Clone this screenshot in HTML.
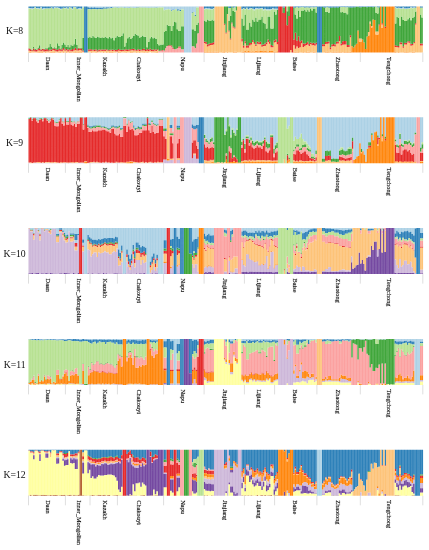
<!DOCTYPE html><html><head><meta charset="utf-8"><title>Structure K=8-12</title><style>html,body{margin:0;padding:0;background:#fff}svg{display:block}text{font-family:"Liberation Serif",serif;fill:#111}</style></head><body>
<svg width="429" height="550" viewBox="0 0 429 550">
<rect width="429" height="550" fill="#fff"/>
<defs><filter id="soft" x="-2%" y="-10%" width="104%" height="120%"><feGaussianBlur stdDeviation="0.38"/></filter></defs>
<g filter="url(#soft)"><path fill="#FF8711" d="M28.5 51.95h1.38v0.55h-1.38zM29.99 51.81h1.38v0.69h-1.38zM31.49 52.31h1.38v0.19h-1.38zM32.98 52.36h1.38v0.14h-1.38zM34.48 52.24h1.38v0.26h-1.38zM35.97 52.16h1.38v0.34h-1.38zM37.47 51.88h1.38v0.62h-1.38zM38.96 52.12h1.38v0.38h-1.38zM40.46 52.08h1.38v0.42h-1.38zM41.95 52h1.38v0.5h-1.38zM43.44 52.4h1.38v0.1h-1.38zM44.94 52h1.38v0.5h-1.38zM46.43 52.31h1.38v0.19h-1.38zM47.93 52.15h1.38v0.35h-1.38zM49.42 51.84h1.38v0.66h-1.38zM50.92 51.76h1.38v0.74h-1.38zM52.41 51.43h1.38v1.07h-1.38zM53.91 52.01h1.38v0.49h-1.38zM55.4 52.19h1.38v0.31h-1.38zM56.89 52.33h1.38v0.17h-1.38zM58.39 52.03h1.38v0.47h-1.38zM59.88 51.53h1.38v0.97h-1.38zM61.38 52.15h1.38v0.35h-1.38zM62.87 51.45h1.38v1.05h-1.38zM64.37 52.36h1.38v0.14h-1.38zM65.86 51.58h1.38v0.92h-1.38zM67.36 52.33h1.38v0.17h-1.38zM68.85 52.12h1.38v0.38h-1.38zM70.34 51.95h1.38v0.55h-1.38zM71.84 52.27h1.38v0.23h-1.38zM73.33 51.71h1.38v0.79h-1.38zM74.83 51.49h1.38v1.01h-1.38zM76.32 51.92h1.38v0.58h-1.38zM77.82 51.85h1.38v0.65h-1.38zM79.31 51.61h1.38v0.89h-1.38zM80.81 51.53h1.38v0.97h-1.38zM87.7 52.13h1.41v0.37h-1.41zM90.75 52.06h1.41v0.44h-1.41zM92.28 52.24h1.41v0.26h-1.41zM95.33 52.08h1.41v0.42h-1.41zM96.85 52.35h1.41v0.15h-1.41zM98.38 52.38h1.41v0.12h-1.41zM99.9 52.23h1.41v0.27h-1.41zM101.42 52.38h1.41v0.12h-1.41zM102.95 51.97h1.41v0.53h-1.41zM104.47 52.42h1.41v0.08h-1.41zM106 52.07h1.39v0.43h-1.39zM107.5 52.23h1.39v0.27h-1.39zM109 52.12h1.39v0.38h-1.39zM110.5 51.91h1.39v0.59h-1.39zM112 51.98h1.39v0.52h-1.39zM113.5 52.31h1.39v0.19h-1.39zM115 52.23h1.39v0.27h-1.39zM116.5 52.42h1.39v0.08h-1.39zM118 52.12h1.39v0.38h-1.39zM119.5 52.09h1.39v0.41h-1.39zM122.5 52.34h1.39v0.16h-1.39zM124 52.13h1.39v0.37h-1.39zM125.5 51.96h1.39v0.54h-1.39zM127 52.42h1.39v0.08h-1.39zM128.5 52.27h1.39v0.23h-1.39zM130 51.93h1.39v0.57h-1.39zM131.5 52.07h1.39v0.43h-1.39zM133 52.37h1.39v0.13h-1.39zM134.5 52.18h1.39v0.32h-1.39zM136 51.99h1.39v0.51h-1.39zM137.5 52.17h1.39v0.33h-1.39zM139 52.01h1.39v0.49h-1.39zM140.5 52.3h1.39v0.2h-1.39zM142 52.19h1.39v0.31h-1.39zM143.5 51.93h1.39v0.57h-1.39zM145 52.37h1.39v0.13h-1.39zM146.5 52.12h1.39v0.38h-1.39zM148 52.31h1.39v0.19h-1.39zM149.5 52.38h1.39v0.12h-1.39zM151 52.16h1.39v0.34h-1.39zM152.5 52.14h1.39v0.36h-1.39zM154 52.26h1.39v0.24h-1.39zM155.5 52.09h1.39v0.41h-1.39zM157 51.93h1.39v0.57h-1.39zM203.9 51.48h1.39v1.02h-1.39zM205.4 51.98h1.39v0.52h-1.39zM206.9 51.9h1.39v0.6h-1.39zM208.4 51.72h1.39v0.78h-1.39zM209.9 51.94h1.39v0.56h-1.39zM211.4 51.46h1.39v1.04h-1.39zM212.9 51.49h1.39v1.01h-1.39zM214.4 51.76h1.49v0.74h-1.49zM216 51.69h1.49v0.81h-1.49zM217.6 51.6h1.49v0.9h-1.49zM219.2 52.18h1.49v0.32h-1.49zM220.8 52.19h1.49v0.31h-1.49zM222.4 51.58h1.49v0.92h-1.49zM224 52h1.34v0.5h-1.34zM226.9 51.7h1.34v0.8h-1.34zM232.7 52h1.34v0.5h-1.34zM234.15 51.7h1.34v0.8h-1.34zM235.6 51.7h1.34v0.8h-1.34zM241.4 51.58h1.42v0.92h-1.42zM242.93 51.56h1.42v0.94h-1.42zM244.47 50.97h1.42v1.53h-1.42zM246 51.4h1.42v1.1h-1.42zM247.53 51.12h1.42v1.38h-1.42zM249.07 51.29h1.42v1.21h-1.42zM250.6 51.61h1.42v0.89h-1.42zM252.13 51.25h1.42v1.25h-1.42zM253.67 51.62h1.42v0.88h-1.42zM255.2 50.87h1.42v1.63h-1.42zM256.73 51.34h1.42v1.16h-1.42zM258.27 51.28h1.42v1.22h-1.42zM259.8 51.1h1.42v1.4h-1.42zM261.33 51.06h1.42v1.44h-1.42zM262.87 51.29h1.42v1.21h-1.42zM264.4 51.1h1.42v1.4h-1.42zM265.93 51.2h1.42v1.3h-1.42zM267.47 51.54h1.42v0.96h-1.42zM269 50.99h1.42v1.51h-1.42zM270.53 51.11h1.42v1.39h-1.42zM272.07 51.08h1.42v1.42h-1.42zM273.6 51.79h1.42v0.71h-1.42zM275.13 51.57h1.42v0.93h-1.42zM276.67 51.14h1.42v1.36h-1.42zM293.2 51.6h1.45v0.9h-1.45zM294.76 51.84h1.45v0.66h-1.45zM296.31 51.62h1.45v0.88h-1.45zM297.87 51.91h1.45v0.59h-1.45zM299.42 52.19h1.45v0.31h-1.45zM300.98 52.36h1.45v0.14h-1.45zM302.53 52.1h1.45v0.4h-1.45zM304.09 52.2h1.45v0.3h-1.45zM305.64 51.96h1.45v0.54h-1.45zM307.2 51.63h1.3v0.87h-1.3zM308.61 51.75h1.3v0.75h-1.3zM310.03 52.36h1.3v0.14h-1.3zM311.44 52.26h1.3v0.24h-1.3zM312.86 51.64h1.3v0.86h-1.3zM314.27 52.11h1.3v0.39h-1.3zM315.69 52.17h1.3v0.33h-1.3zM322 52.2h1.43v0.3h-1.43zM323.54 52.27h1.43v0.23h-1.43zM325.08 52.09h1.43v0.41h-1.43zM326.63 51.8h1.43v0.7h-1.43zM328.17 51.61h1.43v0.89h-1.43zM329.71 52.34h1.43v0.16h-1.43zM331.25 52.06h1.43v0.44h-1.43zM332.79 51.62h1.43v0.88h-1.43zM334.34 51.98h1.43v0.52h-1.43zM335.88 51.82h1.43v0.68h-1.43zM337.42 51.62h1.43v0.88h-1.43zM338.96 51.92h1.43v0.58h-1.43zM340.51 51.9h1.43v0.6h-1.43zM342.05 52.24h1.43v0.26h-1.43zM343.59 51.98h1.43v0.52h-1.43zM345.13 52.05h1.43v0.45h-1.43zM346.67 52.04h1.43v0.46h-1.43zM348.22 51.93h1.43v0.57h-1.43zM349.76 51.78h1.43v0.72h-1.43zM351.3 46.1h1.4v6.4h-1.4zM352.81 47.5h1.4v5h-1.4zM354.33 45.5h1.4v7h-1.4zM355.84 43.8h1.4v8.7h-1.4zM357.35 30.5h1.4v22h-1.4zM358.87 41.5h1.4v11h-1.4zM360.38 41.5h1.4v11h-1.4zM361.89 39.5h1.4v13h-1.4zM363.4 42.5h1.4v10h-1.4zM364.92 49h1.4v3.5h-1.4zM366.43 36.5h1.4v16h-1.4zM367.94 35.5h1.4v17h-1.4zM369.46 23.5h1.4v29h-1.4zM370.97 27.5h1.4v25h-1.4zM372.48 19.5h1.4v33h-1.4zM374 19.9h1.4v32.6h-1.4zM375.51 34.5h1.4v18h-1.4zM377.02 34.5h1.4v18h-1.4zM378.53 25.5h1.4v27h-1.4zM380.05 6.5h1.4v46h-1.4zM381.56 28h1.4v24.5h-1.4zM383.07 6.5h1.4v46h-1.4zM384.59 28h1.4v24.5h-1.4zM386.1 6.5h1.34v46h-1.34zM387.55 6.5h1.34v46h-1.34zM389 6.5h1.34v46h-1.34zM390.45 6.5h1.34v46h-1.34zM391.9 6.5h1.34v46h-1.34zM393.35 6.5h1.34v46h-1.34zM394.8 52.06h1.44v0.44h-1.44zM396.35 52.34h1.44v0.16h-1.44zM397.91 51.9h1.44v0.6h-1.44zM399.46 52.13h1.44v0.37h-1.44zM401.02 52.3h1.44v0.2h-1.44zM402.57 52.23h1.44v0.27h-1.44zM404.12 52.1h1.44v0.4h-1.44zM405.68 51.96h1.44v0.54h-1.44zM407.23 52.1h1.44v0.4h-1.44zM408.78 52.33h1.44v0.17h-1.44zM410.34 52.16h1.44v0.34h-1.44zM411.89 51.87h1.44v0.63h-1.44zM413.45 51.84h1.44v0.66h-1.44z"/><path fill="#FDC378" d="M28.5 50.69h1.38v1.26h-1.38zM29.99 50.93h1.38v0.88h-1.38zM31.49 51.3h1.38v1h-1.38zM32.98 50.68h1.38v1.68h-1.38zM34.48 51.53h1.38v0.72h-1.38zM35.97 51.43h1.38v0.73h-1.38zM37.47 50.54h1.38v1.34h-1.38zM38.96 50.42h1.38v1.7h-1.38zM40.46 51.16h1.38v0.93h-1.38zM41.95 50.45h1.38v1.55h-1.38zM43.44 51.49h1.38v0.91h-1.38zM44.94 51.23h1.38v0.77h-1.38zM46.43 51.28h1.38v1.03h-1.38zM47.93 51.35h1.38v0.8h-1.38zM49.42 50.69h1.38v1.15h-1.38zM50.92 50.94h1.38v0.82h-1.38zM52.41 49.93h1.38v1.5h-1.38zM53.91 50.45h1.38v1.55h-1.38zM55.4 51.23h1.38v0.96h-1.38zM56.89 51.54h1.38v0.79h-1.38zM58.39 50.88h1.38v1.15h-1.38zM59.88 50.65h1.38v0.88h-1.38zM61.38 51.26h1.38v0.89h-1.38zM62.87 49.87h1.38v1.58h-1.38zM64.37 50.7h1.38v1.66h-1.38zM65.86 50.28h1.38v1.3h-1.38zM67.36 51.4h1.38v0.93h-1.38zM68.85 50.5h1.38v1.62h-1.38zM70.34 51.19h1.38v0.76h-1.38zM71.84 51.21h1.38v1.06h-1.38zM73.33 50.42h1.38v1.28h-1.38zM74.83 50.09h1.38v1.4h-1.38zM76.32 50.49h1.38v1.43h-1.38zM77.82 50.42h1.38v1.44h-1.38zM79.31 49.99h1.38v1.62h-1.38zM80.81 50.41h1.38v1.12h-1.38zM82.3 51.5h1.69v1h-1.69zM87.7 50.84h1.41v1.28h-1.41zM89.23 50.96h1.41v1.54h-1.41zM90.75 50.77h1.41v1.29h-1.41zM92.28 50.5h1.41v1.74h-1.41zM93.8 51h1.41v1.5h-1.41zM95.33 50.68h1.41v1.4h-1.41zM96.85 51.44h1.41v0.91h-1.41zM98.38 51.31h1.41v1.07h-1.41zM99.9 50.44h1.41v1.79h-1.41zM101.42 51.05h1.41v1.33h-1.41zM102.95 50.69h1.41v1.28h-1.41zM104.47 51.02h1.41v1.4h-1.41zM106 50.22h1.39v1.85h-1.39zM107.5 51.05h1.39v1.18h-1.39zM109 50.73h1.39v1.39h-1.39zM110.5 50.56h1.39v1.35h-1.39zM112 51.03h1.39v0.94h-1.39zM113.5 50.62h1.39v1.69h-1.39zM115 51.3h1.39v0.92h-1.39zM116.5 51.47h1.39v0.95h-1.39zM118 50.57h1.39v1.56h-1.39zM119.5 50.99h1.39v1.1h-1.39zM121 51.13h1.39v1.37h-1.39zM122.5 51.09h1.39v1.25h-1.39zM124 50.48h1.39v1.66h-1.39zM125.5 50.97h1.39v0.99h-1.39zM127 51.07h1.39v1.35h-1.39zM128.5 50.81h1.39v1.47h-1.39zM130 50.57h1.39v1.36h-1.39zM131.5 50.35h1.39v1.72h-1.39zM133 50.57h1.39v1.8h-1.39zM134.5 50.49h1.39v1.69h-1.39zM136 50.74h1.39v1.25h-1.39zM137.5 50.5h1.39v1.67h-1.39zM139 51.05h1.39v0.96h-1.39zM140.5 50.61h1.39v1.69h-1.39zM142 50.57h1.39v1.62h-1.39zM143.5 50.54h1.39v1.39h-1.39zM145 50.94h1.39v1.43h-1.39zM146.5 50.69h1.39v1.42h-1.39zM148 51.03h1.39v1.28h-1.39zM149.5 50.62h1.39v1.75h-1.39zM151 51.06h1.39v1.1h-1.39zM152.5 51.21h1.39v0.93h-1.39zM154 50.56h1.39v1.7h-1.39zM155.5 51.12h1.39v0.97h-1.39zM157 50.1h1.39v1.82h-1.39zM203.9 42.98h1.39v8.5h-1.39zM205.4 43.98h1.39v8h-1.39zM206.9 46.5h1.39v5.4h-1.39zM208.4 45.72h1.39v6h-1.39zM209.9 44.94h1.39v7h-1.39zM211.4 44.96h1.39v6.5h-1.39zM212.9 44.49h1.39v7h-1.39zM214.4 6.5h1.49v45.26h-1.49zM216 6.5h1.49v45.19h-1.49zM217.6 6.5h1.49v45.1h-1.49zM219.2 6.5h1.49v45.68h-1.49zM220.8 6.5h1.49v45.69h-1.49zM222.4 6.5h1.49v45.08h-1.49zM224 24.7h1.34v27.3h-1.34zM225.45 33.5h1.34v19h-1.34zM226.9 13.9h1.34v37.8h-1.34zM228.35 31.5h1.34v21h-1.34zM229.8 39.5h1.34v13h-1.34zM231.25 23.5h1.34v29h-1.34zM232.7 27.5h1.34v24.5h-1.34zM234.15 28.5h1.34v23.2h-1.34zM235.6 10.5h1.34v41.2h-1.34zM237.05 6.5h1.34v46h-1.34zM238.5 6.5h1.34v46h-1.34zM239.95 6.5h1.34v46h-1.34zM241.4 41.5h1.42v10.08h-1.42zM242.93 47.8h1.42v3.76h-1.42zM244.47 43.2h1.42v7.77h-1.42zM246 47.8h1.42v3.6h-1.42zM247.53 47.8h1.42v3.32h-1.42zM249.07 45.5h1.42v5.79h-1.42zM250.6 44.5h1.42v7.11h-1.42zM252.13 42h1.42v9.25h-1.42zM253.67 43.8h1.42v7.82h-1.42zM255.2 46.1h1.42v4.77h-1.42zM256.73 43.8h1.42v7.54h-1.42zM258.27 44.3h1.42v6.98h-1.42zM259.8 44.3h1.42v6.8h-1.42zM261.33 46.7h1.42v4.36h-1.42zM262.87 46.1h1.42v5.19h-1.42zM264.4 46.1h1.42v5h-1.42zM265.93 44.3h1.42v6.9h-1.42zM267.47 42h1.42v9.54h-1.42zM269 43.8h1.42v7.19h-1.42zM270.53 47.3h1.42v3.81h-1.42zM272.07 47.3h1.42v3.78h-1.42zM273.6 42.5h1.42v9.29h-1.42zM275.13 42h1.42v9.57h-1.42zM276.67 44.3h1.42v6.84h-1.42zM290 50h1.49v2.5h-1.49zM293.2 45.2h1.45v6.4h-1.45zM294.76 48.84h1.45v3h-1.45zM296.31 46.62h1.45v5h-1.45zM297.87 47.91h1.45v4h-1.45zM299.42 47.19h1.45v5h-1.45zM300.98 43.36h1.45v9h-1.45zM302.53 47.1h1.45v5h-1.45zM304.09 46.2h1.45v6h-1.45zM305.64 44.96h1.45v7h-1.45zM307.2 44.42h1.3v7.2h-1.3zM308.61 46.02h1.3v5.73h-1.3zM310.03 44.07h1.3v8.29h-1.3zM311.44 45.28h1.3v6.99h-1.3zM312.86 44.88h1.3v6.76h-1.3zM314.27 45.75h1.3v6.36h-1.3zM315.69 44.52h1.3v7.65h-1.3zM322 46.2h1.43v6h-1.43zM323.54 46.27h1.43v6h-1.43zM325.08 44.09h1.43v8h-1.43zM326.63 43.8h1.43v8h-1.43zM328.17 43.61h1.43v8h-1.43zM329.71 49.34h1.43v3h-1.43zM331.25 46.56h1.43v5.5h-1.43zM332.79 46.12h1.43v5.5h-1.43zM334.34 46.48h1.43v5.5h-1.43zM335.88 43.82h1.43v8h-1.43zM337.42 43.62h1.43v8h-1.43zM338.96 40.92h1.43v11h-1.43zM340.51 45.5h1.43v6.4h-1.43zM342.05 44.74h1.43v7.5h-1.43zM343.59 44.48h1.43v7.5h-1.43zM345.13 44.55h1.43v7.5h-1.43zM346.67 47.04h1.43v5h-1.43zM348.22 46.93h1.43v5h-1.43zM349.76 37.28h1.43v14.5h-1.43zM358.87 38.5h1.4v3h-1.4zM360.38 38.5h1.4v3h-1.4zM367.94 32h1.4v3.5h-1.4zM369.46 21.5h1.4v2h-1.4zM370.97 26h1.4v1.5h-1.4zM375.51 31.5h1.4v3h-1.4zM377.02 31.5h1.4v3h-1.4zM381.56 24.5h1.4v3.5h-1.4zM394.8 47.06h1.44v5h-1.44zM396.35 47.34h1.44v5h-1.44zM397.91 47.4h1.44v4.5h-1.44zM399.46 44.13h1.44v8h-1.44zM401.02 44.3h1.44v8h-1.44zM402.57 47.73h1.44v4.5h-1.44zM404.12 44.6h1.44v7.5h-1.44zM405.68 44.46h1.44v7.5h-1.44zM407.23 42.6h1.44v9.5h-1.44zM408.78 42.83h1.44v9.5h-1.44zM410.34 45.66h1.44v6.5h-1.44zM411.89 45.37h1.44v6.5h-1.44zM413.45 43.34h1.44v8.5h-1.44zM415 24.5h1.29v28h-1.29zM416.4 6.5h1.69v46h-1.69zM418.2 6.5h1.69v46h-1.69zM420 45.5h1.34v7h-1.34zM421.45 45.5h1.34v7h-1.34z"/><path fill="#E5292B" d="M28.5 48.49h1.38v2.19h-1.38zM29.99 49.31h1.38v1.62h-1.38zM31.49 50.28h1.38v1.03h-1.38zM32.98 48.43h1.38v2.25h-1.38zM34.48 49.89h1.38v1.64h-1.38zM35.97 49.88h1.38v1.55h-1.38zM37.47 48.94h1.38v1.6h-1.38zM38.96 48.13h1.38v2.29h-1.38zM40.46 49.85h1.38v1.3h-1.38zM41.95 49.01h1.38v1.44h-1.38zM43.44 49.32h1.38v2.17h-1.38zM44.94 49.45h1.38v1.78h-1.38zM46.43 49.03h1.38v2.25h-1.38zM47.93 50.37h1.38v0.98h-1.38zM49.42 49.53h1.38v1.17h-1.38zM50.92 49.45h1.38v1.49h-1.38zM52.41 48.6h1.38v1.33h-1.38zM53.91 48.65h1.38v1.8h-1.38zM55.4 49.25h1.38v1.98h-1.38zM56.89 49.82h1.38v1.72h-1.38zM58.39 48.63h1.38v2.24h-1.38zM59.88 49.53h1.38v1.12h-1.38zM61.38 49.33h1.38v1.94h-1.38zM62.87 48.12h1.38v1.74h-1.38zM64.37 49.46h1.38v1.23h-1.38zM65.86 48.97h1.38v1.31h-1.38zM67.36 49.72h1.38v1.68h-1.38zM68.85 49.32h1.38v1.19h-1.38zM70.34 50.05h1.38v1.15h-1.38zM71.84 49.06h1.38v2.15h-1.38zM73.33 49.33h1.38v1.1h-1.38zM74.83 47.84h1.38v2.25h-1.38zM76.32 49.14h1.38v1.35h-1.38zM77.82 48.26h1.38v2.16h-1.38zM79.31 48.6h1.38v1.39h-1.38zM80.81 48.41h1.38v2.01h-1.38zM82.3 50.5h1.69v1h-1.69zM87.7 49.54h1.41v1.3h-1.41zM89.23 49.17h1.41v1.79h-1.41zM90.75 49.29h1.41v1.48h-1.41zM92.28 49.8h1.41v0.7h-1.41zM93.8 49.82h1.41v1.18h-1.41zM95.33 49.35h1.41v1.34h-1.41zM96.85 50.47h1.41v0.96h-1.41zM98.38 49.62h1.41v1.69h-1.41zM99.9 49.45h1.41v0.99h-1.41zM101.42 49.48h1.41v1.57h-1.41zM102.95 49.39h1.41v1.3h-1.41zM104.47 49.42h1.41v1.6h-1.41zM106 49.29h1.39v0.93h-1.39zM107.5 50.2h1.39v0.86h-1.39zM109 49.75h1.39v0.98h-1.39zM110.5 49.87h1.39v0.69h-1.39zM112 49.58h1.39v1.45h-1.39zM113.5 50h1.39v0.62h-1.39zM115 49.71h1.39v1.6h-1.39zM116.5 50.11h1.39v1.36h-1.39zM118 49h1.39v1.57h-1.39zM119.5 49.82h1.39v1.17h-1.39zM121 49.67h1.39v1.46h-1.39zM122.5 49.65h1.39v1.44h-1.39zM124 49.4h1.39v1.07h-1.39zM125.5 49.25h1.39v1.72h-1.39zM127 49.72h1.39v1.35h-1.39zM128.5 49.15h1.39v1.66h-1.39zM130 49.19h1.39v1.38h-1.39zM131.5 48.98h1.39v1.37h-1.39zM133 48.8h1.39v1.78h-1.39zM134.5 49.5h1.39v0.98h-1.39zM136 50.04h1.39v0.7h-1.39zM137.5 49.32h1.39v1.18h-1.39zM139 49.49h1.39v1.56h-1.39zM140.5 49.84h1.39v0.77h-1.39zM142 48.96h1.39v1.61h-1.39zM143.5 48.8h1.39v1.74h-1.39zM145 49.99h1.39v0.95h-1.39zM146.5 49.08h1.39v1.61h-1.39zM148 49.42h1.39v1.61h-1.39zM149.5 48.86h1.39v1.76h-1.39zM151 49.81h1.39v1.24h-1.39zM152.5 49.45h1.39v1.76h-1.39zM154 49.28h1.39v1.28h-1.39zM155.5 49.87h1.39v1.25h-1.39zM157 49.18h1.39v0.92h-1.39zM158.5 50.77h1.59v0.6h-1.59zM160.2 50.47h1.59v0.6h-1.59zM161.9 50.08h1.59v0.6h-1.59zM165.06 48h1.35v0.5h-1.35zM167.97 45.3h1.35v0.8h-1.35zM169.43 45.3h1.35v0.8h-1.35zM170.89 45.5h1.35v1.2h-1.35zM172.34 47.8h1.35v1.2h-1.35zM175.26 49h1.35v0.5h-1.35zM178.17 46.6h1.35v1.2h-1.35zM179.63 46.6h1.35v1.2h-1.35zM203.9 41.38h1.39v1.6h-1.39zM205.4 41.97h1.39v2.01h-1.39zM206.9 44.47h1.39v2.03h-1.39zM208.4 43.81h1.39v1.91h-1.39zM209.9 43.24h1.39v1.7h-1.39zM211.4 42.93h1.39v2.03h-1.39zM212.9 42.13h1.39v2.36h-1.39zM224 23.7h1.34v1h-1.34zM225.45 32.5h1.34v1h-1.34zM228.35 30.5h1.34v1h-1.34zM229.8 38.5h1.34v1h-1.34zM231.25 22.5h1.34v1h-1.34zM232.7 26.5h1.34v1h-1.34zM234.15 27.5h1.34v1h-1.34zM241.4 38.8h1.42v2.7h-1.42zM242.93 45.43h1.42v2.37h-1.42zM244.47 41.19h1.42v2.01h-1.42zM246 45.48h1.42v2.32h-1.42zM247.53 45.21h1.42v2.59h-1.42zM249.07 43.09h1.42v2.41h-1.42zM250.6 42.92h1.42v1.58h-1.42zM252.13 39.88h1.42v2.12h-1.42zM253.67 42.06h1.42v1.74h-1.42zM255.2 44.49h1.42v1.61h-1.42zM256.73 41.38h1.42v2.42h-1.42zM258.27 42.28h1.42v2.02h-1.42zM259.8 41.79h1.42v2.51h-1.42zM261.33 44.71h1.42v1.99h-1.42zM262.87 44.58h1.42v1.52h-1.42zM264.4 43.57h1.42v2.53h-1.42zM265.93 42.19h1.42v2.11h-1.42zM267.47 39.41h1.42v2.59h-1.42zM269 41.81h1.42v1.99h-1.42zM270.53 44.88h1.42v2.42h-1.42zM272.07 45.72h1.42v1.58h-1.42zM273.6 40.57h1.42v1.93h-1.42zM275.13 39.37h1.42v2.63h-1.42zM276.67 42.12h1.42v2.18h-1.42zM278.2 6.5h1.39v46h-1.39zM279.7 6.5h1.39v46h-1.39zM281.2 6.5h1.39v46h-1.39zM282.7 13h1.04v39.5h-1.04zM283.85 13h1.04v39.5h-1.04zM285 6.5h1.49v46h-1.49zM286.6 25.2h1.49v27.3h-1.49zM288.2 16h1.69v36.5h-1.69zM290 6.5h1.49v43.5h-1.49zM291.6 6.5h1.49v46h-1.49zM293.2 39.4h1.45v5.8h-1.45zM294.76 32.84h1.45v16h-1.45zM296.31 40.62h1.45v6h-1.45zM297.87 36.31h1.45v11.6h-1.45zM299.42 41.19h1.45v6h-1.45zM300.98 40.36h1.45v3h-1.45zM302.53 43.6h1.45v3.5h-1.45zM304.09 43.7h1.45v2.5h-1.45zM305.64 42.96h1.45v2h-1.45zM307.2 41.83h1.3v2.59h-1.3zM308.61 43.91h1.3v2.12h-1.3zM310.03 42.48h1.3v1.59h-1.3zM311.44 43.14h1.3v2.13h-1.3zM312.86 42.85h1.3v2.03h-1.3zM314.27 43.56h1.3v2.19h-1.3zM315.69 42.77h1.3v1.76h-1.3zM322 44.2h1.43v2h-1.43zM323.54 44.27h1.43v2h-1.43zM325.08 42.09h1.43v2h-1.43zM326.63 41.8h1.43v2h-1.43zM328.17 41.61h1.43v2h-1.43zM329.71 47.34h1.43v2h-1.43zM331.25 44.56h1.43v2h-1.43zM332.79 44.12h1.43v2h-1.43zM334.34 44.48h1.43v2h-1.43zM335.88 41.82h1.43v2h-1.43zM337.42 41.62h1.43v2h-1.43zM338.96 35.92h1.43v5h-1.43zM340.51 43.5h1.43v2h-1.43zM342.05 41.24h1.43v3.5h-1.43zM343.59 40.98h1.43v3.5h-1.43zM345.13 41.05h1.43v3.5h-1.43zM346.67 45.04h1.43v2h-1.43zM348.22 44.93h1.43v2h-1.43zM349.76 35.28h1.43v2h-1.43zM378.53 24.3h1.4v1.2h-1.4zM381.56 23.3h1.4v1.2h-1.4zM384.59 26.6h1.4v1.4h-1.4zM394.8 45.36h1.44v1.7h-1.44zM396.35 46.07h1.44v1.27h-1.44zM397.91 45.9h1.44v1.5h-1.44zM399.46 42.33h1.44v1.8h-1.44zM401.02 42.46h1.44v1.85h-1.44zM402.57 46.19h1.44v1.54h-1.44zM404.12 42.88h1.44v1.72h-1.44zM405.68 42.66h1.44v1.8h-1.44zM407.23 41.33h1.44v1.28h-1.44zM408.78 41.18h1.44v1.65h-1.44zM410.34 43.84h1.44v1.82h-1.44zM411.89 44.1h1.44v1.27h-1.44zM413.45 41.92h1.44v1.43h-1.44zM415 23.3h1.29v1.2h-1.29zM420 43.5h1.34v2h-1.34zM421.45 43.5h1.34v2h-1.34z"/><path fill="#40A63A" d="M28.5 48.19h1.38v0.3h-1.38zM29.99 49.01h1.38v0.3h-1.38zM31.49 49.78h1.38v0.5h-1.38zM32.98 46.93h1.38v1.5h-1.38zM34.48 48.69h1.38v1.2h-1.38zM35.97 49.58h1.38v0.3h-1.38zM37.47 47.44h1.38v1.5h-1.38zM38.96 45.13h1.38v3h-1.38zM40.46 49.35h1.38v0.5h-1.38zM41.95 48.71h1.38v0.3h-1.38zM43.44 48.82h1.38v0.5h-1.38zM44.94 48.25h1.38v1.2h-1.38zM46.43 48.23h1.38v0.8h-1.38zM47.93 47.37h1.38v3h-1.38zM49.42 44.03h1.38v5.5h-1.38zM50.92 46.45h1.38v3h-1.38zM52.41 48.1h1.38v0.5h-1.38zM53.91 47.15h1.38v1.5h-1.38zM55.4 48.25h1.38v1h-1.38zM56.89 43.32h1.38v6.5h-1.38zM58.39 45.63h1.38v3h-1.38zM59.88 48.53h1.38v1h-1.38zM61.38 44.83h1.38v4.5h-1.38zM62.87 42.62h1.38v5.5h-1.38zM64.37 44.46h1.38v5h-1.38zM65.86 46.97h1.38v2h-1.38zM67.36 44.72h1.38v5h-1.38zM68.85 47.32h1.38v2h-1.38zM70.34 44.55h1.38v5.5h-1.38zM71.84 46.06h1.38v3h-1.38zM73.33 44.33h1.38v5h-1.38zM74.83 38.84h1.38v9h-1.38zM76.32 44.64h1.38v4.5h-1.38zM77.82 47.76h1.38v0.5h-1.38zM79.31 48.1h1.38v0.5h-1.38zM80.81 47.91h1.38v0.5h-1.38zM82.3 38h1.69v12.5h-1.69zM87.7 37.5h1.41v12.04h-1.41zM89.23 36.55h1.41v12.62h-1.41zM90.75 38.1h1.41v11.19h-1.41zM92.28 35.7h1.41v14.1h-1.41zM93.8 37.32h1.41v12.5h-1.41zM95.33 38.1h1.41v11.25h-1.41zM96.85 36.5h1.41v13.97h-1.41zM98.38 37.3h1.41v12.32h-1.41zM99.9 38.1h1.41v11.35h-1.41zM101.42 37.3h1.41v12.18h-1.41zM102.95 38.1h1.41v11.29h-1.41zM104.47 37h1.41v12.42h-1.41zM106 37.5h1.39v11.79h-1.39zM107.5 38.2h1.39v12h-1.39zM109 36.8h1.39v12.95h-1.39zM110.5 38.2h1.39v11.67h-1.39zM112 37.5h1.39v12.08h-1.39zM113.5 40.3h1.39v9.7h-1.39zM115 37.5h1.39v12.21h-1.39zM116.5 36.1h1.39v14.01h-1.39zM118 36.8h1.39v12.2h-1.39zM119.5 36.8h1.39v13.02h-1.39zM121 36.11h1.39v13.56h-1.39zM122.5 33.3h1.39v16.35h-1.39zM124 46.6h1.39v2.8h-1.39zM125.5 42.5h1.39v6.75h-1.39zM127 38.2h1.39v11.52h-1.39zM128.5 36.8h1.39v12.35h-1.39zM130 38.9h1.39v10.29h-1.39zM131.5 37.5h1.39v11.48h-1.39zM133 36.1h1.39v12.7h-1.39zM134.5 34h1.39v15.5h-1.39zM136 34.7h1.39v15.34h-1.39zM137.5 35.5h1.39v13.82h-1.39zM139 37.5h1.39v11.99h-1.39zM140.5 36.8h1.39v13.04h-1.39zM142 35.5h1.39v13.46h-1.39zM143.5 36.8h1.39v12h-1.39zM145 36.8h1.39v13.19h-1.39zM146.5 47.3h1.39v1.78h-1.39zM148 41.7h1.39v7.72h-1.39zM149.5 38.2h1.39v10.66h-1.39zM151 36.8h1.39v13.01h-1.39zM152.5 38.2h1.39v11.25h-1.39zM154 37.5h1.39v11.78h-1.39zM155.5 38.9h1.39v10.97h-1.39zM157 43.8h1.39v5.38h-1.39zM158.5 45.2h1.59v5.57h-1.59zM160.2 44.5h1.59v5.97h-1.59zM161.9 44.5h1.59v5.58h-1.59zM163.6 32.1h1.35v18.7h-1.35zM165.06 30.9h1.35v17.1h-1.35zM166.51 25.1h1.35v21h-1.35zM167.97 25.7h1.35v19.6h-1.35zM169.43 25.7h1.35v19.6h-1.35zM170.89 30.9h1.35v14.6h-1.35zM172.34 25.7h1.35v22.1h-1.35zM173.8 21.6h1.35v27.9h-1.35zM175.26 22.2h1.35v26.8h-1.35zM176.71 29.2h1.35v19.3h-1.35zM178.17 30.9h1.35v15.7h-1.35zM179.63 30.9h1.35v15.7h-1.35zM181.09 26.3h1.35v23.2h-1.35zM182.54 26.3h1.35v23.2h-1.35zM191.6 29.2h1.37v17.3h-1.37zM193.08 29.2h1.37v17.3h-1.37zM194.56 31h1.37v17h-1.37zM196.04 25.1h1.37v18.7h-1.37zM197.52 22.5h1.37v11h-1.37zM203.9 20.5h1.39v20.88h-1.39zM205.4 21.5h1.39v20.47h-1.39zM206.9 19.5h1.39v24.97h-1.39zM208.4 20.5h1.39v23.31h-1.39zM209.9 21h1.39v22.24h-1.39zM211.4 19.5h1.39v23.43h-1.39zM212.9 20.5h1.39v21.63h-1.39zM224 6.5h1.34v17.2h-1.34zM225.45 6.5h1.34v26h-1.34zM226.9 6.5h1.34v7.4h-1.34zM228.35 20.8h1.34v9.7h-1.34zM229.8 15.9h1.34v22.6h-1.34zM231.25 6.5h1.34v16h-1.34zM232.7 11h1.34v15.5h-1.34zM234.15 12h1.34v15.5h-1.34zM235.6 6.5h1.34v4h-1.34zM241.4 18.5h1.42v20.3h-1.42zM242.93 25.5h1.42v19.93h-1.42zM244.47 14.5h1.42v26.69h-1.42zM246 29.5h1.42v15.98h-1.42zM247.53 29.5h1.42v15.71h-1.42zM249.07 22.5h1.42v20.59h-1.42zM250.6 26.5h1.42v16.42h-1.42zM252.13 19.5h1.42v20.38h-1.42zM253.67 21.5h1.42v20.56h-1.42zM255.2 17.5h1.42v26.99h-1.42zM256.73 21.5h1.42v19.88h-1.42zM258.27 19.5h1.42v22.78h-1.42zM259.8 19.5h1.42v22.29h-1.42zM261.33 16.5h1.42v28.21h-1.42zM262.87 22.5h1.42v22.08h-1.42zM264.4 23.5h1.42v20.07h-1.42zM265.93 28.5h1.42v13.69h-1.42zM267.47 16.5h1.42v22.91h-1.42zM269 16.5h1.42v25.31h-1.42zM270.53 28.5h1.42v16.38h-1.42zM272.07 28.5h1.42v17.22h-1.42zM273.6 11.5h1.42v29.07h-1.42zM275.13 14.5h1.42v24.87h-1.42zM276.67 9.5h1.42v32.62h-1.42zM282.7 7.5h1.04v5.5h-1.04zM283.85 7.5h1.04v5.5h-1.04zM286.6 11.2h1.49v14h-1.49zM288.2 6.5h1.69v9.5h-1.69zM293.2 7.5h1.45v31.9h-1.45zM294.76 14.5h1.45v18.34h-1.45zM296.31 18.5h1.45v22.12h-1.45zM297.87 10.5h1.45v25.81h-1.45zM299.42 17h1.45v24.19h-1.45zM300.98 10.5h1.45v29.86h-1.45zM302.53 10.5h1.45v33.1h-1.45zM304.09 9.5h1.45v34.2h-1.45zM305.64 11.5h1.45v31.46h-1.45zM307.2 9.5h1.3v32.33h-1.3zM308.61 11.5h1.3v32.41h-1.3zM310.03 8.5h1.3v33.98h-1.3zM311.44 10.5h1.3v32.64h-1.3zM312.86 8.5h1.3v34.35h-1.3zM314.27 8.5h1.3v35.06h-1.3zM315.69 12.5h1.3v30.27h-1.3zM322 7.03h1.43v37.17h-1.43zM323.54 7.6h1.43v36.67h-1.43zM325.08 11.72h1.43v30.37h-1.43zM326.63 12.04h1.43v29.76h-1.43zM328.17 12.76h1.43v28.85h-1.43zM329.71 7.72h1.43v39.62h-1.43zM331.25 7.38h1.43v37.17h-1.43zM332.79 7.19h1.43v36.93h-1.43zM334.34 7.75h1.43v36.73h-1.43zM335.88 7.37h1.43v34.45h-1.43zM337.42 7.65h1.43v33.96h-1.43zM338.96 7.09h1.43v28.83h-1.43zM340.51 12.36h1.43v31.14h-1.43zM342.05 12.04h1.43v29.2h-1.43zM343.59 13.1h1.43v27.88h-1.43zM345.13 12.53h1.43v28.51h-1.43zM346.67 14.21h1.43v30.83h-1.43zM348.22 7.34h1.43v37.6h-1.43zM349.76 7.42h1.43v27.85h-1.43zM351.3 7.4h1.4v38.7h-1.4zM352.81 7.36h1.4v40.14h-1.4zM354.33 7.19h1.4v38.31h-1.4zM355.84 6.79h1.4v37.01h-1.4zM357.35 6.69h1.4v23.81h-1.4zM358.87 7.31h1.4v31.19h-1.4zM360.38 7.23h1.4v31.27h-1.4zM361.89 7.1h1.4v32.4h-1.4zM363.4 6.89h1.4v35.61h-1.4zM364.92 6.82h1.4v42.18h-1.4zM366.43 7.15h1.4v29.35h-1.4zM367.94 7.05h1.4v24.95h-1.4zM369.46 7.07h1.4v14.43h-1.4zM370.97 7.11h1.4v18.89h-1.4zM372.48 7.2h1.4v12.3h-1.4zM374 6.75h1.4v13.15h-1.4zM375.51 12.8h1.4v18.7h-1.4zM377.02 13.38h1.4v18.12h-1.4zM378.53 7.33h1.4v16.97h-1.4zM381.56 6.63h1.4v16.67h-1.4zM384.59 6.82h1.4v19.78h-1.4zM394.8 23.5h1.44v21.86h-1.44zM396.35 17.1h1.44v28.97h-1.44zM397.91 18.1h1.44v27.8h-1.44zM399.46 25.8h1.44v16.53h-1.44zM401.02 16.5h1.44v25.96h-1.44zM402.57 19.8h1.44v26.39h-1.44zM404.12 20.9h1.44v21.98h-1.44zM405.68 20.9h1.44v21.76h-1.44zM407.23 19.2h1.44v22.13h-1.44zM408.78 17.6h1.44v23.58h-1.44zM410.34 20.3h1.44v23.54h-1.44zM411.89 18.1h1.44v26h-1.44zM413.45 16.5h1.44v25.42h-1.44zM415 11.5h1.29v11.8h-1.29zM420 14.5h1.34v29h-1.34zM421.45 17.5h1.34v26h-1.34z"/><path fill="#2E81B9" d="M28.5 6.5h1.38v1.44h-1.38zM29.99 6.5h1.38v1.73h-1.38zM31.49 6.5h1.38v2.06h-1.38zM32.98 6.5h1.38v1.78h-1.38zM34.48 6.5h1.38v0.71h-1.38zM35.97 6.5h1.38v1.39h-1.38zM37.47 6.5h1.38v1.79h-1.38zM38.96 6.5h1.38v2.11h-1.38zM40.46 6.5h1.38v0.73h-1.38zM41.95 6.5h1.38v2.32h-1.38zM43.44 6.5h1.38v1.45h-1.38zM44.94 6.5h1.38v2h-1.38zM46.43 6.5h1.38v1.96h-1.38zM47.93 6.5h1.38v2.03h-1.38zM49.42 6.5h1.38v1.92h-1.38zM50.92 6.5h1.38v0.98h-1.38zM52.41 6.5h1.38v2.19h-1.38zM53.91 6.5h1.38v0.78h-1.38zM55.4 6.5h1.38v1.19h-1.38zM56.89 6.5h1.38v1.04h-1.38zM58.39 6.5h1.38v1.47h-1.38zM59.88 6.5h1.38v2.24h-1.38zM61.38 6.5h1.38v2.29h-1.38zM62.87 6.5h1.38v1.36h-1.38zM64.37 6.5h1.38v1.87h-1.38zM65.86 6.5h1.38v0.92h-1.38zM67.36 6.5h1.38v2.13h-1.38zM68.85 6.5h1.38v0.63h-1.38zM70.34 6.5h1.38v1.26h-1.38zM71.84 6.5h1.38v2.36h-1.38zM73.33 6.5h1.38v0.66h-1.38zM74.83 6.5h1.38v0.64h-1.38zM76.32 6.5h1.38v2.4h-1.38zM77.82 6.5h1.38v1.93h-1.38zM79.31 6.5h1.38v1.83h-1.38zM80.81 6.5h1.38v2.15h-1.38zM84.1 6.5h1.69v46h-1.69zM85.9 6.5h1.69v46h-1.69zM87.7 7.37h1.41v2h-1.41zM89.23 7.53h1.41v1.6h-1.41zM90.75 7.35h1.41v2.2h-1.41zM92.28 7.45h1.41v1.5h-1.41zM93.8 7.14h1.41v2h-1.41zM95.33 7.55h1.41v1.8h-1.41zM96.85 7.41h1.41v2.2h-1.41zM98.38 7.4h1.41v1.6h-1.41zM99.9 7.4h1.41v1.8h-1.41zM101.42 7.55h1.41v2h-1.41zM102.95 7.19h1.41v1.5h-1.41zM104.47 7.51h1.41v1.2h-1.41zM106 7.2h1.39v1.5h-1.39zM107.5 7.35h1.39v1.2h-1.39zM109 7.6h1.39v1h-1.39zM110.5 7.12h1.39v0.8h-1.39zM112 7.44h1.39v0.5h-1.39zM113.5 7.18h1.39v0.3h-1.39zM115 7.24h1.39v0.3h-1.39zM116.5 7.37h1.39v0.3h-1.39zM118 7.68h1.39v0.3h-1.39zM119.5 7.21h1.39v0.3h-1.39zM121 7.21h1.39v0.3h-1.39zM122.5 7.41h1.39v0.3h-1.39zM124 7.58h1.39v0.3h-1.39zM125.5 7.53h1.39v0.3h-1.39zM127 7.65h1.39v0.3h-1.39zM128.5 7.58h1.39v0.3h-1.39zM130 7.22h1.39v0.3h-1.39zM131.5 7.53h1.39v0.3h-1.39zM133 7.69h1.39v0.3h-1.39zM134.5 7.65h1.39v0.3h-1.39zM136 7.36h1.39v0.3h-1.39zM137.5 7.12h1.39v0.3h-1.39zM139 7.2h1.39v0.3h-1.39zM140.5 7.19h1.39v0.3h-1.39zM142 7.51h1.39v0.3h-1.39zM143.5 7.15h1.39v0.3h-1.39zM145 7.54h1.39v0.3h-1.39zM146.5 7.44h1.39v0.3h-1.39zM148 7.64h1.39v0.3h-1.39zM149.5 7.41h1.39v0.3h-1.39zM151 7.4h1.39v0.3h-1.39zM152.5 7.41h1.39v0.3h-1.39zM154 7.39h1.39v0.3h-1.39zM155.5 7.35h1.39v0.3h-1.39zM157 7.38h1.39v0.3h-1.39zM170.89 10.3h1.35v1h-1.35zM172.34 9.18h1.35v0.8h-1.35zM176.71 9.27h1.35v1.5h-1.35zM178.17 9.32h1.35v1.2h-1.35zM179.63 9.96h1.35v1.2h-1.35zM191.6 12h1.37v0.8h-1.37zM194.56 14.7h1.37v1.2h-1.37zM203.9 6.5h1.39v2.32h-1.39zM205.4 6.5h1.39v1.65h-1.39zM206.9 6.5h1.39v1.91h-1.39zM208.4 6.5h1.39v2.04h-1.39zM209.9 6.5h1.39v2.18h-1.39zM211.4 6.5h1.39v2.49h-1.39zM212.9 6.5h1.39v1.63h-1.39zM228.35 6.5h1.34v1.5h-1.34zM229.8 6.5h1.34v1.5h-1.34zM232.7 6.5h1.34v1.2h-1.34zM234.15 6.5h1.34v1h-1.34zM241.4 6.5h1.42v2.72h-1.42zM242.93 6.5h1.42v1.72h-1.42zM244.47 6.5h1.42v2.56h-1.42zM246 6.5h1.42v1.33h-1.42zM247.53 6.5h1.42v2.85h-1.42zM249.07 6.5h1.42v2.1h-1.42zM250.6 6.5h1.42v1.47h-1.42zM252.13 6.5h1.42v2.21h-1.42zM253.67 6.5h1.42v2.64h-1.42zM255.2 6.5h1.42v1.4h-1.42zM256.73 6.5h1.42v1.82h-1.42zM258.27 6.5h1.42v2.26h-1.42zM259.8 6.5h1.42v1.59h-1.42zM261.33 6.5h1.42v1.61h-1.42zM262.87 6.5h1.42v2.73h-1.42zM264.4 6.5h1.42v2.31h-1.42zM265.93 6.5h1.42v2.87h-1.42zM267.47 6.5h1.42v2.49h-1.42zM269 6.5h1.42v2.73h-1.42zM270.53 6.5h1.42v2.52h-1.42zM272.07 6.5h1.42v1.85h-1.42zM273.6 6.5h1.42v2.32h-1.42zM275.13 6.5h1.42v2.37h-1.42zM276.67 6.5h1.42v2.15h-1.42zM282.7 6.5h1.04v1h-1.04zM283.85 6.5h1.04v1h-1.04zM293.2 6.5h1.45v1h-1.45zM294.76 6.5h1.45v1.21h-1.45zM296.31 6.5h1.45v0.62h-1.45zM297.87 6.5h1.45v1.19h-1.45zM299.42 6.5h1.45v0.92h-1.45zM300.98 6.5h1.45v0.76h-1.45zM302.53 6.5h1.45v0.68h-1.45zM304.09 6.5h1.45v1.32h-1.45zM305.64 6.5h1.45v1.01h-1.45zM307.2 6.5h1.3v1.11h-1.3zM308.61 6.5h1.3v1.21h-1.3zM310.03 6.5h1.3v0.98h-1.3zM311.44 6.5h1.3v0.65h-1.3zM312.86 6.5h1.3v1.08h-1.3zM314.27 6.5h1.3v1.05h-1.3zM315.69 6.5h1.3v0.61h-1.3zM317.1 6.5h1.52v46h-1.52zM318.73 6.5h1.52v46h-1.52zM320.37 6.5h1.52v46h-1.52zM322 6.5h1.43v0.53h-1.43zM323.54 6.5h1.43v1.1h-1.43zM325.08 6.5h1.43v1.22h-1.43zM326.63 6.5h1.43v0.54h-1.43zM328.17 6.5h1.43v1.26h-1.43zM329.71 6.5h1.43v1.22h-1.43zM331.25 6.5h1.43v0.88h-1.43zM332.79 6.5h1.43v0.69h-1.43zM334.34 6.5h1.43v1.25h-1.43zM335.88 6.5h1.43v0.87h-1.43zM337.42 6.5h1.43v1.15h-1.43zM338.96 6.5h1.43v0.59h-1.43zM340.51 6.5h1.43v0.86h-1.43zM342.05 6.5h1.43v0.54h-1.43zM343.59 6.5h1.43v0.6h-1.43zM345.13 6.5h1.43v1.03h-1.43zM346.67 6.5h1.43v0.71h-1.43zM348.22 6.5h1.43v0.84h-1.43zM349.76 6.5h1.43v0.92h-1.43zM351.3 6.5h1.4v0.9h-1.4zM352.81 6.5h1.4v0.86h-1.4zM354.33 6.5h1.4v0.69h-1.4zM355.84 6.5h1.4v0.29h-1.4zM357.35 6.5h1.4v0.19h-1.4zM358.87 6.5h1.4v0.81h-1.4zM360.38 6.5h1.4v0.73h-1.4zM361.89 6.5h1.4v0.6h-1.4zM363.4 6.5h1.4v0.39h-1.4zM364.92 6.5h1.4v0.32h-1.4zM366.43 6.5h1.4v0.65h-1.4zM367.94 6.5h1.4v0.55h-1.4zM369.46 6.5h1.4v0.57h-1.4zM370.97 6.5h1.4v0.61h-1.4zM372.48 6.5h1.4v0.7h-1.4zM374 6.5h1.4v0.25h-1.4zM375.51 6.5h1.4v0.3h-1.4zM377.02 6.5h1.4v0.88h-1.4zM378.53 6.5h1.4v0.83h-1.4zM381.56 6.5h1.4v0.13h-1.4zM384.59 6.5h1.4v0.32h-1.4zM394.8 6.5h1.44v0.84h-1.44zM396.35 6.5h1.44v1.65h-1.44zM397.91 6.5h1.44v1.37h-1.44zM399.46 6.5h1.44v1.87h-1.44zM401.02 6.5h1.44v1.57h-1.44zM402.57 6.5h1.44v1.06h-1.44zM404.12 6.5h1.44v2.08h-1.44zM405.68 6.5h1.44v1.99h-1.44zM407.23 6.5h1.44v1.93h-1.44zM408.78 6.5h1.44v1.38h-1.44zM410.34 6.5h1.44v0.81h-1.44zM411.89 6.5h1.44v1.13h-1.44zM413.45 6.5h1.44v0.9h-1.44zM415 6.5h1.29v1.2h-1.29zM420 6.5h1.34v1.2h-1.34zM421.45 6.5h1.34v1.2h-1.34z"/><path fill="#ACD1E5" d="M28.5 7.94h1.38v0.51h-1.38zM29.99 8.23h1.38v0.79h-1.38zM31.49 8.56h1.38v0.69h-1.38zM32.98 8.28h1.38v0.62h-1.38zM34.48 7.21h1.38v0.19h-1.38zM35.97 7.89h1.38v0.84h-1.38zM37.47 8.29h1.38v0.46h-1.38zM38.96 8.61h1.38v0.71h-1.38zM40.46 7.23h1.38v0.77h-1.38zM41.95 8.82h1.38v0.85h-1.38zM43.44 7.95h1.38v0.98h-1.38zM44.94 8.5h1.38v0.27h-1.38zM46.43 8.46h1.38v0.12h-1.38zM47.93 8.53h1.38v0.18h-1.38zM49.42 8.42h1.38v0.13h-1.38zM50.92 7.48h1.38v0.27h-1.38zM52.41 8.69h1.38v0.21h-1.38zM53.91 7.28h1.38v0.99h-1.38zM55.4 7.69h1.38v0.3h-1.38zM56.89 7.54h1.38v0.6h-1.38zM58.39 7.97h1.38v0.57h-1.38zM59.88 8.74h1.38v0.82h-1.38zM61.38 8.79h1.38v0.2h-1.38zM62.87 7.86h1.38v0.1h-1.38zM64.37 8.37h1.38v0.26h-1.38zM65.86 7.42h1.38v0.72h-1.38zM67.36 8.63h1.38v0.61h-1.38zM68.85 7.13h1.38v0.27h-1.38zM70.34 7.76h1.38v0.57h-1.38zM71.84 8.86h1.38v0.66h-1.38zM74.83 7.14h1.38v0.64h-1.38zM76.32 8.9h1.38v0.08h-1.38zM77.82 8.43h1.38v0.7h-1.38zM79.31 8.33h1.38v0.9h-1.38zM80.81 8.65h1.38v0.57h-1.38zM82.3 6.5h1.69v1h-1.69zM87.7 6.5h1.41v0.87h-1.41zM89.23 6.5h1.41v1.03h-1.41zM90.75 6.5h1.41v0.85h-1.41zM92.28 6.5h1.41v0.95h-1.41zM93.8 6.5h1.41v0.64h-1.41zM95.33 6.5h1.41v1.05h-1.41zM96.85 6.5h1.41v0.91h-1.41zM98.38 6.5h1.41v0.9h-1.41zM99.9 6.5h1.41v0.9h-1.41zM101.42 6.5h1.41v1.05h-1.41zM102.95 6.5h1.41v0.69h-1.41zM104.47 6.5h1.41v1.01h-1.41zM106 6.5h1.39v0.7h-1.39zM107.5 6.5h1.39v0.85h-1.39zM109 6.5h1.39v1.1h-1.39zM110.5 6.5h1.39v0.62h-1.39zM112 6.5h1.39v0.94h-1.39zM113.5 6.5h1.39v0.68h-1.39zM115 6.5h1.39v0.74h-1.39zM116.5 6.5h1.39v0.87h-1.39zM118 6.5h1.39v1.18h-1.39zM119.5 6.5h1.39v0.71h-1.39zM121 6.5h1.39v0.71h-1.39zM122.5 6.5h1.39v0.91h-1.39zM124 6.5h1.39v1.08h-1.39zM125.5 6.5h1.39v1.03h-1.39zM127 6.5h1.39v1.15h-1.39zM128.5 6.5h1.39v1.08h-1.39zM130 6.5h1.39v0.72h-1.39zM131.5 6.5h1.39v1.03h-1.39zM133 6.5h1.39v1.19h-1.39zM134.5 6.5h1.39v1.15h-1.39zM136 6.5h1.39v0.86h-1.39zM137.5 6.5h1.39v0.62h-1.39zM139 6.5h1.39v0.7h-1.39zM140.5 6.5h1.39v0.69h-1.39zM142 6.5h1.39v1.01h-1.39zM143.5 6.5h1.39v0.65h-1.39zM145 6.5h1.39v1.04h-1.39zM146.5 6.5h1.39v0.94h-1.39zM148 6.5h1.39v1.14h-1.39zM149.5 6.5h1.39v0.91h-1.39zM151 6.5h1.39v0.9h-1.39zM152.5 6.5h1.39v0.91h-1.39zM154 6.5h1.39v0.89h-1.39zM155.5 6.5h1.39v0.85h-1.39zM157 6.5h1.39v0.88h-1.39zM158.5 6.5h1.59v0.9h-1.59zM160.2 6.5h1.59v0.9h-1.59zM161.9 6.5h1.59v0.9h-1.59zM163.6 6.5h1.35v3.76h-1.35zM165.06 6.5h1.35v3.17h-1.35zM166.51 6.5h1.35v2.94h-1.35zM167.97 6.5h1.35v2.77h-1.35zM169.43 6.5h1.35v3.37h-1.35zM170.89 6.5h1.35v3.8h-1.35zM172.34 6.5h1.35v2.68h-1.35zM173.8 6.5h1.35v3.59h-1.35zM175.26 6.5h1.35v2.53h-1.35zM176.71 6.5h1.35v2.77h-1.35zM178.17 6.5h1.35v2.82h-1.35zM179.63 6.5h1.35v3.46h-1.35zM181.09 6.5h1.35v2.95h-1.35zM182.54 6.5h1.35v3h-1.35zM184 6.5h1.41v46h-1.41zM185.52 6.5h1.41v46h-1.41zM187.04 6.5h1.41v46h-1.41zM188.56 6.5h1.41v46h-1.41zM190.08 6.5h1.41v46h-1.41zM191.6 6.5h1.37v5.5h-1.37zM193.08 6.5h1.37v5.5h-1.37zM194.56 6.5h1.37v8.2h-1.37zM196.04 6.5h1.37v1h-1.37zM197.52 6.5h1.37v1h-1.37zM203.9 8.82h1.39v0.8h-1.39zM205.4 8.15h1.39v0.8h-1.39zM206.9 8.41h1.39v0.8h-1.39zM208.4 8.54h1.39v0.8h-1.39zM209.9 8.68h1.39v0.8h-1.39zM211.4 8.99h1.39v0.8h-1.39zM212.9 8.13h1.39v0.8h-1.39zM241.4 9.22h1.42v0.53h-1.42zM242.93 8.22h1.42v0.5h-1.42zM244.47 9.06h1.42v0.53h-1.42zM246 7.83h1.42v0.6h-1.42zM247.53 9.35h1.42v0.52h-1.42zM249.07 8.6h1.42v1.09h-1.42zM250.6 7.97h1.42v0.44h-1.42zM252.13 8.71h1.42v0.55h-1.42zM253.67 9.14h1.42v1.39h-1.42zM255.2 7.9h1.42v1.35h-1.42zM256.73 8.32h1.42v0.87h-1.42zM258.27 8.76h1.42v0.41h-1.42zM259.8 8.09h1.42v0.85h-1.42zM261.33 8.11h1.42v0.57h-1.42zM262.87 9.23h1.42v1.2h-1.42zM264.4 8.81h1.42v0.8h-1.42zM265.93 9.37h1.42v1.2h-1.42zM267.47 8.99h1.42v1.18h-1.42zM269 9.23h1.42v1.28h-1.42zM270.53 9.02h1.42v0.81h-1.42zM272.07 8.35h1.42v0.87h-1.42zM273.6 8.82h1.42v1.02h-1.42zM275.13 8.87h1.42v0.74h-1.42zM276.67 8.65h1.42v0.79h-1.42zM394.8 7.34h1.44v0.63h-1.44zM396.35 8.15h1.44v0.64h-1.44zM397.91 7.87h1.44v0.37h-1.44zM399.46 8.37h1.44v0.26h-1.44zM401.02 8.07h1.44v0.82h-1.44zM402.57 7.56h1.44v0.85h-1.44zM404.12 8.58h1.44v0.46h-1.44zM405.68 8.49h1.44v0.54h-1.44zM407.23 8.43h1.44v0.26h-1.44zM408.78 7.88h1.44v0.75h-1.44zM410.34 7.31h1.44v0.37h-1.44zM411.89 7.63h1.44v0.78h-1.44zM413.45 7.4h1.44v0.49h-1.44z"/><path fill="#B7E192" d="M28.5 8.45h1.38v39.75h-1.38zM29.99 9.03h1.38v39.98h-1.38zM31.49 9.25h1.38v40.52h-1.38zM32.98 8.89h1.38v38.03h-1.38zM34.48 7.4h1.38v41.29h-1.38zM35.97 8.74h1.38v40.84h-1.38zM37.47 8.75h1.38v38.69h-1.38zM38.96 9.32h1.38v35.81h-1.38zM40.46 7.99h1.38v41.36h-1.38zM41.95 9.67h1.38v39.04h-1.38zM43.44 8.93h1.38v39.89h-1.38zM44.94 8.77h1.38v39.48h-1.38zM46.43 8.58h1.38v39.65h-1.38zM47.93 8.71h1.38v38.66h-1.38zM49.42 8.55h1.38v35.48h-1.38zM50.92 7.75h1.38v38.7h-1.38zM52.41 8.9h1.38v39.2h-1.38zM53.91 8.27h1.38v38.88h-1.38zM55.4 7.99h1.38v40.26h-1.38zM56.89 8.14h1.38v35.18h-1.38zM58.39 8.55h1.38v37.09h-1.38zM59.88 9.55h1.38v38.98h-1.38zM61.38 8.99h1.38v35.84h-1.38zM62.87 7.96h1.38v34.66h-1.38zM64.37 8.63h1.38v35.84h-1.38zM65.86 8.14h1.38v38.83h-1.38zM67.36 9.25h1.38v35.47h-1.38zM68.85 7.4h1.38v39.92h-1.38zM70.34 8.34h1.38v36.21h-1.38zM71.84 9.52h1.38v36.54h-1.38zM73.33 7.16h1.38v37.16h-1.38zM74.83 7.77h1.38v31.07h-1.38zM76.32 8.97h1.38v35.67h-1.38zM77.82 9.13h1.38v38.63h-1.38zM79.31 9.23h1.38v38.87h-1.38zM80.81 9.23h1.38v38.68h-1.38zM82.3 7.5h1.69v30.5h-1.69zM87.7 9.37h1.41v28.13h-1.41zM89.23 9.13h1.41v27.42h-1.41zM90.75 9.55h1.41v28.55h-1.41zM92.28 8.95h1.41v26.75h-1.41zM93.8 9.14h1.41v28.18h-1.41zM95.33 9.35h1.41v28.75h-1.41zM96.85 9.61h1.41v26.89h-1.41zM98.38 9h1.41v28.3h-1.41zM99.9 9.2h1.41v28.9h-1.41zM101.42 9.55h1.41v27.75h-1.41zM102.95 8.69h1.41v29.41h-1.41zM104.47 8.71h1.41v28.29h-1.41zM106 8.7h1.39v28.8h-1.39zM107.5 8.55h1.39v29.65h-1.39zM109 8.6h1.39v28.2h-1.39zM110.5 7.92h1.39v30.28h-1.39zM112 7.94h1.39v29.56h-1.39zM113.5 7.48h1.39v32.82h-1.39zM115 7.54h1.39v29.96h-1.39zM116.5 7.67h1.39v28.43h-1.39zM118 7.98h1.39v28.82h-1.39zM119.5 7.51h1.39v29.29h-1.39zM121 7.51h1.39v28.6h-1.39zM122.5 7.71h1.39v25.59h-1.39zM124 7.88h1.39v38.72h-1.39zM125.5 7.83h1.39v34.67h-1.39zM127 7.95h1.39v30.25h-1.39zM128.5 7.88h1.39v28.92h-1.39zM130 7.52h1.39v31.38h-1.39zM131.5 7.83h1.39v29.67h-1.39zM133 7.99h1.39v28.11h-1.39zM134.5 7.95h1.39v26.05h-1.39zM136 7.66h1.39v27.04h-1.39zM137.5 7.42h1.39v28.08h-1.39zM139 7.5h1.39v30h-1.39zM140.5 7.49h1.39v29.31h-1.39zM142 7.81h1.39v27.69h-1.39zM143.5 7.45h1.39v29.35h-1.39zM145 7.84h1.39v28.96h-1.39zM146.5 7.74h1.39v39.56h-1.39zM148 7.94h1.39v33.76h-1.39zM149.5 7.71h1.39v30.49h-1.39zM151 7.7h1.39v29.1h-1.39zM152.5 7.71h1.39v30.49h-1.39zM154 7.69h1.39v29.81h-1.39zM155.5 7.65h1.39v31.25h-1.39zM157 7.68h1.39v36.12h-1.39zM158.5 7.4h1.59v37.8h-1.59zM160.2 7.4h1.59v37.1h-1.59zM161.9 7.4h1.59v37.1h-1.59zM163.6 10.26h1.35v21.84h-1.35zM165.06 9.67h1.35v21.23h-1.35zM166.51 9.44h1.35v15.66h-1.35zM167.97 9.27h1.35v16.43h-1.35zM169.43 9.87h1.35v15.83h-1.35zM170.89 11.3h1.35v19.6h-1.35zM172.34 9.98h1.35v15.72h-1.35zM173.8 10.09h1.35v11.51h-1.35zM175.26 9.03h1.35v13.17h-1.35zM176.71 10.77h1.35v18.43h-1.35zM178.17 10.52h1.35v20.38h-1.35zM179.63 11.16h1.35v19.74h-1.35zM181.09 9.45h1.35v16.85h-1.35zM182.54 9.5h1.35v16.8h-1.35zM191.6 12.8h1.37v16.4h-1.37zM193.08 12h1.37v17.2h-1.37zM194.56 15.9h1.37v15.1h-1.37zM196.04 7.5h1.37v17.6h-1.37zM197.52 7.5h1.37v15h-1.37zM203.9 9.62h1.39v10.88h-1.39zM205.4 8.95h1.39v12.55h-1.39zM206.9 9.21h1.39v10.29h-1.39zM208.4 9.34h1.39v11.16h-1.39zM209.9 9.48h1.39v11.52h-1.39zM211.4 9.79h1.39v9.71h-1.39zM212.9 8.93h1.39v11.57h-1.39zM228.35 8h1.34v12.8h-1.34zM229.8 8h1.34v7.9h-1.34zM232.7 7.7h1.34v3.3h-1.34zM234.15 7.5h1.34v4.5h-1.34zM241.4 9.75h1.42v8.75h-1.42zM242.93 8.71h1.42v16.79h-1.42zM244.47 9.59h1.42v4.91h-1.42zM246 8.43h1.42v21.07h-1.42zM247.53 9.86h1.42v19.64h-1.42zM249.07 9.69h1.42v12.81h-1.42zM250.6 8.41h1.42v18.09h-1.42zM252.13 9.26h1.42v10.24h-1.42zM253.67 10.53h1.42v10.97h-1.42zM255.2 9.25h1.42v8.25h-1.42zM256.73 9.19h1.42v12.31h-1.42zM258.27 9.17h1.42v10.33h-1.42zM259.8 8.94h1.42v10.56h-1.42zM261.33 8.68h1.42v7.82h-1.42zM262.87 10.43h1.42v12.07h-1.42zM264.4 9.61h1.42v13.89h-1.42zM265.93 10.58h1.42v17.92h-1.42zM267.47 10.17h1.42v6.33h-1.42zM269 10.51h1.42v5.99h-1.42zM270.53 9.83h1.42v18.67h-1.42zM272.07 9.22h1.42v19.28h-1.42zM273.6 9.85h1.42v1.65h-1.42zM275.13 9.6h1.42v4.9h-1.42zM276.67 9.44h1.42v0.06h-1.42zM286.6 6.5h1.49v4.7h-1.49zM294.76 7.71h1.45v6.79h-1.45zM296.31 7.12h1.45v11.38h-1.45zM297.87 7.69h1.45v2.81h-1.45zM299.42 7.42h1.45v9.58h-1.45zM300.98 7.26h1.45v3.24h-1.45zM302.53 7.18h1.45v3.32h-1.45zM304.09 7.82h1.45v1.68h-1.45zM305.64 7.51h1.45v3.99h-1.45zM307.2 7.61h1.3v1.89h-1.3zM308.61 7.71h1.3v3.79h-1.3zM310.03 7.48h1.3v1.02h-1.3zM311.44 7.15h1.3v3.35h-1.3zM312.86 7.58h1.3v0.92h-1.3zM314.27 7.55h1.3v0.95h-1.3zM315.69 7.11h1.3v5.39h-1.3zM325.08 7.72h1.43v4h-1.43zM326.63 7.04h1.43v5h-1.43zM328.17 7.76h1.43v5h-1.43zM340.51 7.36h1.43v5h-1.43zM342.05 7.04h1.43v5h-1.43zM343.59 7.1h1.43v6h-1.43zM345.13 7.53h1.43v5h-1.43zM346.67 7.21h1.43v7h-1.43zM375.51 6.8h1.4v6h-1.4zM377.02 7.38h1.4v6h-1.4zM394.8 7.98h1.44v15.52h-1.44zM396.35 8.79h1.44v8.31h-1.44zM397.91 8.24h1.44v9.86h-1.44zM399.46 8.63h1.44v17.17h-1.44zM401.02 8.89h1.44v7.61h-1.44zM402.57 8.41h1.44v11.39h-1.44zM404.12 9.05h1.44v11.85h-1.44zM405.68 9.03h1.44v11.87h-1.44zM407.23 8.69h1.44v10.51h-1.44zM408.78 8.63h1.44v8.97h-1.44zM410.34 7.68h1.44v12.62h-1.44zM411.89 8.41h1.44v9.69h-1.44zM413.45 7.89h1.44v8.61h-1.44zM415 7.7h1.29v3.8h-1.29zM420 7.7h1.34v6.8h-1.34zM421.45 7.7h1.34v9.8h-1.34z"/><path fill="#FBA1A0" d="M158.5 51.37h1.59v1.13h-1.59zM160.2 51.07h1.59v1.43h-1.59zM161.9 50.68h1.59v1.82h-1.59zM163.6 50.8h1.35v1.7h-1.35zM165.06 48.5h1.35v4h-1.35zM166.51 46.1h1.35v6.4h-1.35zM167.97 46.1h1.35v6.4h-1.35zM169.43 46.1h1.35v6.4h-1.35zM170.89 46.7h1.35v5.8h-1.35zM172.34 49h1.35v3.5h-1.35zM173.8 49.5h1.35v3h-1.35zM175.26 49.5h1.35v3h-1.35zM176.71 48.5h1.35v4h-1.35zM178.17 47.8h1.35v4.7h-1.35zM179.63 47.8h1.35v4.7h-1.35zM181.09 49.5h1.35v3h-1.35zM182.54 49.5h1.35v3h-1.35zM191.6 46.5h1.37v6h-1.37zM193.08 46.5h1.37v6h-1.37zM194.56 48h1.37v4.5h-1.37zM196.04 43.8h1.37v8.7h-1.37zM197.52 33.5h1.37v19h-1.37zM199 6.5h1.52v46h-1.52zM200.63 6.5h1.52v46h-1.52zM202.27 6.5h1.52v46h-1.52z"/></g>
<path d="M28.5 52.5v9.5M65.4 52.5v9.5M90 52.5v9.5M117.4 52.5v9.5M163.6 52.5v9.5M204.1 52.5v9.5M244.4 52.5v9.5M274.6 52.5v9.5M316.9 52.5v9.5M360.3 52.5v9.5M422.8 52.5v9.5" stroke="#bdbdbd" stroke-width="0.5" fill="none"/>
<text font-size="6.3" stroke="#111" stroke-width="0.15" transform="translate(46.1 57) rotate(90)">Daan</text>
<text font-size="6.3" stroke="#111" stroke-width="0.15" textLength="44.6" lengthAdjust="spacingAndGlyphs" transform="translate(76.9 57) rotate(90)">Inner_Mongolian</text>
<text font-size="6.3" stroke="#111" stroke-width="0.15" transform="translate(103 57) rotate(90)">Kazakh</text>
<text font-size="6.3" stroke="#111" stroke-width="0.15" transform="translate(136.9 57) rotate(90)">Chakouyi</text>
<text font-size="6.3" stroke="#111" stroke-width="0.15" transform="translate(180.7 57) rotate(90)">Napu</text>
<text font-size="6.3" stroke="#111" stroke-width="0.15" transform="translate(222.6 57) rotate(90)">Jinjiang</text>
<text font-size="6.3" stroke="#111" stroke-width="0.15" transform="translate(256.9 57) rotate(90)">Lijiang</text>
<text font-size="6.3" stroke="#111" stroke-width="0.15" transform="translate(292.8 57) rotate(90)">Baise</text>
<text font-size="6.3" stroke="#111" stroke-width="0.15" transform="translate(335.9 57) rotate(90)">Zhaotong</text>
<text font-size="6.3" stroke="#111" stroke-width="0.15" transform="translate(386.6 57) rotate(90)">Tengchong</text>
<text font-size="10.5" x="5.9" y="33.8" textLength="17.3" lengthAdjust="spacingAndGlyphs">K=8</text>
<g filter="url(#soft)"><path fill="#CDB7D9" d="M28.5 162.73h1.4v0.57h-1.4zM31.52 163.19h1.4v0.11h-1.4zM33.02 162.91h1.4v0.39h-1.4zM34.53 162.77h1.4v0.53h-1.4zM36.04 162.72h1.4v0.58h-1.4zM37.55 162.94h1.4v0.36h-1.4zM39.06 162.89h1.4v0.41h-1.4zM40.56 162.88h1.4v0.42h-1.4zM42.07 162.77h1.4v0.53h-1.4zM43.58 163.11h1.4v0.19h-1.4zM45.09 162.79h1.4v0.51h-1.4zM46.6 162.74h1.4v0.56h-1.4zM48.11 162.72h1.4v0.58h-1.4zM49.61 162.88h1.4v0.42h-1.4zM51.12 163.14h1.4v0.16h-1.4zM52.63 163.11h1.4v0.19h-1.4zM54.14 162.73h1.4v0.57h-1.4zM55.65 163.21h1.4v0.09h-1.4zM57.15 162.9h1.4v0.4h-1.4zM61.68 163h1.4v0.3h-1.4zM63.19 163.05h1.4v0.25h-1.4zM64.69 162.75h1.4v0.55h-1.4zM66.2 163.08h1.4v0.22h-1.4zM67.71 163.12h1.4v0.18h-1.4zM69.22 162.97h1.4v0.33h-1.4zM70.73 162.9h1.4v0.4h-1.4zM72.24 163.25h1.4v0.05h-1.4zM73.74 163.09h1.4v0.21h-1.4zM75.25 163.06h1.4v0.24h-1.4zM76.76 162.73h1.4v0.57h-1.4zM78.27 163.06h1.4v0.24h-1.4zM79.78 162.76h1.4v0.54h-1.4zM81.28 162.97h1.4v0.33h-1.4zM82.79 163.1h1.4v0.2h-1.4zM87.2 163.15h1.39v0.15h-1.39zM88.7 162.78h1.39v0.52h-1.39zM90.2 162.97h1.39v0.33h-1.39zM91.7 162.62h1.39v0.68h-1.39zM93.2 162.51h1.39v0.79h-1.39zM94.7 162.79h1.39v0.51h-1.39zM96.2 162.81h1.39v0.49h-1.39zM97.7 162.79h1.39v0.51h-1.39zM99.2 162.95h1.39v0.35h-1.39zM100.7 163.02h1.39v0.28h-1.39zM102.2 162.61h1.39v0.69h-1.39zM103.7 162.92h1.39v0.38h-1.39zM105.2 162.56h1.39v0.74h-1.39zM106.7 162.62h1.39v0.68h-1.39zM108.2 162.99h1.39v0.31h-1.39zM109.7 163.1h1.39v0.2h-1.39zM111.2 162.77h1.39v0.53h-1.39zM114.2 162.91h1.39v0.39h-1.39zM115.7 162.79h1.39v0.51h-1.39zM117.2 162.87h1.39v0.43h-1.39zM118.7 162.65h1.39v0.65h-1.39zM120.2 163.16h1.39v0.14h-1.39zM121.7 163.01h1.39v0.29h-1.39zM133 162.74h1.42v0.56h-1.42zM134.53 162.98h1.42v0.32h-1.42zM136.07 162.78h1.42v0.52h-1.42zM137.6 163h1.42v0.3h-1.42zM139.13 163.18h1.42v0.12h-1.42zM140.67 162.88h1.42v0.42h-1.42zM142.2 162.75h1.42v0.55h-1.42zM143.73 163.25h1.42v0.05h-1.42zM145.27 162.57h1.42v0.73h-1.42zM148.4 163.03h1.36v0.27h-1.36zM149.87 162.58h1.36v0.72h-1.36zM151.34 163.07h1.36v0.23h-1.36zM152.81 163.06h1.36v0.24h-1.36zM154.29 162.94h1.36v0.36h-1.36zM155.76 162.97h1.36v0.33h-1.36zM157.23 162.87h1.36v0.43h-1.36zM158.7 162.8h1.39v0.5h-1.39zM160.2 162.8h1.39v0.5h-1.39zM161.7 162.8h1.39v0.5h-1.39zM163.2 159.5h1.64v3.8h-1.64zM164.95 159.5h1.64v3.8h-1.64zM166.7 160.6h1.39v2.7h-1.39zM168.2 160.6h1.39v2.7h-1.39zM169.7 160h1.22v3.3h-1.22zM171.03 160h1.22v3.3h-1.22zM172.37 160h1.22v3.3h-1.22zM176.6 160h1.64v3.3h-1.64zM178.35 160h1.64v3.3h-1.64zM183.9 117.3h1.47v46h-1.47zM185.48 117.3h1.47v46h-1.47zM187.06 117.3h1.47v46h-1.47zM188.64 117.3h1.47v46h-1.47zM190.22 117.3h1.47v46h-1.47zM191.8 158.3h1.29v5h-1.29zM193.2 154.8h1.29v8.5h-1.29zM194.6 154.8h1.29v8.5h-1.29zM196 158.8h1.29v4.5h-1.29zM197.4 158.8h1.29v4.5h-1.29z"/><path fill="#FDC378" d="M28.5 162.41h1.4v0.31h-1.4zM30.01 162.3h1.4v1h-1.4zM31.52 162.89h1.4v0.3h-1.4zM33.02 162.43h1.4v0.48h-1.4zM34.53 162.38h1.4v0.39h-1.4zM36.04 162.27h1.4v0.46h-1.4zM37.55 161.99h1.4v0.95h-1.4zM39.06 161.95h1.4v0.94h-1.4zM40.56 162.64h1.4v0.24h-1.4zM42.07 162.1h1.4v0.67h-1.4zM43.58 162.76h1.4v0.35h-1.4zM45.09 162.12h1.4v0.67h-1.4zM46.6 161.92h1.4v0.82h-1.4zM48.11 162.07h1.4v0.65h-1.4zM49.61 162.19h1.4v0.69h-1.4zM51.12 162.18h1.4v0.97h-1.4zM52.63 162.29h1.4v0.82h-1.4zM54.14 162.01h1.4v0.72h-1.4zM55.65 162.35h1.4v0.86h-1.4zM57.15 162.55h1.4v0.35h-1.4zM58.66 162.67h1.4v0.63h-1.4zM60.17 162.36h1.4v0.94h-1.4zM61.68 162.38h1.4v0.61h-1.4zM63.19 162.33h1.4v0.73h-1.4zM64.69 162.3h1.4v0.45h-1.4zM66.2 162.41h1.4v0.67h-1.4zM67.71 162.45h1.4v0.68h-1.4zM69.22 162.43h1.4v0.55h-1.4zM70.73 162.27h1.4v0.62h-1.4zM72.24 162.25h1.4v1h-1.4zM73.74 162.54h1.4v0.55h-1.4zM75.25 162.11h1.4v0.94h-1.4zM76.76 162.12h1.4v0.61h-1.4zM78.27 162.78h1.4v0.28h-1.4zM79.78 162.43h1.4v0.34h-1.4zM81.28 162.49h1.4v0.48h-1.4zM82.79 162.62h1.4v0.49h-1.4zM84.3 161.3h1.34v0.8h-1.34zM85.75 161.3h1.34v0.8h-1.34zM87.2 162.92h1.39v0.23h-1.39zM88.7 162.42h1.39v0.36h-1.39zM90.2 162.11h1.39v0.86h-1.39zM91.7 162.02h1.39v0.6h-1.39zM93.2 161.71h1.39v0.79h-1.39zM94.7 162.3h1.39v0.48h-1.39zM96.2 161.86h1.39v0.95h-1.39zM97.7 162.32h1.39v0.47h-1.39zM99.2 162.54h1.39v0.42h-1.39zM100.7 162.72h1.39v0.29h-1.39zM102.2 162.26h1.39v0.34h-1.39zM103.7 162.56h1.39v0.37h-1.39zM105.2 161.69h1.39v0.87h-1.39zM106.7 162.39h1.39v0.23h-1.39zM108.2 162.19h1.39v0.8h-1.39zM109.7 162.72h1.39v0.38h-1.39zM111.2 162.44h1.39v0.33h-1.39zM112.7 162.7h1.39v0.6h-1.39zM114.2 162.69h1.39v0.22h-1.39zM115.7 161.81h1.39v0.99h-1.39zM117.2 162.56h1.39v0.31h-1.39zM118.7 162.44h1.39v0.21h-1.39zM120.2 162.32h1.39v0.84h-1.39zM121.7 162.13h1.39v0.88h-1.39zM123.2 162.5h1.49v0.8h-1.49zM124.8 162.5h1.49v0.8h-1.49zM126.4 161.78h1.54v0.5h-1.54zM128.05 161.87h1.54v0.5h-1.54zM129.7 161.33h1.54v0.5h-1.54zM131.35 161.59h1.54v0.5h-1.54zM133 161.79h1.42v0.95h-1.42zM134.53 161.98h1.42v1h-1.42zM136.07 162.32h1.42v0.46h-1.42zM137.6 162.51h1.42v0.49h-1.42zM139.13 162.43h1.42v0.75h-1.42zM140.67 161.96h1.42v0.91h-1.42zM142.2 161.81h1.42v0.95h-1.42zM143.73 162.8h1.42v0.44h-1.42zM145.27 161.94h1.42v0.63h-1.42zM146.8 162.7h1.49v0.6h-1.49zM148.4 161.96h1.36v1.08h-1.36zM149.87 161.64h1.36v0.94h-1.36zM151.34 162.58h1.36v0.49h-1.36zM152.81 162.74h1.36v0.32h-1.36zM154.29 162.38h1.36v0.57h-1.36zM155.76 162.38h1.36v0.58h-1.36zM157.23 161.86h1.36v1h-1.36zM158.7 162.2h1.39v0.6h-1.39zM160.2 162.2h1.39v0.6h-1.39zM161.7 162.2h1.39v0.6h-1.39zM166.7 117.3h1.39v41.8h-1.39zM168.2 117.3h1.39v41.8h-1.39zM169.7 158.8h1.22v1.2h-1.22zM171.03 158.8h1.22v1.2h-1.22zM172.37 158.4h1.22v1.6h-1.22zM176.6 158.3h1.64v1.7h-1.64zM178.35 158.3h1.64v1.7h-1.64zM193.2 153.6h1.29v1.2h-1.29zM194.6 153.6h1.29v1.2h-1.29zM203.9 159.93h1.38v2.74h-1.38zM205.39 160.43h1.38v1.86h-1.38zM206.87 160.71h1.38v1.89h-1.38zM208.36 160.69h1.38v1.77h-1.38zM209.84 159.87h1.38v2.79h-1.38zM211.33 160.31h1.38v1.74h-1.38zM212.81 159.75h1.38v2.56h-1.38zM214.3 162.74h1.3v0.16h-1.3zM215.71 162.62h1.3v0.4h-1.3zM217.13 162h1.3v0.57h-1.3zM218.54 162.33h1.3v0.6h-1.3zM219.96 162.65h1.3v0.65h-1.3zM221.37 162.02h1.3v0.64h-1.3zM222.79 162.68h1.3v0.33h-1.3zM224.2 162.1h1.4v1.2h-1.4zM233.27 161h1.4v0.3h-1.4zM241.1 161.21h1.42v0.98h-1.42zM242.63 160.69h1.42v1.35h-1.42zM244.17 160.3h1.42v1.12h-1.42zM245.7 160.19h1.42v1.54h-1.42zM247.23 160.65h1.42v0.92h-1.42zM248.77 159.79h1.42v1.49h-1.42zM250.3 160.76h1.42v1.14h-1.42zM251.83 159.68h1.42v1.83h-1.42zM253.37 160.56h1.42v1.3h-1.42zM254.9 160.57h1.42v1.07h-1.42zM256.43 159.98h1.42v1.82h-1.42zM257.97 159.92h1.42v1.72h-1.42zM259.5 160.17h1.42v1.77h-1.42zM261.03 160.29h1.42v1.13h-1.42zM262.57 160.09h1.42v1.58h-1.42zM264.1 160.13h1.42v1.5h-1.42zM265.63 160.51h1.42v1.45h-1.42zM267.17 160.15h1.42v1.7h-1.42zM268.7 159.95h1.42v1.88h-1.42zM270.23 160.49h1.42v1.13h-1.42zM271.77 160.76h1.42v1.03h-1.42zM273.3 160.52h1.42v0.95h-1.42zM274.83 160.39h1.42v1.21h-1.42zM276.37 160.4h1.42v1.03h-1.42zM283.77 158.9h1.36v4.4h-1.36zM288.5 161.8h1.39v1.5h-1.39zM293.2 160.31h1.37v1.41h-1.37zM294.68 161.34h1.37v0.83h-1.37zM296.16 160.68h1.37v1.35h-1.37zM297.64 161.43h1.37v0.71h-1.37zM299.12 160.45h1.37v1.51h-1.37zM300.61 160.6h1.37v1.64h-1.37zM302.09 161.03h1.37v0.86h-1.37zM303.57 161.23h1.37v1.07h-1.37zM305.05 161.05h1.37v0.88h-1.37zM306.53 161.11h1.37v1.2h-1.37zM308.01 161h1.37v1.14h-1.37zM309.49 160.55h1.37v1.4h-1.37zM310.97 160.89h1.37v0.93h-1.37zM312.46 160.66h1.37v1.56h-1.37zM313.94 161.53h1.37v0.82h-1.37zM315.42 160.8h1.37v1.53h-1.37zM316.9 117.3h1.56v46h-1.56zM318.57 117.3h1.56v46h-1.56zM320.23 117.3h1.56v46h-1.56zM321.9 161.8h1.44v1.5h-1.44zM323.45 161.8h1.44v1.5h-1.44zM325 160.7h1.39v2.6h-1.39zM326.5 160.7h1.39v2.6h-1.39zM328 160.1h1.39v3.2h-1.39zM329.5 160.5h1.39v2.8h-1.39zM331 161.77h1.49v1.53h-1.49zM332.6 161.46h1.49v1.84h-1.49zM334.2 161.7h1.49v1.6h-1.49zM335.8 161.93h1.49v1.37h-1.49zM337.4 161.86h1.49v1.44h-1.49zM339 160.27h1.32v3.03h-1.32zM340.43 160.77h1.32v2.53h-1.32zM341.87 160.2h1.32v3.1h-1.32zM343.3 160.59h1.32v2.71h-1.32zM344.73 160.96h1.32v2.34h-1.32zM346.17 160.66h1.32v2.64h-1.32zM347.6 160.44h1.32v2.86h-1.32zM349.03 160.85h1.32v2.45h-1.32zM350.47 160.09h1.32v3.21h-1.32zM351.9 148.8h1.29v2.5h-1.29zM360.75 152.1h1.38v1.2h-1.38zM377.15 144.3h1.38v1.5h-1.38zM381.63 138.3h1.38v3h-1.38zM394.7 162.24h1.42v1.06h-1.42zM396.23 162.26h1.42v1.04h-1.42zM397.76 162.48h1.42v0.82h-1.42zM399.29 162.23h1.42v1.07h-1.42zM400.82 162.53h1.42v0.77h-1.42zM402.35 162.76h1.42v0.54h-1.42zM403.88 162.29h1.42v1.01h-1.42zM405.42 162.63h1.42v0.67h-1.42zM406.95 162.32h1.42v0.98h-1.42zM408.48 162.63h1.42v0.67h-1.42zM410.01 162.78h1.42v0.52h-1.42zM411.54 162.61h1.42v0.69h-1.42zM413.07 162.53h1.42v0.77h-1.42zM414.6 162.5h1.79v0.8h-1.79zM420 160.9h1.54v1.2h-1.54zM421.65 160.9h1.54v1.2h-1.54z"/><path fill="#ACD1E5" d="M28.5 117.3h1.4v0.88h-1.4zM31.52 117.3h1.4v1.81h-1.4zM33.02 117.3h1.4v0.44h-1.4zM34.53 117.3h1.4v0.44h-1.4zM36.04 117.3h1.4v2.2h-1.4zM37.55 117.3h1.4v3.14h-1.4zM39.06 117.3h1.4v1.32h-1.4zM40.56 117.3h1.4v0.88h-1.4zM42.07 117.3h1.4v2.2h-1.4zM43.58 117.3h1.4v0.44h-1.4zM45.09 117.3h1.4v0.44h-1.4zM46.6 117.3h1.4v1.81h-1.4zM48.11 117.3h1.4v3.14h-1.4zM49.61 117.3h1.4v2.2h-1.4zM51.12 117.3h1.4v0.44h-1.4zM52.63 117.3h1.4v1.32h-1.4zM54.14 117.3h1.4v4.51h-1.4zM55.65 117.3h1.4v4.95h-1.4zM57.15 117.3h1.4v4.95h-1.4zM58.66 117.3h1.4v2.2h-1.4zM60.17 117.3h1.4v0.44h-1.4zM61.68 117.3h1.4v3.58h-1.4zM63.19 117.3h1.4v4.51h-1.4zM64.69 117.3h1.4v0.44h-1.4zM66.2 117.3h1.4v4.02h-1.4zM67.71 117.3h1.4v4.02h-1.4zM70.73 117.3h1.4v4.02h-1.4zM72.24 117.3h1.4v4.51h-1.4zM73.74 117.3h1.4v3.58h-1.4zM75.25 117.3h1.4v5.39h-1.4zM76.76 117.3h1.4v3.58h-1.4zM78.27 117.3h1.4v3.58h-1.4zM82.79 117.3h1.4v6.71h-1.4zM84.3 117.3h1.34v0.3h-1.34zM87.2 117.3h1.39v7.34h-1.39zM88.7 117.3h1.39v8.97h-1.39zM90.2 117.3h1.39v8.97h-1.39zM91.7 117.3h1.39v8.97h-1.39zM93.2 117.3h1.39v8.16h-1.39zM94.7 117.3h1.39v8.16h-1.39zM96.2 117.3h1.39v8.16h-1.39zM97.7 117.3h1.39v8.16h-1.39zM99.2 117.3h1.39v8.16h-1.39zM100.7 117.3h1.39v8.97h-1.39zM102.2 117.3h1.39v8.97h-1.39zM103.7 117.3h1.39v8.97h-1.39zM105.2 117.3h1.39v9.79h-1.39zM106.7 117.3h1.39v10.6h-1.39zM108.2 117.3h1.39v10.6h-1.39zM109.7 117.3h1.39v10.6h-1.39zM111.2 117.3h1.39v8.16h-1.39zM112.7 117.3h1.39v8.16h-1.39zM114.2 117.3h1.39v8.97h-1.39zM115.7 117.3h1.39v8.97h-1.39zM117.2 117.3h1.39v8.97h-1.39zM118.7 117.3h1.39v8.16h-1.39zM120.2 117.3h1.39v10.6h-1.39zM121.7 117.3h1.39v10.6h-1.39zM123.2 118.1h1.49v0.5h-1.49zM124.8 118.1h1.49v0.5h-1.49zM126.4 117.3h1.54v6.53h-1.54zM128.05 117.3h1.54v2.45h-1.54zM129.7 117.3h1.54v4.89h-1.54zM131.35 117.3h1.54v4.08h-1.54zM133 117.3h1.42v8.16h-1.42zM134.53 117.3h1.42v10.6h-1.42zM136.07 117.3h1.42v10.6h-1.42zM137.6 117.3h1.42v8.97h-1.42zM139.13 117.3h1.42v9.79h-1.42zM140.67 117.3h1.42v9.79h-1.42zM142.2 117.3h1.42v6.53h-1.42zM143.73 117.3h1.42v6.53h-1.42zM145.27 117.3h1.42v6.53h-1.42zM148.4 117.3h1.36v5.71h-1.36zM149.87 117.3h1.36v6.53h-1.36zM151.34 117.3h1.36v3.26h-1.36zM152.81 117.3h1.36v5.71h-1.36zM154.29 117.3h1.36v6.53h-1.36zM155.76 117.3h1.36v7.34h-1.36zM157.23 117.3h1.36v6.53h-1.36zM158.7 117.3h1.39v1.6h-1.39zM160.2 117.3h1.39v1.6h-1.39zM161.7 117.3h1.39v1.6h-1.39zM163.2 117.3h1.64v11.3h-1.64zM164.95 117.3h1.64v11.3h-1.64zM169.7 117.3h1.22v7.8h-1.22zM171.03 117.3h1.22v7.8h-1.22zM172.37 117.3h1.22v14.2h-1.22zM176.6 117.3h1.64v8.4h-1.64zM178.35 117.3h1.64v8.4h-1.64zM191.8 117.3h1.29v7.2h-1.29zM193.2 117.3h1.29v8.4h-1.29zM194.6 117.3h1.29v8.4h-1.29zM196 117.3h1.29v7.8h-1.29zM197.4 117.3h1.29v7.8h-1.29zM203.9 117.3h1.38v17.13h-1.38zM205.39 117.3h1.38v21.21h-1.38zM206.87 117.3h1.38v22.84h-1.38zM208.36 117.3h1.38v24.47h-1.38zM209.84 117.3h1.38v21.21h-1.38zM211.33 117.3h1.38v19.58h-1.38zM212.81 117.3h1.38v24.47h-1.38zM224.2 117.3h1.4v16.8h-1.4zM225.71 117.3h1.4v11.89h-1.4zM228.73 117.3h1.4v7.47h-1.4zM230.24 117.3h1.4v17.78h-1.4zM231.76 117.3h1.4v10.9h-1.4zM233.27 117.3h1.4v13.85h-1.4zM234.78 117.3h1.4v16.8h-1.4zM236.29 117.3h1.4v11.39h-1.4zM241.1 117.3h1.42v23.54h-1.42zM242.63 117.3h1.42v20.63h-1.42zM244.17 117.3h1.42v25.87h-1.42zM245.7 117.3h1.42v18.3h-1.42zM247.23 117.3h1.42v18.3h-1.42zM248.77 117.3h1.42v21.79h-1.42zM250.3 117.3h1.42v19.46h-1.42zM251.83 117.3h1.42v22.96h-1.42zM253.37 117.3h1.42v24.71h-1.42zM254.9 117.3h1.42v23.54h-1.42zM256.43 117.3h1.42v22.96h-1.42zM257.97 117.3h1.42v24.13h-1.42zM259.5 117.3h1.42v24.13h-1.42zM261.03 117.3h1.42v24.13h-1.42zM262.57 117.3h1.42v22.96h-1.42zM264.1 117.3h1.42v19.46h-1.42zM265.63 117.3h1.42v23.54h-1.42zM267.17 117.3h1.42v25.29h-1.42zM268.7 117.3h1.42v25.87h-1.42zM270.23 117.3h1.42v17.13h-1.42zM271.77 117.3h1.42v17.13h-1.42zM273.3 117.3h1.42v30.54h-1.42zM274.83 117.3h1.42v27.04h-1.42zM276.37 117.3h1.42v24.71h-1.42zM286.7 117.3h1.69v11.5h-1.69zM288.5 117.3h1.39v8.4h-1.39zM293.2 117.3h1.37v23.54h-1.37zM294.68 117.3h1.37v19.46h-1.37zM296.16 117.3h1.37v21.79h-1.37zM297.64 117.3h1.37v21.79h-1.37zM299.12 117.3h1.37v20.05h-1.37zM300.61 117.3h1.37v16.55h-1.37zM302.09 117.3h1.37v21.79h-1.37zM303.57 117.3h1.37v24.13h-1.37zM305.05 117.3h1.37v24.13h-1.37zM306.53 117.3h1.37v26.46h-1.37zM308.01 117.3h1.37v28.21h-1.37zM309.49 117.3h1.37v30.54h-1.37zM310.97 117.3h1.37v36.36h-1.37zM312.46 117.3h1.37v36.36h-1.37zM313.94 117.3h1.37v38.69h-1.37zM315.42 117.3h1.37v32.87h-1.37zM321.9 117.3h1.44v41.5h-1.44zM323.45 117.3h1.44v41.5h-1.44zM325 117.3h1.39v20h-1.39zM325 137.3h1.39v13.8h-1.39zM326.5 117.3h1.39v20h-1.39zM326.5 137.3h1.39v13.3h-1.39zM328 117.3h1.39v20h-1.39zM328 137.3h1.39v14h-1.39zM329.5 117.3h1.39v20h-1.39zM329.5 137.3h1.39v13.3h-1.39zM331 117.3h1.49v41.67h-1.49zM332.6 117.3h1.49v41.16h-1.49zM334.2 117.3h1.49v41.4h-1.49zM335.8 117.3h1.49v41.43h-1.49zM337.4 117.3h1.49v41.56h-1.49zM339 117.3h1.32v31.97h-1.32zM340.43 117.3h1.32v30.17h-1.32zM341.87 117.3h1.32v30.1h-1.32zM343.3 117.3h1.32v33.09h-1.32zM344.73 117.3h1.32v33.86h-1.32zM346.17 117.3h1.32v33.56h-1.32zM347.6 117.3h1.32v30.34h-1.32zM349.03 117.3h1.32v29.75h-1.32zM350.47 117.3h1.32v29.59h-1.32zM351.9 117.3h1.29v20.5h-1.29zM353.3 117.3h1.38v42.7h-1.38zM354.79 117.3h1.38v41.6h-1.38zM356.28 117.3h1.38v39.2h-1.38zM357.77 117.3h1.38v38.6h-1.38zM359.26 117.3h1.38v26h-1.38zM360.75 117.3h1.38v31.8h-1.38zM362.25 117.3h1.38v34h-1.38zM363.74 117.3h1.38v37.5h-1.38zM365.23 117.3h1.38v44.5h-1.38zM366.72 117.3h1.38v31.7h-1.38zM368.21 117.3h1.38v25h-1.38zM369.7 117.3h1.38v25h-1.38zM371.19 117.3h1.38v16h-1.38zM372.68 117.3h1.38v23h-1.38zM374.17 117.3h1.38v15h-1.38zM375.66 117.3h1.38v14.2h-1.38zM377.15 117.3h1.38v18.3h-1.38zM378.65 117.3h1.38v20.8h-1.38zM381.63 117.3h1.38v17h-1.38zM384.61 117.3h1.38v19.5h-1.38zM394.7 117.3h1.42v21.48h-1.42zM396.23 117.3h1.42v26.39h-1.42zM397.76 117.3h1.42v27.48h-1.42zM399.29 117.3h1.42v16.03h-1.42zM400.82 117.3h1.42v25.85h-1.42zM402.35 117.3h1.42v26.94h-1.42zM403.88 117.3h1.42v23.12h-1.42zM405.42 117.3h1.42v23.12h-1.42zM406.95 117.3h1.42v23.66h-1.42zM408.48 117.3h1.42v22.57h-1.42zM410.01 117.3h1.42v24.75h-1.42zM411.54 117.3h1.42v26.39h-1.42zM413.07 117.3h1.42v25.3h-1.42zM414.6 117.3h1.79v15.5h-1.79zM420 117.3h1.54v30.5h-1.54zM421.65 117.3h1.54v25h-1.54z"/><path fill="#40A63A" d="M28.5 118.18h1.4v0.7h-1.4zM30.01 117.3h1.4v0.4h-1.4zM31.52 119.11h1.4v0.7h-1.4zM33.02 117.74h1.4v0.4h-1.4zM34.53 117.74h1.4v0.4h-1.4zM36.04 119.5h1.4v0.7h-1.4zM37.55 120.44h1.4v0.7h-1.4zM39.06 118.62h1.4v0.7h-1.4zM40.56 118.18h1.4v0.7h-1.4zM42.07 119.5h1.4v0.7h-1.4zM43.58 117.74h1.4v0.4h-1.4zM45.09 117.74h1.4v0.4h-1.4zM46.6 119.11h1.4v0.7h-1.4zM48.11 120.44h1.4v0.7h-1.4zM49.61 119.5h1.4v0.7h-1.4zM51.12 117.74h1.4v0.4h-1.4zM52.63 118.62h1.4v0.7h-1.4zM54.14 121.81h1.4v0.7h-1.4zM55.65 122.25h1.4v0.7h-1.4zM57.15 122.25h1.4v0.7h-1.4zM58.66 119.5h1.4v0.7h-1.4zM60.17 117.74h1.4v0.4h-1.4zM61.68 120.88h1.4v0.7h-1.4zM63.19 121.81h1.4v0.7h-1.4zM64.69 117.74h1.4v0.4h-1.4zM66.2 121.31h1.4v0.7h-1.4zM67.71 121.31h1.4v0.7h-1.4zM69.22 117.3h1.4v0.4h-1.4zM70.73 121.31h1.4v0.7h-1.4zM72.24 121.81h1.4v0.7h-1.4zM73.74 120.88h1.4v0.7h-1.4zM75.25 122.69h1.4v0.7h-1.4zM76.76 120.88h1.4v0.7h-1.4zM78.27 120.88h1.4v0.7h-1.4zM79.78 117.3h1.4v0.4h-1.4zM81.28 117.3h1.4v0.4h-1.4zM82.79 124.01h1.4v0.7h-1.4zM87.2 125.38h1.39v1.6h-1.39zM88.7 127.2h1.39v0.85h-1.39zM90.2 127.48h1.39v1.26h-1.39zM91.7 127h1.39v1.38h-1.39zM93.2 126.12h1.39v1.53h-1.39zM94.7 126.5h1.39v1.62h-1.39zM96.2 125.58h1.39v1.3h-1.39zM97.7 125.76h1.39v1.49h-1.39zM99.2 125.61h1.39v1.77h-1.39zM100.7 126.63h1.39v1.05h-1.39zM102.2 126.7h1.39v0.9h-1.39zM103.7 126.79h1.39v1.53h-1.39zM105.2 127.23h1.39v1.18h-1.39zM106.7 128.25h1.39v1.29h-1.39zM108.2 128.87h1.39v1.26h-1.39zM109.7 128.32h1.39v0.87h-1.39zM111.2 126.62h1.39v1.45h-1.39zM112.7 126.28h1.39v0.84h-1.39zM114.2 127.29h1.39v0.8h-1.39zM115.7 127.39h1.39v1.03h-1.39zM117.2 126.78h1.39v1.66h-1.39zM118.7 126.01h1.39v1.44h-1.39zM120.2 129.08h1.39v1.35h-1.39zM121.7 128.62h1.39v0.99h-1.39zM123.2 117.3h1.49v0.8h-1.49zM124.8 117.3h1.49v0.8h-1.49zM126.4 123.83h1.54v0.8h-1.54zM128.05 119.75h1.54v0.8h-1.54zM129.7 122.19h1.54v0.8h-1.54zM131.35 121.38h1.54v0.8h-1.54zM133 126.73h1.42v0.99h-1.42zM134.53 128.92h1.42v1.19h-1.42zM136.07 128.2h1.42v0.85h-1.42zM137.6 126.99h1.42v1.77h-1.42zM139.13 128.23h1.42v1.4h-1.42zM140.67 127.21h1.42v1.75h-1.42zM142.2 124.92h1.42v0.9h-1.42zM143.73 124.53h1.42v1.74h-1.42zM145.27 124.67h1.42v1.54h-1.42zM146.8 117.3h1.49v0.9h-1.49zM148.4 123.76h1.36v1.18h-1.36zM149.87 124.35h1.36v0.86h-1.36zM151.34 120.56h1.36v1.34h-1.36zM152.81 123.26h1.36v0.68h-1.36zM154.29 123.97h1.36v0.98h-1.36zM155.76 125.29h1.36v0.85h-1.36zM157.23 124.59h1.36v0.9h-1.36zM158.7 118.9h1.39v0.9h-1.39zM160.2 118.9h1.39v0.9h-1.39zM161.7 118.9h1.39v0.9h-1.39zM163.2 128.6h1.64v2.3h-1.64zM164.95 128.6h1.64v1.5h-1.64zM169.7 133.2h1.22v1.7h-1.22zM171.03 133.2h1.22v1.7h-1.22zM172.37 133.3h1.22v2.2h-1.22zM176.6 127.7h1.64v2h-1.64zM178.35 127.7h1.64v2h-1.64zM203.9 135.03h1.38v3.2h-1.38zM205.39 139.11h1.38v3h-1.38zM206.87 140.74h1.38v1.8h-1.38zM208.36 142.37h1.38v1.8h-1.38zM209.84 139.11h1.38v3h-1.38zM211.33 137.48h1.38v4h-1.38zM212.81 142.37h1.38v1.8h-1.38zM214.3 117.3h1.3v45.44h-1.3zM215.71 117.3h1.3v45.32h-1.3zM217.13 117.3h1.3v44.7h-1.3zM218.54 117.3h1.3v45.03h-1.3zM219.96 117.3h1.3v45.35h-1.3zM221.37 117.3h1.3v44.72h-1.3zM222.79 117.3h1.3v45.38h-1.3zM224.2 135.1h1.4v27h-1.4zM225.71 131.19h1.4v22.21h-1.4zM227.22 117.3h1.4v45.3h-1.4zM228.73 126.27h1.4v20.13h-1.4zM230.24 137.48h1.4v10.92h-1.4zM231.76 129.7h1.4v28.5h-1.4zM233.27 132.65h1.4v22.95h-1.4zM234.78 135.6h1.4v21.6h-1.4zM236.29 129.89h1.4v29.41h-1.4zM237.8 117.3h1.54v45.5h-1.54zM239.45 117.3h1.54v45.5h-1.54zM241.1 141.64h1.42v3.72h-1.42zM242.63 138.73h1.42v1.53h-1.42zM244.17 143.97h1.42v5.11h-1.42zM245.7 136.4h1.42v2h-1.42zM247.23 136.4h1.42v2h-1.42zM248.77 139.89h1.42v3.37h-1.42zM250.3 137.56h1.42v3.02h-1.42zM251.83 141.06h1.42v3.72h-1.42zM253.37 142.81h1.42v3.37h-1.42zM254.9 141.64h1.42v3.72h-1.42zM256.43 141.06h1.42v2.67h-1.42zM257.97 142.23h1.42v3.02h-1.42zM259.5 142.23h1.42v3.02h-1.42zM261.03 142.23h1.42v4.07h-1.42zM262.57 141.06h1.42v2.67h-1.42zM264.1 137.56h1.42v2h-1.42zM265.63 141.64h1.42v5.81h-1.42zM267.17 143.39h1.42v5.46h-1.42zM268.7 143.97h1.42v3.72h-1.42zM270.23 135.23h1.42v2h-1.42zM271.77 135.23h1.42v2h-1.42zM273.3 148.64h1.42v5.11h-1.42zM274.83 145.14h1.42v4.42h-1.42zM276.37 142.81h1.42v5.11h-1.42zM286.7 153.7h1.69v1.6h-1.69zM288.5 157.5h1.39v1.8h-1.39zM293.2 149.58h1.37v1.8h-1.37zM294.68 146.67h1.37v2.2h-1.37zM296.16 144.34h1.37v2.5h-1.37zM297.64 144.34h1.37v2.5h-1.37zM299.12 148.42h1.37v2.2h-1.37zM300.61 147.84h1.37v2.2h-1.37zM302.09 144.92h1.37v2.8h-1.37zM303.57 144.34h1.37v2.6h-1.37zM305.05 144.34h1.37v2.6h-1.37zM306.53 147.84h1.37v2.4h-1.37zM308.01 149h1.37v2.4h-1.37zM309.49 149.58h1.37v2.2h-1.37zM310.97 156.58h1.37v1.8h-1.37zM312.46 156.58h1.37v1.8h-1.37zM313.94 157.74h1.37v1.5h-1.37zM315.42 150.4h1.37v3.5h-1.37zM321.9 158.8h1.44v3h-1.44zM323.45 158.8h1.44v3h-1.44zM325 151.1h1.39v5h-1.39zM326.5 150.6h1.39v5.5h-1.39zM328 151.3h1.39v4.2h-1.39zM329.5 150.6h1.39v5.3h-1.39zM331 158.97h1.49v2.8h-1.49zM332.6 158.46h1.49v3h-1.49zM334.2 158.7h1.49v3h-1.49zM335.8 158.73h1.49v3.2h-1.49zM337.4 158.86h1.49v3h-1.49zM339 150.47h1.32v4.6h-1.32zM340.43 149.77h1.32v5.2h-1.32zM341.87 149.2h1.32v5.2h-1.32zM343.3 150.39h1.32v4.6h-1.32zM344.73 151.16h1.32v4.6h-1.32zM346.17 150.86h1.32v4.6h-1.32zM347.6 148.84h1.32v5.8h-1.32zM349.03 148.85h1.32v5.8h-1.32zM350.47 148.39h1.32v5.5h-1.32zM351.9 137.8h1.29v3.5h-1.29zM360.75 149.1h1.38v3h-1.38zM368.21 142.3h1.38v3.5h-1.38zM369.7 142.3h1.38v3.5h-1.38zM371.19 133.3h1.38v1.7h-1.38zM377.15 135.6h1.38v1.7h-1.38zM381.63 134.3h1.38v2.3h-1.38zM384.61 136.8h1.38v2h-1.38zM394.7 139.48h1.42v2h-1.42zM396.23 144.39h1.42v2.5h-1.42zM397.76 145.48h1.42v2.2h-1.42zM399.29 134.03h1.42v5h-1.42zM400.82 143.85h1.42v2.5h-1.42zM402.35 144.94h1.42v2.2h-1.42zM403.88 141.12h1.42v3h-1.42zM405.42 141.12h1.42v3h-1.42zM406.95 141.66h1.42v3h-1.42zM408.48 140.57h1.42v3h-1.42zM410.01 142.75h1.42v2.5h-1.42zM411.54 144.39h1.42v2.5h-1.42zM413.07 143.3h1.42v3h-1.42zM414.6 132.8h1.79v1.7h-1.79zM420 147.8h1.54v4h-1.54zM421.65 144.3h1.54v4.4h-1.54z"/><path fill="#E5292B" d="M28.5 118.88h1.4v43.53h-1.4zM30.01 117.7h1.4v44.6h-1.4zM31.52 120.6h1.4v42.29h-1.4zM33.02 118.14h1.4v44.29h-1.4zM34.53 118.14h1.4v44.24h-1.4zM36.04 121.3h1.4v40.97h-1.4zM37.55 123h1.4v38.99h-1.4zM39.06 119.7h1.4v42.25h-1.4zM40.56 118.88h1.4v43.76h-1.4zM42.07 121.3h1.4v40.8h-1.4zM43.58 118.14h1.4v44.62h-1.4zM45.09 118.14h1.4v43.98h-1.4zM46.6 120.6h1.4v41.32h-1.4zM48.11 123h1.4v39.07h-1.4zM49.61 121.3h1.4v40.89h-1.4zM51.12 118.14h1.4v44.04h-1.4zM52.63 119.7h1.4v42.59h-1.4zM54.14 125.5h1.4v36.51h-1.4zM55.65 126.3h1.4v36.05h-1.4zM57.15 126.3h1.4v36.25h-1.4zM58.66 121.3h1.4v41.37h-1.4zM60.17 118.14h1.4v44.22h-1.4zM61.68 123.8h1.4v38.58h-1.4zM63.19 125.5h1.4v36.83h-1.4zM64.69 118.14h1.4v44.16h-1.4zM66.2 124.6h1.4v37.81h-1.4zM67.71 124.6h1.4v37.85h-1.4zM69.22 117.7h1.4v44.73h-1.4zM70.73 124.6h1.4v37.67h-1.4zM72.24 125.5h1.4v36.75h-1.4zM73.74 123.8h1.4v38.74h-1.4zM75.25 127.1h1.4v35.01h-1.4zM76.76 123.8h1.4v38.32h-1.4zM78.27 123.8h1.4v38.98h-1.4zM79.78 117.7h1.4v44.73h-1.4zM81.28 117.7h1.4v44.79h-1.4zM82.79 129.5h1.4v33.12h-1.4zM84.3 117.6h1.34v43.7h-1.34zM85.75 117.3h1.34v44h-1.34zM87.2 127.9h1.39v35.01h-1.39zM88.7 131.98h1.39v30.44h-1.39zM90.2 131.98h1.39v30.13h-1.39zM91.7 130.35h1.39v31.67h-1.39zM93.2 131.17h1.39v30.55h-1.39zM94.7 131.17h1.39v31.14h-1.39zM96.2 131.17h1.39v30.69h-1.39zM97.7 130.35h1.39v31.97h-1.39zM99.2 130.35h1.39v32.19h-1.39zM100.7 130.35h1.39v32.37h-1.39zM102.2 129.53h1.39v32.73h-1.39zM103.7 129.53h1.39v33.02h-1.39zM105.2 130.35h1.39v31.34h-1.39zM106.7 131.17h1.39v31.23h-1.39zM108.2 131.17h1.39v31.03h-1.39zM109.7 132.8h1.39v29.92h-1.39zM111.2 128.72h1.39v33.72h-1.39zM112.7 128.72h1.39v33.98h-1.39zM114.2 133.61h1.39v29.07h-1.39zM115.7 135.24h1.39v26.56h-1.39zM117.2 135.24h1.39v27.32h-1.39zM118.7 133.61h1.39v28.83h-1.39zM120.2 136.88h1.39v25.44h-1.39zM121.7 136.88h1.39v25.26h-1.39zM123.2 125.8h1.49v36.7h-1.49zM124.8 125.8h1.49v36.7h-1.49zM126.4 131.98h1.54v29.8h-1.54zM128.05 126.27h1.54v35.6h-1.54zM129.7 129.53h1.54v31.79h-1.54zM131.35 128.72h1.54v32.87h-1.54zM133 130.35h1.42v31.44h-1.42zM134.53 135.24h1.42v26.73h-1.42zM136.07 135.24h1.42v27.07h-1.42zM137.6 134.43h1.42v28.08h-1.42zM139.13 132.8h1.42v29.63h-1.42zM140.67 132.8h1.42v29.17h-1.42zM142.2 130.35h1.42v31.45h-1.42zM143.73 130.35h1.42v32.45h-1.42zM145.27 130.35h1.42v31.59h-1.42zM146.8 118.2h1.49v44.5h-1.49zM148.4 130.35h1.36v31.61h-1.36zM149.87 132.8h1.36v28.84h-1.36zM151.34 125.41h1.36v37.17h-1.36zM152.81 131.98h1.36v30.76h-1.36zM154.29 133.61h1.36v28.76h-1.36zM155.76 132.8h1.36v29.59h-1.36zM157.23 132.8h1.36v29.07h-1.36zM158.7 125.9h1.39v36.3h-1.39zM160.2 125.9h1.39v36.3h-1.39zM161.7 125.9h1.39v36.3h-1.39zM163.2 136.18h1.64v23.32h-1.64zM164.95 139.09h1.64v20.41h-1.64zM169.7 136.18h1.22v22.62h-1.22zM171.03 136.18h1.22v22.62h-1.22zM172.37 143.17h1.22v15.23h-1.22zM176.6 143.17h1.64v15.13h-1.64zM178.35 139.09h1.64v19.21h-1.64zM191.8 142.59h1.29v15.71h-1.29zM193.2 140.26h1.29v13.34h-1.29zM194.6 140.26h1.29v13.34h-1.29zM196 145.51h1.29v13.29h-1.29zM197.4 149h1.29v9.8h-1.29zM203.9 144.23h1.38v15.7h-1.38zM205.39 147.61h1.38v12.82h-1.38zM206.87 147.04h1.38v13.67h-1.38zM208.36 148.17h1.38v12.52h-1.38zM209.84 148.11h1.38v11.76h-1.38zM211.33 146.48h1.38v13.83h-1.38zM212.81 147.67h1.38v12.08h-1.38zM225.71 155.4h1.4v4.4h-1.4zM228.73 151.3h1.4v10.8h-1.4zM230.24 152.8h1.4v9.3h-1.4zM231.76 158.2h1.4v3.9h-1.4zM233.27 157.1h1.4v3.9h-1.4zM234.78 157.2h1.4v4.9h-1.4zM236.29 159.3h1.4v3h-1.4zM241.1 147.84h1.42v13.37h-1.42zM242.63 140.26h1.42v20.43h-1.42zM244.17 152.5h1.42v7.81h-1.42zM245.7 139.09h1.42v21.1h-1.42zM247.23 139.09h1.42v21.56h-1.42zM248.77 145.51h1.42v14.29h-1.42zM250.3 142.59h1.42v18.17h-1.42zM251.83 147.25h1.42v12.42h-1.42zM253.37 148.42h1.42v12.15h-1.42zM254.9 147.84h1.42v12.73h-1.42zM256.43 145.51h1.42v14.47h-1.42zM257.97 147.25h1.42v12.67h-1.42zM259.5 147.25h1.42v12.92h-1.42zM261.03 149h1.42v11.29h-1.42zM262.57 145.51h1.42v14.58h-1.42zM264.1 139.68h1.42v20.45h-1.42zM265.63 151.33h1.42v9.17h-1.42zM267.17 152.5h1.42v7.65h-1.42zM268.7 150.17h1.42v9.78h-1.42zM270.23 137.35h1.42v23.15h-1.42zM271.77 137.35h1.42v23.41h-1.42zM273.3 157.16h1.42v3.36h-1.42zM274.83 152.5h1.42v7.89h-1.42zM276.37 151.33h1.42v9.06h-1.42zM286.7 155.3h1.69v5.5h-1.69zM293.2 153.66h1.37v6.64h-1.37zM294.68 154.25h1.37v7.09h-1.37zM296.16 150.17h1.37v10.51h-1.37zM297.64 150.17h1.37v11.26h-1.37zM299.12 151.92h1.37v8.53h-1.37zM300.61 153.66h1.37v6.94h-1.37zM302.09 152.5h1.37v8.53h-1.37zM303.57 151.33h1.37v9.9h-1.37zM305.05 151.33h1.37v9.72h-1.37zM306.53 154.25h1.37v6.87h-1.37zM308.01 155.99h1.37v5.01h-1.37zM309.49 157.74h1.37v2.81h-1.37zM310.97 158.38h1.37v2.52h-1.37zM312.46 158.38h1.37v2.28h-1.37zM313.94 160.07h1.37v1.45h-1.37zM315.42 157.16h1.37v3.64h-1.37zM325 156.1h1.39v4.6h-1.39zM326.5 156.1h1.39v4.6h-1.39zM328 155.5h1.39v4.6h-1.39zM329.5 155.9h1.39v4.6h-1.39zM339 156.27h1.32v4h-1.32zM340.43 156.77h1.32v4h-1.32zM341.87 157.2h1.32v3h-1.32zM343.3 157.79h1.32v2.8h-1.32zM344.73 158.56h1.32v2.4h-1.32zM346.17 158.26h1.32v2.4h-1.32zM347.6 158.04h1.32v2.4h-1.32zM349.03 157.45h1.32v3.4h-1.32zM350.47 156.69h1.32v3.4h-1.32zM351.9 141.3h1.29v7.5h-1.29zM368.21 145.8h1.38v2h-1.38zM369.7 145.8h1.38v2h-1.38zM377.15 137.3h1.38v7h-1.38zM378.65 138.1h1.38v1.2h-1.38zM384.61 138.8h1.38v2h-1.38zM394.7 144.78h1.42v16.66h-1.42zM396.23 152.41h1.42v8.93h-1.42zM397.76 152.96h1.42v8.92h-1.42zM399.29 144.78h1.42v16.4h-1.42zM400.82 154.6h1.42v7.2h-1.42zM402.35 150.23h1.42v11.65h-1.42zM403.88 149.14h1.42v12.41h-1.42zM405.42 149.14h1.42v12.62h-1.42zM406.95 151.32h1.42v10.4h-1.42zM408.48 149.69h1.42v12.06h-1.42zM410.01 152.41h1.42v9.37h-1.42zM411.54 154.6h1.42v7.02h-1.42zM413.07 153.51h1.42v8.42h-1.42zM420 152.6h1.54v8.3h-1.54zM421.65 153.1h1.54v7.8h-1.54z"/><path fill="#FBA1A0" d="M31.52 119.81h1.4v0.79h-1.4zM36.04 120.2h1.4v1.1h-1.4zM37.55 121.13h1.4v1.87h-1.4zM39.06 119.32h1.4v0.38h-1.4zM42.07 120.2h1.4v1.1h-1.4zM46.6 119.81h1.4v0.79h-1.4zM48.11 121.13h1.4v1.87h-1.4zM49.61 120.2h1.4v1.1h-1.4zM52.63 119.32h1.4v0.38h-1.4zM54.14 122.51h1.4v2.99h-1.4zM55.65 122.95h1.4v3.35h-1.4zM57.15 122.95h1.4v3.35h-1.4zM58.66 120.2h1.4v1.1h-1.4zM61.68 121.58h1.4v2.22h-1.4zM63.19 122.51h1.4v2.99h-1.4zM66.2 122.02h1.4v2.58h-1.4zM67.71 122.02h1.4v2.58h-1.4zM70.73 122.02h1.4v2.58h-1.4zM72.24 122.51h1.4v2.99h-1.4zM73.74 121.58h1.4v2.22h-1.4zM75.25 123.39h1.4v3.71h-1.4zM76.76 121.58h1.4v2.22h-1.4zM78.27 121.58h1.4v2.22h-1.4zM82.79 124.71h1.4v4.79h-1.4zM87.2 126.98h1.39v0.92h-1.39zM88.7 128.06h1.39v3.93h-1.39zM90.2 128.74h1.39v3.24h-1.39zM91.7 128.39h1.39v1.97h-1.39zM93.2 127.65h1.39v3.51h-1.39zM94.7 128.12h1.39v3.05h-1.39zM96.2 126.88h1.39v4.29h-1.39zM97.7 127.25h1.39v3.1h-1.39zM99.2 127.37h1.39v2.98h-1.39zM100.7 127.69h1.39v2.66h-1.39zM102.2 127.6h1.39v1.93h-1.39zM103.7 128.32h1.39v1.21h-1.39zM105.2 128.41h1.39v1.94h-1.39zM106.7 129.54h1.39v1.63h-1.39zM108.2 130.13h1.39v1.04h-1.39zM109.7 129.19h1.39v3.61h-1.39zM111.2 128.07h1.39v0.65h-1.39zM112.7 127.12h1.39v1.6h-1.39zM114.2 128.1h1.39v5.52h-1.39zM115.7 128.42h1.39v6.82h-1.39zM117.2 128.45h1.39v6.8h-1.39zM118.7 127.45h1.39v6.16h-1.39zM120.2 130.43h1.39v6.45h-1.39zM121.7 129.61h1.39v7.27h-1.39zM123.2 118.6h1.49v7.2h-1.49zM124.8 118.6h1.49v7.2h-1.49zM126.4 124.63h1.54v7.36h-1.54zM128.05 120.55h1.54v5.73h-1.54zM129.7 122.99h1.54v6.54h-1.54zM131.35 122.18h1.54v6.54h-1.54zM133 127.72h1.42v2.63h-1.42zM134.53 130.1h1.42v5.14h-1.42zM136.07 129.05h1.42v6.2h-1.42zM137.6 128.76h1.42v5.67h-1.42zM139.13 129.62h1.42v3.17h-1.42zM140.67 128.96h1.42v3.83h-1.42zM142.2 125.81h1.42v4.54h-1.42zM143.73 126.27h1.42v4.08h-1.42zM145.27 126.21h1.42v4.14h-1.42zM148.4 124.94h1.36v5.41h-1.36zM149.87 125.2h1.36v7.59h-1.36zM151.34 121.9h1.36v3.51h-1.36zM152.81 123.95h1.36v8.04h-1.36zM154.29 124.95h1.36v8.67h-1.36zM155.76 126.14h1.36v6.66h-1.36zM157.23 125.49h1.36v7.31h-1.36zM158.7 119.8h1.39v6.1h-1.39zM160.2 119.8h1.39v6.1h-1.39zM161.7 119.8h1.39v6.1h-1.39zM163.2 130.9h1.64v5.28h-1.64zM164.95 131.1h1.64v7.99h-1.64zM169.7 128h1.22v5.2h-1.22zM169.7 134.9h1.22v1.28h-1.22zM171.03 128h1.22v5.2h-1.22zM171.03 134.9h1.22v1.28h-1.22zM172.37 131.5h1.22v1.8h-1.22zM172.37 135.5h1.22v7.67h-1.22zM173.7 117.3h1.34v46h-1.34zM175.15 117.3h1.34v46h-1.34zM176.6 129.7h1.64v13.47h-1.64zM178.35 129.7h1.64v9.39h-1.64zM180.1 117.3h1.16v46h-1.16zM181.37 117.3h1.16v46h-1.16zM182.63 117.3h1.16v46h-1.16zM191.8 128h1.29v14.59h-1.29zM193.2 129.2h1.29v11.06h-1.29zM194.6 129.2h1.29v11.06h-1.29zM196 128.6h1.29v16.91h-1.29zM197.4 142.1h1.29v6.9h-1.29zM203.9 138.23h1.38v6h-1.38zM205.39 142.11h1.38v5.5h-1.38zM206.87 142.54h1.38v4.5h-1.38zM208.36 144.17h1.38v4h-1.38zM209.84 142.11h1.38v6h-1.38zM211.33 141.48h1.38v5h-1.38zM212.81 144.17h1.38v3.5h-1.38zM225.71 153.4h1.4v2h-1.4zM228.73 146.4h1.4v4.9h-1.4zM230.24 148.4h1.4v4.4h-1.4zM233.27 155.6h1.4v1.5h-1.4zM241.1 145.36h1.42v2.48h-1.42zM244.17 149.09h1.42v3.41h-1.42zM245.7 138.4h1.42v0.7h-1.42zM247.23 138.4h1.42v0.7h-1.42zM248.77 143.26h1.42v2.24h-1.42zM250.3 140.58h1.42v2.01h-1.42zM251.83 144.78h1.42v2.48h-1.42zM253.37 146.17h1.42v2.24h-1.42zM254.9 145.36h1.42v2.48h-1.42zM256.43 143.73h1.42v1.78h-1.42zM257.97 145.24h1.42v2.01h-1.42zM259.5 145.24h1.42v2.01h-1.42zM261.03 146.29h1.42v2.71h-1.42zM262.57 143.73h1.42v1.78h-1.42zM264.1 139.56h1.42v0.11h-1.42zM265.63 147.46h1.42v3.88h-1.42zM267.17 148.86h1.42v3.64h-1.42zM268.7 147.69h1.42v2.48h-1.42zM270.23 137.23h1.42v0.11h-1.42zM271.77 137.23h1.42v0.11h-1.42zM273.3 153.75h1.42v3.41h-1.42zM274.83 149.55h1.42v2.94h-1.42zM276.37 147.92h1.42v3.41h-1.42zM293.2 151.38h1.37v2.28h-1.37zM294.68 148.87h1.37v5.38h-1.37zM296.16 146.84h1.37v3.33h-1.37zM297.64 146.84h1.37v3.33h-1.37zM299.12 150.62h1.37v1.3h-1.37zM300.61 150.04h1.37v3.63h-1.37zM302.09 147.72h1.37v4.78h-1.37zM303.57 146.94h1.37v4.39h-1.37zM305.05 146.94h1.37v4.39h-1.37zM306.53 150.24h1.37v4.01h-1.37zM308.01 151.4h1.37v4.59h-1.37zM309.49 151.78h1.37v5.96h-1.37zM313.94 159.24h1.37v0.83h-1.37zM315.42 153.9h1.37v3.26h-1.37zM339 155.07h1.32v1.2h-1.32zM340.43 154.97h1.32v1.8h-1.32zM341.87 154.4h1.32v2.8h-1.32zM343.3 154.99h1.32v2.8h-1.32zM344.73 155.76h1.32v2.8h-1.32zM346.17 155.46h1.32v2.8h-1.32zM347.6 154.64h1.32v3.4h-1.32zM349.03 154.65h1.32v2.8h-1.32zM350.47 153.89h1.32v2.8h-1.32zM351.9 151.3h1.29v12h-1.29zM381.63 136.6h1.38v1.7h-1.38zM394.7 141.48h1.42v3.3h-1.42zM396.23 146.89h1.42v5.52h-1.42zM397.76 147.68h1.42v5.28h-1.42zM399.29 139.03h1.42v5.75h-1.42zM400.82 146.35h1.42v8.25h-1.42zM402.35 147.14h1.42v3.1h-1.42zM403.88 144.12h1.42v5.02h-1.42zM405.42 144.12h1.42v5.02h-1.42zM406.95 144.66h1.42v6.66h-1.42zM408.48 143.57h1.42v6.11h-1.42zM410.01 145.25h1.42v7.16h-1.42zM411.54 146.89h1.42v7.71h-1.42zM413.07 146.3h1.42v7.21h-1.42zM414.6 134.5h1.79v27.2h-1.79zM416.5 117.3h1.64v46h-1.64zM418.25 117.3h1.64v46h-1.64zM420 151.8h1.54v0.8h-1.54zM421.65 148.7h1.54v4.4h-1.54z"/><path fill="#FF8711" d="M84.3 162.1h1.34v1.2h-1.34zM85.75 162.1h1.34v1.2h-1.34zM126.4 162.28h1.54v1.02h-1.54zM128.05 162.37h1.54v0.93h-1.54zM129.7 161.83h1.54v1.47h-1.54zM131.35 162.09h1.54v1.21h-1.54zM166.7 159.1h1.39v1.5h-1.39zM168.2 159.1h1.39v1.5h-1.39zM203.9 162.67h1.38v0.63h-1.38zM205.39 162.29h1.38v1.01h-1.38zM206.87 162.6h1.38v0.7h-1.38zM208.36 162.45h1.38v0.85h-1.38zM209.84 162.66h1.38v0.64h-1.38zM211.33 162.04h1.38v1.26h-1.38zM212.81 162.32h1.38v0.98h-1.38zM214.3 162.9h1.3v0.4h-1.3zM215.71 163.03h1.3v0.27h-1.3zM217.13 162.57h1.3v0.73h-1.3zM218.54 162.93h1.3v0.37h-1.3zM221.37 162.65h1.3v0.65h-1.3zM222.79 163.01h1.3v0.29h-1.3zM225.71 159.8h1.4v3.5h-1.4zM227.22 162.6h1.4v0.7h-1.4zM228.73 162.1h1.4v1.2h-1.4zM230.24 162.1h1.4v1.2h-1.4zM231.76 162.1h1.4v1.2h-1.4zM233.27 161.3h1.4v2h-1.4zM234.78 162.1h1.4v1.2h-1.4zM236.29 162.3h1.4v1h-1.4zM237.8 162.8h1.54v0.5h-1.54zM239.45 162.8h1.54v0.5h-1.54zM241.1 162.19h1.42v1.11h-1.42zM242.63 162.05h1.42v1.25h-1.42zM244.17 161.42h1.42v1.88h-1.42zM245.7 161.73h1.42v1.57h-1.42zM247.23 161.57h1.42v1.73h-1.42zM248.77 161.28h1.42v2.02h-1.42zM250.3 161.9h1.42v1.4h-1.42zM251.83 161.51h1.42v1.79h-1.42zM253.37 161.86h1.42v1.44h-1.42zM254.9 161.64h1.42v1.66h-1.42zM256.43 161.79h1.42v1.51h-1.42zM257.97 161.64h1.42v1.66h-1.42zM259.5 161.94h1.42v1.36h-1.42zM261.03 161.42h1.42v1.88h-1.42zM262.57 161.67h1.42v1.63h-1.42zM264.1 161.63h1.42v1.67h-1.42zM265.63 161.96h1.42v1.34h-1.42zM267.17 161.85h1.42v1.45h-1.42zM268.7 161.83h1.42v1.47h-1.42zM270.23 161.62h1.42v1.68h-1.42zM271.77 161.78h1.42v1.52h-1.42zM273.3 161.46h1.42v1.84h-1.42zM274.83 161.6h1.42v1.7h-1.42zM276.37 161.42h1.42v1.88h-1.42zM286.7 160.8h1.69v2.5h-1.69zM288.5 159.3h1.39v2.5h-1.39zM293.2 161.72h1.37v1.58h-1.37zM294.68 162.17h1.37v1.13h-1.37zM296.16 162.03h1.37v1.27h-1.37zM297.64 162.14h1.37v1.16h-1.37zM299.12 161.96h1.37v1.34h-1.37zM300.61 162.24h1.37v1.06h-1.37zM302.09 161.89h1.37v1.41h-1.37zM303.57 162.3h1.37v1h-1.37zM305.05 161.92h1.37v1.38h-1.37zM306.53 162.32h1.37v0.98h-1.37zM308.01 162.15h1.37v1.15h-1.37zM309.49 161.95h1.37v1.35h-1.37zM310.97 161.82h1.37v1.48h-1.37zM312.46 162.22h1.37v1.08h-1.37zM313.94 162.35h1.37v0.95h-1.37zM315.42 162.33h1.37v0.97h-1.37zM353.3 160h1.38v3.3h-1.38zM354.79 158.9h1.38v4.4h-1.38zM356.28 156.5h1.38v6.8h-1.38zM357.77 155.9h1.38v7.4h-1.38zM359.26 143.3h1.38v20h-1.38zM360.75 153.3h1.38v10h-1.38zM362.25 151.3h1.38v12h-1.38zM363.74 154.8h1.38v8.5h-1.38zM365.23 161.8h1.38v1.5h-1.38zM366.72 149h1.38v14.3h-1.38zM368.21 147.8h1.38v15.5h-1.38zM369.7 147.8h1.38v15.5h-1.38zM371.19 135h1.38v28.3h-1.38zM372.68 140.3h1.38v23h-1.38zM374.17 132.3h1.38v31h-1.38zM375.66 131.5h1.38v31.8h-1.38zM377.15 145.8h1.38v17.5h-1.38zM378.65 139.3h1.38v24h-1.38zM380.14 117.3h1.38v46h-1.38zM381.63 141.3h1.38v22h-1.38zM383.12 117.3h1.38v46h-1.38zM384.61 140.8h1.38v22.5h-1.38zM386.1 117.3h1.32v46h-1.32zM387.53 117.3h1.32v46h-1.32zM388.97 117.3h1.32v46h-1.32zM390.4 117.3h1.32v46h-1.32zM391.83 117.3h1.32v46h-1.32zM393.27 117.3h1.32v46h-1.32zM394.7 161.44h1.42v0.81h-1.42zM396.23 161.34h1.42v0.91h-1.42zM397.76 161.88h1.42v0.59h-1.42zM399.29 161.18h1.42v1.05h-1.42zM400.82 161.8h1.42v0.73h-1.42zM402.35 161.88h1.42v0.87h-1.42zM403.88 161.55h1.42v0.73h-1.42zM405.42 161.76h1.42v0.87h-1.42zM406.95 161.72h1.42v0.6h-1.42zM408.48 161.75h1.42v0.89h-1.42zM410.01 161.79h1.42v0.99h-1.42zM411.54 161.61h1.42v1h-1.42zM413.07 161.93h1.42v0.6h-1.42zM414.6 161.7h1.79v0.8h-1.79zM420 162.1h1.54v1.2h-1.54zM421.65 162.1h1.54v1.2h-1.54z"/><path fill="#2E81B9" d="M87.2 124.64h1.39v0.74h-1.39zM88.7 126.27h1.39v0.93h-1.39zM90.2 126.27h1.39v1.21h-1.39zM91.7 126.27h1.39v0.73h-1.39zM93.2 125.46h1.39v0.67h-1.39zM94.7 125.46h1.39v1.04h-1.39zM96.2 125.46h1.39v0.12h-1.39zM97.7 125.46h1.39v0.31h-1.39zM99.2 125.46h1.39v0.15h-1.39zM100.7 126.27h1.39v0.36h-1.39zM102.2 126.27h1.39v0.43h-1.39zM103.7 126.27h1.39v0.51h-1.39zM105.2 127.09h1.39v0.15h-1.39zM106.7 127.9h1.39v0.34h-1.39zM108.2 127.9h1.39v0.96h-1.39zM109.7 127.9h1.39v0.42h-1.39zM111.2 125.46h1.39v1.17h-1.39zM112.7 125.46h1.39v0.82h-1.39zM114.2 126.27h1.39v1.02h-1.39zM115.7 126.27h1.39v1.12h-1.39zM117.2 126.27h1.39v0.51h-1.39zM118.7 125.46h1.39v0.56h-1.39zM120.2 127.9h1.39v1.17h-1.39zM121.7 127.9h1.39v0.72h-1.39zM133 125.46h1.42v1.27h-1.42zM134.53 127.9h1.42v1.01h-1.42zM136.07 127.9h1.42v0.29h-1.42zM137.6 126.27h1.42v0.72h-1.42zM139.13 127.09h1.42v1.14h-1.42zM140.67 127.09h1.42v0.13h-1.42zM142.2 123.83h1.42v1.09h-1.42zM143.73 123.83h1.42v0.71h-1.42zM145.27 123.83h1.42v0.85h-1.42zM148.4 123.01h1.36v0.75h-1.36zM149.87 123.83h1.36v0.52h-1.36zM152.81 123.01h1.36v0.25h-1.36zM154.29 123.83h1.36v0.14h-1.36zM155.76 124.64h1.36v0.65h-1.36zM157.23 123.83h1.36v0.77h-1.36zM164.95 130.1h1.64v1h-1.64zM169.7 125.1h1.22v2.9h-1.22zM171.03 125.1h1.22v2.9h-1.22zM176.6 125.7h1.64v2h-1.64zM178.35 125.7h1.64v2h-1.64zM191.8 124.5h1.29v3.5h-1.29zM193.2 125.7h1.29v3.5h-1.29zM194.6 125.7h1.29v3.5h-1.29zM196 125.1h1.29v3.5h-1.29zM197.4 125.1h1.29v17h-1.29zM198.8 117.3h1.59v46h-1.59zM200.5 117.3h1.59v46h-1.59zM202.2 117.3h1.59v46h-1.59z"/><path fill="#B7E192" d="M203.9 134.43h1.38v0.6h-1.38zM205.39 138.51h1.38v0.6h-1.38zM206.87 140.14h1.38v0.6h-1.38zM208.36 141.77h1.38v0.6h-1.38zM209.84 138.51h1.38v0.6h-1.38zM211.33 136.88h1.38v0.6h-1.38zM212.81 141.77h1.38v0.6h-1.38zM224.2 134.1h1.4v1h-1.4zM225.71 129.19h1.4v2h-1.4zM228.73 124.77h1.4v1.5h-1.4zM230.24 135.08h1.4v2.4h-1.4zM231.76 128.2h1.4v1.5h-1.4zM233.27 131.15h1.4v1.5h-1.4zM234.78 134.1h1.4v1.5h-1.4zM236.29 128.69h1.4v1.2h-1.4zM241.1 140.84h1.42v0.8h-1.42zM242.63 137.93h1.42v0.8h-1.42zM244.17 143.17h1.42v0.8h-1.42zM245.7 135.6h1.42v0.8h-1.42zM247.23 135.6h1.42v0.8h-1.42zM248.77 139.09h1.42v0.8h-1.42zM250.3 136.76h1.42v0.8h-1.42zM251.83 140.26h1.42v0.8h-1.42zM253.37 142.01h1.42v0.8h-1.42zM254.9 140.84h1.42v0.8h-1.42zM256.43 140.26h1.42v0.8h-1.42zM257.97 141.43h1.42v0.8h-1.42zM259.5 141.43h1.42v0.8h-1.42zM261.03 141.43h1.42v0.8h-1.42zM262.57 140.26h1.42v0.8h-1.42zM264.1 136.76h1.42v0.8h-1.42zM265.63 140.84h1.42v0.8h-1.42zM267.17 142.59h1.42v0.8h-1.42zM268.7 143.17h1.42v0.8h-1.42zM270.23 134.43h1.42v0.8h-1.42zM271.77 134.43h1.42v0.8h-1.42zM273.3 147.84h1.42v0.8h-1.42zM274.83 144.34h1.42v0.8h-1.42zM276.37 142.01h1.42v0.8h-1.42zM277.9 117.3h1.36v46h-1.36zM279.37 117.3h1.36v46h-1.36zM280.83 117.3h1.36v46h-1.36zM282.3 117.3h1.36v46h-1.36zM283.77 117.3h1.36v41.6h-1.36zM285.23 117.3h1.36v46h-1.36zM286.7 128.8h1.69v24.9h-1.69zM288.5 125.7h1.39v31.8h-1.39zM290 117.3h1.49v46h-1.49zM291.6 117.3h1.49v46h-1.49zM293.2 140.84h1.37v8.74h-1.37zM294.68 136.76h1.37v9.91h-1.37zM296.16 139.09h1.37v5.24h-1.37zM297.64 139.09h1.37v5.24h-1.37zM299.12 137.35h1.37v11.07h-1.37zM300.61 133.85h1.37v13.99h-1.37zM302.09 139.09h1.37v5.83h-1.37zM303.57 141.43h1.37v2.91h-1.37zM305.05 141.43h1.37v2.91h-1.37zM306.53 143.76h1.37v4.08h-1.37zM308.01 145.51h1.37v3.5h-1.37zM309.49 147.84h1.37v1.75h-1.37zM310.97 153.66h1.37v2.91h-1.37zM312.46 153.66h1.37v2.91h-1.37zM313.94 155.99h1.37v1.75h-1.37zM315.42 150.17h1.37v0.23h-1.37zM339 149.27h1.32v1.2h-1.32zM340.43 147.47h1.32v2.3h-1.32zM341.87 147.4h1.32v1.8h-1.32zM347.6 147.64h1.32v1.2h-1.32zM349.03 147.05h1.32v1.8h-1.32zM350.47 146.89h1.32v1.5h-1.32zM394.7 138.78h1.42v0.7h-1.42zM396.23 143.69h1.42v0.7h-1.42zM397.76 144.78h1.42v0.7h-1.42zM399.29 133.33h1.42v0.7h-1.42zM400.82 143.15h1.42v0.7h-1.42zM402.35 144.24h1.42v0.7h-1.42zM403.88 140.42h1.42v0.7h-1.42zM405.42 140.42h1.42v0.7h-1.42zM406.95 140.96h1.42v0.7h-1.42zM408.48 139.87h1.42v0.7h-1.42zM410.01 142.05h1.42v0.7h-1.42zM411.54 143.69h1.42v0.7h-1.42zM413.07 142.6h1.42v0.7h-1.42zM421.65 142.3h1.54v2h-1.54z"/></g>
<path d="M28.5 163.3v9.5M65.4 163.3v9.5M90 163.3v9.5M117.4 163.3v9.5M163.6 163.3v9.5M204.1 163.3v9.5M244.4 163.3v9.5M274.6 163.3v9.5M316.9 163.3v9.5M360.3 163.3v9.5M422.8 163.3v9.5" stroke="#bdbdbd" stroke-width="0.5" fill="none"/>
<text font-size="6.3" stroke="#111" stroke-width="0.15" transform="translate(46.1 167.8) rotate(90)">Daan</text>
<text font-size="6.3" stroke="#111" stroke-width="0.15" textLength="44.6" lengthAdjust="spacingAndGlyphs" transform="translate(76.9 167.8) rotate(90)">Inner_Mongolian</text>
<text font-size="6.3" stroke="#111" stroke-width="0.15" transform="translate(103 167.8) rotate(90)">Kazakh</text>
<text font-size="6.3" stroke="#111" stroke-width="0.15" transform="translate(136.9 167.8) rotate(90)">Chakouyi</text>
<text font-size="6.3" stroke="#111" stroke-width="0.15" transform="translate(180.7 167.8) rotate(90)">Napu</text>
<text font-size="6.3" stroke="#111" stroke-width="0.15" transform="translate(222.6 167.8) rotate(90)">Jinjiang</text>
<text font-size="6.3" stroke="#111" stroke-width="0.15" transform="translate(256.9 167.8) rotate(90)">Lijiang</text>
<text font-size="6.3" stroke="#111" stroke-width="0.15" transform="translate(292.8 167.8) rotate(90)">Baise</text>
<text font-size="6.3" stroke="#111" stroke-width="0.15" transform="translate(335.9 167.8) rotate(90)">Zhaotong</text>
<text font-size="6.3" stroke="#111" stroke-width="0.15" transform="translate(386.6 167.8) rotate(90)">Tengchong</text>
<text font-size="10.5" x="5.9" y="145.7" textLength="17.3" lengthAdjust="spacingAndGlyphs">K=9</text>
<g filter="url(#soft)"><path fill="#744AA1" d="M28.5 273.33h1.43v0.77h-1.43zM30.04 273.27h1.43v0.83h-1.43zM31.57 273.08h1.43v1.02h-1.43zM33.11 273.62h1.43v0.48h-1.43zM34.64 273.25h1.43v0.85h-1.43zM36.18 273.01h1.43v1.09h-1.43zM37.71 272.99h1.43v1.11h-1.43zM39.25 273.71h1.43v0.39h-1.43zM40.79 273.25h1.43v0.85h-1.43zM42.32 273.28h1.43v0.82h-1.43zM43.86 273.4h1.43v0.7h-1.43zM45.39 272.93h1.43v1.17h-1.43zM46.93 273.37h1.43v0.73h-1.43zM48.46 273.45h1.43v0.65h-1.43zM50 272.96h1.42v1.14h-1.42zM51.53 273.26h1.42v0.84h-1.42zM53.06 273.6h1.42v0.5h-1.42zM54.59 273.59h1.42v0.51h-1.42zM56.13 273.4h1.42v0.7h-1.42zM57.66 273.85h1.42v0.25h-1.42zM59.19 273.29h1.42v0.81h-1.42zM60.72 273.16h1.42v0.94h-1.42zM62.25 273.47h1.42v0.63h-1.42zM63.78 273.05h1.42v1.05h-1.42zM65.32 272.97h1.42v1.13h-1.42zM66.85 273.34h1.42v0.76h-1.42zM68.38 273.22h1.42v0.88h-1.42zM69.91 273.78h1.42v0.32h-1.42zM71.44 273.84h1.42v0.26h-1.42zM72.97 272.92h1.42v1.18h-1.42zM74.51 273.62h1.42v0.48h-1.42zM76.04 273.69h1.42v0.41h-1.42zM77.57 273h1.42v1.1h-1.42zM82.2 273.5h1.89v0.6h-1.89zM87.4 273.25h1.42v0.85h-1.42zM88.93 273.73h1.42v0.37h-1.42zM90.46 273.61h1.42v0.49h-1.42zM91.99 273.13h1.42v0.97h-1.42zM93.52 273.85h1.42v0.25h-1.42zM95.05 273.72h1.42v0.38h-1.42zM96.58 273.54h1.42v0.56h-1.42zM98.11 273.21h1.42v0.89h-1.42zM99.64 273.62h1.42v0.48h-1.42zM101.17 273.99h1.42v0.11h-1.42zM102.7 273.11h1.42v0.99h-1.42zM104.23 273.39h1.42v0.71h-1.42zM105.76 273.27h1.42v0.83h-1.42zM107.29 273.74h1.42v0.36h-1.42zM108.82 273.98h1.42v0.12h-1.42zM110.35 273.89h1.42v0.21h-1.42zM111.88 273.71h1.42v0.39h-1.42zM113.41 273.17h1.42v0.93h-1.42zM114.94 273.13h1.42v0.97h-1.42zM116.47 273.15h1.42v0.95h-1.42zM118 273.6h1.42v0.5h-1.42zM119.53 273.6h1.42v0.5h-1.42zM121.07 273.6h1.42v0.5h-1.42zM124.45 273.6h1.74v0.5h-1.74zM126.3 274.01h1.44v0.09h-1.44zM127.85 273.83h1.44v0.27h-1.44zM129.41 273.52h1.44v0.58h-1.44zM130.96 273.53h1.44v0.57h-1.44zM132.52 273.9h1.44v0.2h-1.44zM134.07 273.91h1.44v0.19h-1.44zM135.62 273.15h1.44v0.95h-1.44zM137.18 274.03h1.44v0.07h-1.44zM138.73 273.17h1.44v0.93h-1.44zM140.28 273.33h1.44v0.77h-1.44zM141.84 273.53h1.44v0.57h-1.44zM143.39 273.1h1.44v1h-1.44zM144.95 273.42h1.44v0.68h-1.44zM149.8 273.99h1.53v0.11h-1.53zM151.44 273.25h1.53v0.85h-1.53zM153.08 273.67h1.53v0.43h-1.53zM154.72 273.27h1.53v0.83h-1.53zM156.36 273.35h1.53v0.75h-1.53zM163.6 273.5h1.44v0.6h-1.44zM165.15 273.5h1.44v0.6h-1.44zM170 273.6h1.74v0.5h-1.74zM171.85 273.6h1.74v0.5h-1.74zM176.6 273.6h1.64v0.5h-1.64zM178.35 273.6h1.64v0.5h-1.64zM192 273.7h1.25v0.4h-1.25zM193.36 273.7h1.25v0.4h-1.25zM194.72 273.7h1.25v0.4h-1.25zM196.08 273.7h1.25v0.4h-1.25zM197.44 273.7h1.25v0.4h-1.25zM203.8 272.42h1.35v1.68h-1.35zM205.26 272.03h1.35v2.07h-1.35zM206.71 272.43h1.35v1.67h-1.35zM208.17 272.06h1.35v2.04h-1.35zM209.63 272.05h1.35v2.05h-1.35zM211.09 272.5h1.35v1.6h-1.35zM212.54 272.3h1.35v1.8h-1.35zM223.9 273.4h1.45v0.7h-1.45zM225.46 273.4h1.45v0.7h-1.45zM228.57 272.9h1.45v1.2h-1.45zM231.68 273.4h1.45v0.7h-1.45zM233.23 273.4h1.45v0.7h-1.45zM234.79 273.3h1.45v0.8h-1.45zM236.34 273.3h1.45v0.8h-1.45zM241.4 271.93h1.42v2.17h-1.42zM242.93 272.12h1.42v1.98h-1.42zM244.47 272.01h1.42v2.09h-1.42zM246 271.53h1.42v2.57h-1.42zM247.53 272.17h1.42v1.93h-1.42zM249.07 271.43h1.42v2.67h-1.42zM250.6 271.57h1.42v2.53h-1.42zM252.13 271.49h1.42v2.61h-1.42zM253.67 272.01h1.42v2.09h-1.42zM255.2 271.59h1.42v2.51h-1.42zM256.73 272.06h1.42v2.04h-1.42zM258.27 271.47h1.42v2.63h-1.42zM259.8 271.89h1.42v2.21h-1.42zM261.33 271.77h1.42v2.33h-1.42zM262.87 271.96h1.42v2.14h-1.42zM264.4 272.04h1.42v2.06h-1.42zM265.93 271.92h1.42v2.18h-1.42zM267.47 271.68h1.42v2.42h-1.42zM269 272.11h1.42v1.99h-1.42zM270.53 271.95h1.42v2.15h-1.42zM272.07 272.15h1.42v1.95h-1.42zM273.6 272.14h1.42v1.96h-1.42zM275.13 272.06h1.42v2.04h-1.42zM276.67 271.95h1.42v2.15h-1.42zM286.6 271.7h1.49v2.4h-1.49zM288.2 272.6h1.69v1.5h-1.69zM293.2 271.46h1.37v2.64h-1.37zM294.68 271.67h1.37v2.43h-1.37zM296.16 271.87h1.37v2.23h-1.37zM297.64 272.07h1.37v2.03h-1.37zM299.12 271.7h1.37v2.4h-1.37zM300.61 271.97h1.37v2.13h-1.37zM302.09 272.07h1.37v2.03h-1.37zM303.57 271.77h1.37v2.33h-1.37zM305.05 272.04h1.37v2.06h-1.37zM306.53 271.69h1.37v2.41h-1.37zM308.01 271.59h1.37v2.51h-1.37zM309.49 272.19h1.37v1.91h-1.37zM310.97 271.69h1.37v2.41h-1.37zM312.46 272.05h1.37v2.05h-1.37zM313.94 271.93h1.37v2.17h-1.37zM315.42 271.62h1.37v2.48h-1.37zM322 271.43h1.42v2.67h-1.42zM323.53 271.6h1.42v2.5h-1.42zM325.05 271.45h1.42v2.65h-1.42zM326.58 271.67h1.42v2.43h-1.42zM328.11 271.75h1.42v2.35h-1.42zM329.63 271.47h1.42v2.63h-1.42zM331.16 271.76h1.42v2.34h-1.42zM332.68 271.7h1.42v2.4h-1.42zM334.21 271.71h1.42v2.39h-1.42zM335.74 271.6h1.42v2.5h-1.42zM337.26 271.7h1.42v2.4h-1.42zM338.79 271.61h1.42v2.49h-1.42zM340.32 271.56h1.42v2.54h-1.42zM341.84 271.54h1.42v2.56h-1.42zM343.37 271.48h1.42v2.62h-1.42zM344.89 271.65h1.42v2.45h-1.42zM346.42 271.97h1.42v2.13h-1.42zM347.95 271.49h1.42v2.61h-1.42zM349.47 272.03h1.42v2.07h-1.42zM351 262.3h1.29v11.8h-1.29zM352.4 268.7h1.42v5.4h-1.42zM353.93 267.6h1.42v6.5h-1.42zM355.46 265.2h1.42v8.9h-1.42zM357 264.7h1.42v9.4h-1.42zM358.53 252.4h1.42v21.7h-1.42zM360.06 263.5h1.42v10.6h-1.42zM361.59 260.1h1.42v14h-1.42zM363.12 264.1h1.42v10h-1.42zM364.65 270.5h1.42v3.6h-1.42zM366.19 257.7h1.42v16.4h-1.42zM367.72 257.1h1.42v17h-1.42zM369.25 257.1h1.42v17h-1.42zM370.78 246.1h1.42v28h-1.42zM372.31 250.1h1.42v24h-1.42zM373.85 241.4h1.42v32.7h-1.42zM375.38 241.4h1.42v32.7h-1.42zM376.91 256.5h1.42v17.6h-1.42zM378.44 249.1h1.42v25h-1.42zM379.97 228.6h1.42v45.5h-1.42zM381.5 252.4h1.42v21.7h-1.42zM383.04 228.6h1.42v45.5h-1.42zM384.57 252.1h1.42v22h-1.42zM386.1 228.1h1.32v46h-1.32zM387.53 228.1h1.32v46h-1.32zM388.97 228.1h1.32v46h-1.32zM390.4 228.1h1.32v46h-1.32zM391.83 228.1h1.32v46h-1.32zM393.27 228.1h1.32v46h-1.32zM394.7 272.65h1.42v1.45h-1.42zM396.23 273.13h1.42v0.97h-1.42zM397.76 273.05h1.42v1.05h-1.42zM399.29 273.07h1.42v1.03h-1.42zM400.82 272.9h1.42v1.2h-1.42zM402.35 272.97h1.42v1.13h-1.42zM403.88 273.08h1.42v1.02h-1.42zM405.42 273.08h1.42v1.02h-1.42zM406.95 272.81h1.42v1.29h-1.42zM408.48 272.77h1.42v1.33h-1.42zM410.01 272.83h1.42v1.27h-1.42zM411.54 272.96h1.42v1.14h-1.42zM413.07 272.67h1.42v1.43h-1.42zM420 273.3h1.49v0.8h-1.49zM421.6 273.3h1.49v0.8h-1.49z"/><path fill="#ACD1E5" d="M28.5 228.1h1.43v0.45h-1.43zM30.04 228.1h1.43v1.53h-1.43zM31.57 228.1h1.43v1.53h-1.43zM33.11 228.1h1.43v5.22h-1.43zM34.64 228.1h1.43v0.45h-1.43zM36.18 228.1h1.43v0.45h-1.43zM37.71 228.1h1.43v1.89h-1.43zM39.25 228.1h1.43v5.58h-1.43zM40.79 228.1h1.43v0.45h-1.43zM42.32 228.1h1.43v0.45h-1.43zM43.86 228.1h1.43v1.53h-1.43zM45.39 228.1h1.43v0.81h-1.43zM46.93 228.1h1.43v0.81h-1.43zM48.46 228.1h1.43v2.25h-1.43zM50 228.1h1.42v1.1h-1.42zM51.53 228.1h1.42v0.7h-1.42zM53.06 228.1h1.42v0.7h-1.42zM54.59 228.1h1.42v0.7h-1.42zM56.13 228.1h1.42v5.8h-1.42zM57.66 228.1h1.42v5.8h-1.42zM59.19 228.1h1.42v0.2h-1.42zM60.72 228.1h1.42v0.2h-1.42zM62.25 228.1h1.42v2.5h-1.42zM63.78 228.1h1.42v4.8h-1.42zM65.32 228.1h1.42v7.2h-1.42zM66.85 228.1h1.42v6.7h-1.42zM68.38 228.1h1.42v3.5h-1.42zM69.91 228.1h1.42v5.3h-1.42zM71.44 228.1h1.42v5.3h-1.42zM72.97 228.1h1.42v5.3h-1.42zM74.51 228.1h1.42v5.8h-1.42zM74.51 239.9h1.42v3.2h-1.42zM76.04 228.1h1.42v5.8h-1.42zM76.04 239.9h1.42v3.2h-1.42zM77.57 228.1h1.42v6h-1.42zM82.2 228.1h1.89v11.4h-1.89zM82.2 242.8h1.89v3h-1.89zM84.2 228.1h1.49v46h-1.49zM85.8 228.1h1.49v46h-1.49zM87.4 228.1h1.42v6.88h-1.42zM88.93 228.1h1.42v9.21h-1.42zM90.46 228.1h1.42v10.37h-1.42zM91.99 228.1h1.42v11.54h-1.42zM93.52 228.1h1.42v11.54h-1.42zM95.05 228.1h1.42v11.54h-1.42zM96.58 228.1h1.42v12.12h-1.42zM98.11 228.1h1.42v10.96h-1.42zM99.64 228.1h1.42v11.54h-1.42zM101.17 228.1h1.42v10.96h-1.42zM102.7 228.1h1.42v10.37h-1.42zM104.23 228.1h1.42v9.79h-1.42zM105.76 228.1h1.42v10.37h-1.42zM107.29 228.1h1.42v9.79h-1.42zM108.82 228.1h1.42v9.79h-1.42zM110.35 228.1h1.42v9.79h-1.42zM111.88 228.1h1.42v9.79h-1.42zM113.41 228.1h1.42v10.37h-1.42zM114.94 228.1h1.42v8.62h-1.42zM116.47 228.1h1.42v9.21h-1.42zM118 228.1h1.42v21.45h-1.42zM119.53 228.1h1.42v24.94h-1.42zM121.07 228.1h1.42v17.37h-1.42zM122.6 228.1h1.74v46h-1.74zM124.45 228.1h1.74v45.5h-1.74zM126.3 228.1h1.44v21.45h-1.44zM127.85 228.1h1.44v26.69h-1.44zM129.41 228.1h1.44v30.77h-1.44zM130.96 228.1h1.44v26.11h-1.44zM132.52 228.1h1.44v16.78h-1.44zM134.07 228.1h1.44v23.19h-1.44zM135.62 228.1h1.44v14.45h-1.44zM137.18 228.1h1.44v14.45h-1.44zM138.73 228.1h1.44v16.78h-1.44zM140.28 228.1h1.44v19.11h-1.44zM141.84 228.1h1.44v17.95h-1.44zM143.39 228.1h1.44v18.53h-1.44zM144.95 228.1h1.44v19.7h-1.44zM146.5 228.1h1.54v46h-1.54zM148.15 228.1h1.54v46h-1.54zM149.8 228.1h1.53v33.68h-1.53zM151.44 228.1h1.53v28.44h-1.53zM153.08 228.1h1.53v25.52h-1.53zM154.72 228.1h1.53v31.35h-1.53zM156.36 228.1h1.53v26.69h-1.53zM158 228.1h1.29v46h-1.29zM159.4 228.1h1.29v46h-1.29zM160.8 228.1h1.29v46h-1.29zM162.2 228.1h1.29v46h-1.29zM163.6 228.1h1.44v12.1h-1.44zM165.15 228.1h1.44v12.1h-1.44zM170 228.1h1.74v11.5h-1.74zM171.85 228.1h1.74v11h-1.74zM176.6 228.1h1.64v8.6h-1.64zM178.35 228.1h1.64v11h-1.64zM192 228.1h1.25v13.3h-1.25zM193.36 228.1h1.25v11.5h-1.25zM194.72 228.1h1.25v11h-1.25zM196.08 228.1h1.25v11h-1.25zM197.44 228.1h1.25v8.6h-1.25zM203.8 228.1h1.35v5.71h-1.35zM205.26 228.1h1.35v8.04h-1.35zM206.71 228.1h1.35v6.88h-1.35zM208.17 228.1h1.35v5.71h-1.35zM209.63 228.1h1.35v7.46h-1.35zM211.09 228.1h1.35v7.46h-1.35zM212.54 228.1h1.35v7.23h-1.35zM223.9 228.1h1.45v1.6h-1.45zM225.46 228.1h1.45v2.2h-1.45zM230.12 228.1h1.45v2.8h-1.45zM231.68 228.1h1.45v1.6h-1.45zM241.4 228.1h1.42v3.46h-1.42zM242.93 228.1h1.42v2.56h-1.42zM244.47 228.1h1.42v2.42h-1.42zM246 228.1h1.42v3.46h-1.42zM247.53 228.1h1.42v4.94h-1.42zM249.07 228.1h1.42v4.47h-1.42zM250.6 228.1h1.42v4.65h-1.42zM252.13 228.1h1.42v4.48h-1.42zM253.67 228.1h1.42v4.86h-1.42zM255.2 228.1h1.42v2.81h-1.42zM256.73 228.1h1.42v4.32h-1.42zM258.27 228.1h1.42v2.46h-1.42zM259.8 228.1h1.42v4.41h-1.42zM261.33 228.1h1.42v2.99h-1.42zM262.87 228.1h1.42v3.05h-1.42zM264.4 228.1h1.42v4.5h-1.42zM265.93 228.1h1.42v2.29h-1.42zM267.47 228.1h1.42v4.52h-1.42zM269 228.1h1.42v4.72h-1.42zM270.53 228.1h1.42v3.41h-1.42zM272.07 228.1h1.42v3.74h-1.42zM273.6 228.1h1.42v3.13h-1.42zM275.13 228.1h1.42v3.24h-1.42zM276.67 228.1h1.42v2.38h-1.42zM293.2 228.1h1.37v1.63h-1.37zM294.68 228.1h1.37v2.8h-1.37zM296.16 228.1h1.37v2.21h-1.37zM297.64 228.1h1.37v3.38h-1.37zM299.12 228.1h1.37v3.38h-1.37zM300.61 228.1h1.37v3.38h-1.37zM302.09 228.1h1.37v5.13h-1.37zM303.57 228.1h1.37v4.55h-1.37zM305.05 228.1h1.37v3.96h-1.37zM306.53 228.1h1.37v3.38h-1.37zM308.01 228.1h1.37v2.21h-1.37zM309.49 228.1h1.37v1.05h-1.37zM310.97 228.1h1.37v1.05h-1.37zM312.46 228.1h1.37v0.47h-1.37zM313.94 228.1h1.37v0.47h-1.37zM315.42 228.1h1.37v0.47h-1.37zM325.05 228.1h1.42v0.3h-1.42zM326.58 228.1h1.42v0.3h-1.42zM328.11 228.1h1.42v0.5h-1.42zM329.63 228.1h1.42v0.5h-1.42zM331.16 228.1h1.42v0.8h-1.42zM332.68 228.1h1.42v0.8h-1.42zM334.21 228.1h1.42v1.5h-1.42zM335.74 228.1h1.42v1.5h-1.42zM337.26 228.1h1.42v1.5h-1.42zM338.79 228.1h1.42v2h-1.42zM340.32 228.1h1.42v2h-1.42zM341.84 228.1h1.42v2.3h-1.42zM343.37 228.1h1.42v2.3h-1.42zM344.89 228.1h1.42v2h-1.42zM346.42 228.1h1.42v2h-1.42zM347.95 228.1h1.42v1.5h-1.42zM349.47 228.1h1.42v1.5h-1.42zM351 228.1h1.29v1.2h-1.29zM360.06 228.1h1.42v0.5h-1.42zM364.65 228.1h1.42v0.5h-1.42zM367.72 228.1h1.42v1h-1.42zM369.25 228.1h1.42v1h-1.42zM370.78 228.1h1.42v1h-1.42zM372.31 228.1h1.42v1h-1.42zM376.91 228.1h1.42v0.8h-1.42zM381.5 228.1h1.42v0.8h-1.42zM394.7 228.1h1.42v5.34h-1.42zM396.23 228.1h1.42v2.62h-1.42zM397.76 228.1h1.42v4.25h-1.42zM399.29 228.1h1.42v5.89h-1.42zM400.82 228.1h1.42v3.71h-1.42zM402.35 228.1h1.42v4.25h-1.42zM403.88 228.1h1.42v3.16h-1.42zM405.42 228.1h1.42v3.16h-1.42zM406.95 228.1h1.42v2.62h-1.42zM408.48 228.1h1.42v4.25h-1.42zM410.01 228.1h1.42v3.71h-1.42zM411.54 228.1h1.42v5.89h-1.42zM413.07 228.1h1.42v7.52h-1.42zM414.6 228.1h1.59v0.5h-1.59zM420 228.1h1.49v4.8h-1.49zM421.6 228.1h1.49v4.8h-1.49z"/><path fill="#E5292B" d="M28.5 228.55h1.43v0.18h-1.43zM30.04 230.13h1.43v0.61h-1.43zM31.57 230.13h1.43v0.61h-1.43zM33.11 233.82h1.43v1.8h-1.43zM34.64 228.55h1.43v0.18h-1.43zM36.18 228.55h1.43v0.18h-1.43zM37.71 230.49h1.43v0.76h-1.43zM39.25 234.18h1.43v1.8h-1.43zM40.79 228.55h1.43v0.18h-1.43zM42.32 228.55h1.43v0.18h-1.43zM43.86 230.13h1.43v0.61h-1.43zM45.39 228.91h1.43v0.32h-1.43zM46.93 228.91h1.43v0.32h-1.43zM48.46 230.85h1.43v0.9h-1.43zM50 231.5h1.42v0.9h-1.42zM56.13 236.3h1.42v0.5h-1.42zM57.66 236.3h1.42v0.5h-1.42zM59.19 229.7h1.42v1.2h-1.42zM60.72 229.7h1.42v1.2h-1.42zM62.25 233.4h1.42v1.4h-1.42zM63.78 236.2h1.42v1.4h-1.42zM65.32 238.6h1.42v1.4h-1.42zM66.85 238.1h1.42v1.4h-1.42zM69.91 237.2h1.42v1.4h-1.42zM71.44 237.2h1.42v1.4h-1.42zM72.97 236.2h1.42v1.4h-1.42zM74.51 243.1h1.42v3.7h-1.42zM76.04 243.1h1.42v3.7h-1.42zM79.1 228.1h1.44v46h-1.44zM80.65 228.1h1.44v46h-1.44zM82.2 245.8h1.89v1h-1.89zM87.4 239.88h1.42v1.34h-1.42zM88.93 242.23h1.42v1.4h-1.42zM90.46 243.28h1.42v1.13h-1.42zM91.99 245.48h1.42v1.22h-1.42zM93.52 244.54h1.42v1.16h-1.42zM95.05 244.54h1.42v1.75h-1.42zM96.58 245.58h1.42v1.64h-1.42zM98.11 243.98h1.42v1.58h-1.42zM99.64 245.16h1.42v1.97h-1.42zM101.17 244.56h1.42v1.42h-1.42zM102.7 243.95h1.42v1.59h-1.42zM104.23 242.5h1.42v1.7h-1.42zM105.76 243.87h1.42v1.61h-1.42zM107.29 244.21h1.42v1.58h-1.42zM108.82 243.51h1.42v1.42h-1.42zM110.35 243.18h1.42v1.72h-1.42zM111.88 243.75h1.42v2.07h-1.42zM113.41 244.14h1.42v2.03h-1.42zM114.94 242.59h1.42v1.61h-1.42zM116.47 243.13h1.42v1.33h-1.42zM118 256.75h1.42v1.5h-1.42zM119.53 259.34h1.42v1.5h-1.42zM121.07 251.27h1.42v1.5h-1.42zM126.3 254.21h1.44v2.91h-1.44zM127.85 261.2h1.44v2.91h-1.44zM129.41 265.28h1.44v2.33h-1.44zM130.96 260.62h1.44v2.91h-1.44zM132.52 251.25h1.44v3.2h-1.44zM134.07 258.52h1.44v4.43h-1.44zM135.62 249.5h1.44v3.54h-1.44zM137.18 249.5h1.44v3.54h-1.44zM138.73 250.71h1.44v2.91h-1.44zM140.28 253.04h1.44v4.08h-1.44zM141.84 252.46h1.44v2.33h-1.44zM143.39 251.29h1.44v5.24h-1.44zM144.95 254.24h1.44v0.9h-1.44zM149.8 265.28h1.53v2.33h-1.53zM151.44 262.37h1.53v1.4h-1.53zM153.08 258.29h1.53v1.75h-1.53zM154.72 263.53h1.53v3.5h-1.53zM156.36 258.29h1.53v2.33h-1.53zM163.6 250.7h1.44v3h-1.44zM165.15 250.7h1.44v3h-1.44zM166.7 228.1h1.54v46h-1.54zM168.35 228.1h1.54v46h-1.54zM170 249.5h1.74v7h-1.74zM171.85 251h1.74v2.6h-1.74zM176.6 249.7h1.64v5.5h-1.64zM178.35 250.4h1.64v3h-1.64zM192 255.4h1.25v1.8h-1.25zM193.36 258.1h1.25v1.8h-1.25zM194.72 254.9h1.25v1.8h-1.25zM196.08 254.9h1.25v1.8h-1.25zM203.8 247.69h1.35v1.6h-1.35zM205.26 249.89h1.35v1.2h-1.35zM206.71 245.6h1.35v1.2h-1.35zM208.17 246.65h1.35v1.2h-1.35zM209.63 248.23h1.35v0.7h-1.35zM211.09 247.89h1.35v0.7h-1.35zM212.54 248.23h1.35v0.7h-1.35zM223.9 257.94h1.45v1.2h-1.45zM225.46 258.4h1.45v1.2h-1.45zM228.57 256.31h1.45v1.2h-1.45zM241.4 241.39h1.42v0.78h-1.42zM242.93 246.63h1.42v1.08h-1.42zM244.47 241.39h1.42v0.88h-1.42zM246 240.22h1.42v0.83h-1.42zM247.53 240.22h1.42v1.09h-1.42zM249.07 239.06h1.42v1.01h-1.42zM250.6 239.64h1.42v0.82h-1.42zM252.13 240.8h1.42v1.08h-1.42zM253.67 243.13h1.42v0.76h-1.42zM255.2 243.72h1.42v0.99h-1.42zM256.73 244.3h1.42v1.24h-1.42zM258.27 244.88h1.42v1.02h-1.42zM259.8 244.88h1.42v0.89h-1.42zM261.33 246.05h1.42v0.85h-1.42zM262.87 247.21h1.42v1.18h-1.42zM264.4 242.55h1.42v1.26h-1.42zM265.93 248.38h1.42v1.19h-1.42zM267.47 251.29h1.42v0.87h-1.42zM269 245.47h1.42v0.95h-1.42zM270.53 239.06h1.42v0.85h-1.42zM272.07 239.48h1.42v1.29h-1.42zM273.6 244.88h1.42v0.78h-1.42zM275.13 246.05h1.42v1.05h-1.42zM276.67 246.63h1.42v1.22h-1.42zM283.8 269.3h1.29v1.2h-1.29zM294.68 253.62h1.37v1.7h-1.37zM296.16 246.05h1.37v2.3h-1.37zM300.61 256.54h1.37v1.7h-1.37zM306.53 247.8h1.37v1.2h-1.37zM322 241.39h1.42v0.45h-1.42zM323.53 241.39h1.42v0.48h-1.42zM325.05 243.13h1.42v0.34h-1.42zM326.58 243.13h1.42v0.27h-1.42zM328.11 241.97h1.42v0.79h-1.42zM329.63 241.97h1.42v0.81h-1.42zM331.16 242.55h1.42v0.52h-1.42zM332.68 242.55h1.42v0.72h-1.42zM334.21 243.13h1.42v0.77h-1.42zM335.74 243.13h1.42v0.95h-1.42zM337.26 243.13h1.42v0.9h-1.42zM338.79 245.47h1.42v0.5h-1.42zM340.32 245.47h1.42v0.49h-1.42zM341.84 246.05h1.42v0.9h-1.42zM343.37 246.05h1.42v0.93h-1.42zM344.89 246.63h1.42v0.6h-1.42zM346.42 246.63h1.42v0.71h-1.42zM347.95 247.21h1.42v0.49h-1.42zM349.47 247.21h1.42v0.81h-1.42zM394.7 244.35h1.42v0.71h-1.42zM396.23 243.26h1.42v1.27h-1.42zM397.76 245.98h1.42v0.64h-1.42zM399.29 244.35h1.42v1.21h-1.42zM400.82 247.07h1.42v0.89h-1.42zM402.35 243.8h1.42v0.6h-1.42zM403.88 243.26h1.42v1.13h-1.42zM405.42 243.26h1.42v1.39h-1.42zM406.95 244.35h1.42v1.23h-1.42zM408.48 246.53h1.42v1.05h-1.42zM410.01 244.89h1.42v0.94h-1.42zM411.54 248.17h1.42v0.89h-1.42zM413.07 249.8h1.42v0.69h-1.42zM420 246.6h1.49v1.2h-1.49zM421.6 246.6h1.49v1.2h-1.49z"/><path fill="#FDC378" d="M28.5 228.73h1.43v0.37h-1.43zM30.04 230.74h1.43v0.76h-1.43zM31.57 230.74h1.43v0.76h-1.43zM33.11 235.62h1.43v4.08h-1.43zM34.64 228.73h1.43v0.37h-1.43zM36.18 228.73h1.43v0.37h-1.43zM37.71 231.25h1.43v1.05h-1.43zM39.25 235.98h1.43v4.52h-1.43zM40.79 228.73h1.43v0.37h-1.43zM42.32 228.73h1.43v0.37h-1.43zM43.86 230.74h1.43v0.76h-1.43zM45.39 229.23h1.43v0.67h-1.43zM46.93 229.23h1.43v0.67h-1.43zM48.46 231.75h1.43v1.35h-1.43zM50 230.1h1.42v1.4h-1.42zM50 232.4h1.42v1.9h-1.42zM56.13 236.8h1.42v5.5h-1.42zM57.66 236.8h1.42v5.5h-1.42zM59.19 230.9h1.42v1.6h-1.42zM60.72 230.9h1.42v1.6h-1.42zM62.25 234.8h1.42v1.9h-1.42zM63.78 237.6h1.42v2.8h-1.42zM65.32 240h1.42v2.8h-1.42zM66.85 239.5h1.42v2.8h-1.42zM69.91 238.6h1.42v3.2h-1.42zM71.44 238.6h1.42v3.2h-1.42zM72.97 237.6h1.42v3.2h-1.42zM74.51 246.8h1.42v3.7h-1.42zM76.04 246.8h1.42v3.7h-1.42zM82.2 246.8h1.89v4.7h-1.89zM87.4 241.22h1.42v8.32h-1.42zM88.93 243.64h1.42v6.49h-1.42zM90.46 244.42h1.42v12.12h-1.42zM91.99 246.71h1.42v7.5h-1.42zM93.52 245.69h1.42v6.77h-1.42zM95.05 246.29h1.42v6.17h-1.42zM96.58 247.21h1.42v9.91h-1.42zM98.11 245.56h1.42v6.9h-1.42zM99.64 247.14h1.42v6.49h-1.42zM101.17 245.98h1.42v7.07h-1.42zM102.7 245.54h1.42v6.92h-1.42zM104.23 244.2h1.42v7.09h-1.42zM105.76 245.47h1.42v6.99h-1.42zM107.29 245.79h1.42v6.67h-1.42zM108.82 244.93h1.42v9.27h-1.42zM110.35 244.9h1.42v9.3h-1.42zM111.88 245.81h1.42v6.65h-1.42zM113.41 246.17h1.42v5.13h-1.42zM114.94 244.21h1.42v7.67h-1.42zM116.47 244.46h1.42v3.92h-1.42zM118 258.25h1.42v7.62h-1.42zM119.53 260.84h1.42v4.44h-1.42zM121.07 252.77h1.42v9.6h-1.42zM126.3 257.12h1.44v4.66h-1.44zM127.85 264.11h1.44v2.91h-1.44zM129.41 267.61h1.44v2.33h-1.44zM130.96 263.53h1.44v1.98h-1.44zM132.52 254.44h1.44v4.43h-1.44zM134.07 262.95h1.44v4.66h-1.44zM135.62 253.04h1.44v6.99h-1.44zM137.18 253.04h1.44v6.99h-1.44zM138.73 253.62h1.44v6.41h-1.44zM140.28 257.12h1.44v7.58h-1.44zM141.84 254.79h1.44v5.24h-1.44zM143.39 256.54h1.44v6.41h-1.44zM144.95 255.14h1.44v7.23h-1.44zM149.8 267.61h1.53v5.24h-1.53zM151.44 263.76h1.53v6.18h-1.53zM153.08 260.03h1.53v6.99h-1.53zM154.72 267.03h1.53v3.85h-1.53zM156.36 260.62h1.53v6.99h-1.53zM163.6 253.7h1.44v8h-1.44zM165.15 253.7h1.44v8h-1.44zM170 256.5h1.74v10.5h-1.74zM171.85 253.6h1.74v11.6h-1.74zM176.6 255.2h1.64v10h-1.64zM178.35 253.4h1.64v11h-1.64zM192 257.2h1.25v7h-1.25zM193.36 259.9h1.25v8.2h-1.25zM194.72 256.7h1.25v7.6h-1.25zM196.08 256.7h1.25v7.6h-1.25zM197.44 248.7h1.25v23h-1.25zM203.8 249.29h1.35v18.35h-1.35zM205.26 251.09h1.35v14.8h-1.35zM206.71 246.8h1.35v19.7h-1.35zM208.17 247.85h1.35v17.34h-1.35zM209.63 248.93h1.35v17.06h-1.35zM211.09 248.59h1.35v17.34h-1.35zM212.54 248.93h1.35v18.2h-1.35zM223.9 259.14h1.45v12.56h-1.45zM225.46 259.6h1.45v12.1h-1.45zM228.57 257.51h1.45v3.59h-1.45zM230.12 260.03h1.45v10.87h-1.45zM231.68 258.87h1.45v12.83h-1.45zM233.23 256.54h1.45v15.66h-1.45zM234.79 256.54h1.45v11.96h-1.45zM236.34 256.54h1.45v11.96h-1.45zM241.4 242.16h1.42v17.44h-1.42zM242.93 247.71h1.42v16.61h-1.42zM244.47 242.27h1.42v24.14h-1.42zM246 241.06h1.42v13.11h-1.42zM247.53 241.31h1.42v12.73h-1.42zM249.07 240.07h1.42v18.5h-1.42zM250.6 240.46h1.42v19.23h-1.42zM252.13 241.88h1.42v18.36h-1.42zM253.67 243.89h1.42v17.32h-1.42zM255.2 244.7h1.42v17.5h-1.42zM256.73 245.54h1.42v15.28h-1.42zM258.27 245.9h1.42v18.89h-1.42zM259.8 245.77h1.42v19h-1.42zM261.33 246.9h1.42v16.74h-1.42zM262.87 248.4h1.42v15.58h-1.42zM264.4 243.81h1.42v19.32h-1.42zM265.93 249.57h1.42v6.25h-1.42zM267.47 252.17h1.42v16.07h-1.42zM269 246.42h1.42v18.78h-1.42zM270.53 239.9h1.42v11.21h-1.42zM272.07 240.77h1.42v11.07h-1.42zM273.6 245.66h1.42v22.15h-1.42zM275.13 247.1h1.42v17.49h-1.42zM276.67 247.85h1.42v16.33h-1.42zM283.8 270.5h1.29v3.6h-1.29zM286.6 263.5h1.49v4.7h-1.49zM288.2 267.6h1.69v5h-1.69zM293.2 253.04h1.37v16.28h-1.37zM294.68 255.32h1.37v13.41h-1.37zM296.16 248.35h1.37v17.48h-1.37zM297.64 253.04h1.37v13.95h-1.37zM299.12 253.04h1.37v13.95h-1.37zM300.61 258.24h1.37v12.83h-1.37zM302.09 250.13h1.37v16.28h-1.37zM303.57 246.63h1.37v20.36h-1.37zM305.05 250.13h1.37v20.36h-1.37zM306.53 249h1.37v21.49h-1.37zM308.01 244.3h1.37v26.19h-1.37zM309.49 242.55h1.37v28.52h-1.37zM310.97 242.55h1.37v28.52h-1.37zM312.46 241.39h1.37v29.68h-1.37zM313.94 239.06h1.37v30.27h-1.37zM315.42 240.22h1.37v29.68h-1.37zM316.9 228.1h1.59v46h-1.59zM318.6 228.1h1.59v46h-1.59zM320.3 228.1h1.59v46h-1.59zM322 241.84h1.42v29.09h-1.42zM323.53 241.86h1.42v29.23h-1.42zM325.05 243.47h1.42v25.47h-1.42zM326.58 243.4h1.42v25.77h-1.42zM328.11 242.76h1.42v24.49h-1.42zM329.63 242.78h1.42v24.19h-1.42zM331.16 243.07h1.42v28.19h-1.42zM332.68 243.27h1.42v27.93h-1.42zM334.21 243.91h1.42v27.3h-1.42zM335.74 244.08h1.42v27.02h-1.42zM337.26 244.04h1.42v27.17h-1.42zM338.79 245.97h1.42v24.14h-1.42zM340.32 245.96h1.42v24.1h-1.42zM341.84 246.95h1.42v22.59h-1.42zM343.37 246.98h1.42v22.51h-1.42zM344.89 247.23h1.42v22.92h-1.42zM346.42 247.34h1.42v23.13h-1.42zM347.95 247.7h1.42v22.58h-1.42zM349.47 248.02h1.42v22.81h-1.42zM351 241.3h1.29v15.2h-1.29zM352.4 228.1h1.42v40.6h-1.42zM353.93 228.1h1.42v39.5h-1.42zM355.46 228.1h1.42v37.1h-1.42zM357 228.1h1.42v36.6h-1.42zM358.53 228.1h1.42v24.3h-1.42zM360.06 233.8h1.42v29.7h-1.42zM361.59 228.1h1.42v32h-1.42zM363.12 228.1h1.42v36h-1.42zM364.65 229.8h1.42v40.7h-1.42zM366.19 228.1h1.42v29.6h-1.42zM367.72 233.8h1.42v21.6h-1.42zM369.25 233.8h1.42v21.6h-1.42zM370.78 230.3h1.42v15.8h-1.42zM372.31 230.3h1.42v19.8h-1.42zM373.85 228.1h1.42v13.3h-1.42zM375.38 228.1h1.42v13.3h-1.42zM376.91 232.9h1.42v17.2h-1.42zM378.44 228.1h1.42v21h-1.42zM379.97 228.1h1.42v0.5h-1.42zM381.5 233.6h1.42v18.8h-1.42zM383.04 228.1h1.42v0.5h-1.42zM384.57 230.6h1.42v21.5h-1.42zM394.7 245.06h1.42v14.54h-1.42zM396.23 244.52h1.42v20.52h-1.42zM397.76 246.62h1.42v21.7h-1.42zM399.29 245.56h1.42v13.5h-1.42zM400.82 247.96h1.42v18.72h-1.42zM402.35 244.4h1.42v20.64h-1.42zM403.88 244.38h1.42v16.3h-1.42zM405.42 244.65h1.42v16.04h-1.42zM406.95 245.58h1.42v18.93h-1.42zM408.48 247.58h1.42v16.38h-1.42zM410.01 245.84h1.42v15.94h-1.42zM411.54 249.06h1.42v18.17h-1.42zM413.07 250.49h1.42v21.1h-1.42zM414.6 257.6h1.59v15.3h-1.59zM420 247.8h1.49v22h-1.49zM421.6 247.8h1.49v22h-1.49z"/><path fill="#CDB7D9" d="M28.5 229.1h1.43v44.23h-1.43zM30.04 231.5h1.43v41.77h-1.43zM31.57 231.5h1.43v41.58h-1.43zM33.11 239.7h1.43v33.92h-1.43zM34.64 229.1h1.43v44.15h-1.43zM36.18 229.1h1.43v43.91h-1.43zM37.71 232.3h1.43v40.69h-1.43zM39.25 240.5h1.43v33.21h-1.43zM40.79 229.1h1.43v44.15h-1.43zM42.32 229.1h1.43v44.18h-1.43zM43.86 231.5h1.43v41.9h-1.43zM45.39 229.9h1.43v43.03h-1.43zM46.93 229.9h1.43v43.47h-1.43zM48.46 233.1h1.43v40.35h-1.43zM50 234.3h1.42v38.66h-1.42zM51.53 228.8h1.42v44.46h-1.42zM53.06 228.8h1.42v44.8h-1.42zM54.59 228.8h1.42v44.79h-1.42zM56.13 242.3h1.42v31.1h-1.42zM57.66 242.3h1.42v31.55h-1.42zM59.19 232.5h1.42v40.79h-1.42zM60.72 232.5h1.42v40.66h-1.42zM62.25 236.7h1.42v36.77h-1.42zM63.78 240.4h1.42v32.65h-1.42zM65.32 242.8h1.42v30.17h-1.42zM66.85 242.3h1.42v31.04h-1.42zM68.38 231.6h1.42v41.62h-1.42zM69.91 241.8h1.42v31.98h-1.42zM71.44 241.8h1.42v32.04h-1.42zM72.97 240.8h1.42v32.12h-1.42zM74.51 250.5h1.42v23.12h-1.42zM76.04 250.5h1.42v23.19h-1.42zM77.57 235.1h1.42v37.9h-1.42zM82.2 251.5h1.89v22h-1.89zM87.4 249.55h1.42v23.7h-1.42zM88.93 250.13h1.42v23.6h-1.42zM90.46 256.54h1.42v17.07h-1.42zM91.99 254.21h1.42v18.92h-1.42zM93.52 252.46h1.42v21.39h-1.42zM95.05 252.46h1.42v21.27h-1.42zM96.58 257.12h1.42v16.42h-1.42zM98.11 252.46h1.42v20.76h-1.42zM99.64 253.62h1.42v20h-1.42zM101.17 253.04h1.42v20.94h-1.42zM102.7 252.46h1.42v20.65h-1.42zM104.23 251.29h1.42v22.09h-1.42zM105.76 252.46h1.42v20.81h-1.42zM107.29 252.46h1.42v21.28h-1.42zM108.82 254.21h1.42v19.77h-1.42zM110.35 254.21h1.42v19.69h-1.42zM111.88 252.46h1.42v21.25h-1.42zM113.41 251.29h1.42v21.88h-1.42zM114.94 251.88h1.42v21.25h-1.42zM116.47 248.38h1.42v24.77h-1.42zM118 265.86h1.42v7.74h-1.42zM119.53 265.28h1.42v8.32h-1.42zM121.07 262.37h1.42v11.23h-1.42zM126.3 261.78h1.44v12.22h-1.44zM127.85 267.03h1.44v6.8h-1.44zM129.41 269.94h1.44v3.58h-1.44zM130.96 265.51h1.44v8.01h-1.44zM132.52 258.87h1.44v15.03h-1.44zM134.07 267.61h1.44v6.3h-1.44zM135.62 260.03h1.44v13.12h-1.44zM137.18 260.03h1.44v13.99h-1.44zM138.73 260.03h1.44v13.14h-1.44zM140.28 264.7h1.44v8.63h-1.44zM141.84 260.03h1.44v13.49h-1.44zM143.39 262.95h1.44v10.16h-1.44zM144.95 262.37h1.44v11.05h-1.44zM149.8 272.86h1.53v1.14h-1.53zM151.44 269.94h1.53v3.31h-1.53zM153.08 267.03h1.53v6.64h-1.53zM154.72 270.87h1.53v2.39h-1.53zM156.36 267.61h1.53v5.74h-1.53zM163.6 262.9h1.44v10.6h-1.44zM165.15 262.9h1.44v10.6h-1.44zM170 268.2h1.74v5.4h-1.74zM171.85 265.6h1.74v8h-1.74zM176.6 266.4h1.64v7.2h-1.64zM178.35 264.9h1.64v8.7h-1.64zM192 264.2h1.25v9.5h-1.25zM193.36 268.1h1.25v5.6h-1.25zM194.72 264.3h1.25v9.4h-1.25zM196.08 264.3h1.25v9.4h-1.25zM197.44 271.7h1.25v2h-1.25zM203.8 267.85h1.35v4.56h-1.35zM205.26 266.27h1.35v5.77h-1.35zM206.71 267.35h1.35v5.09h-1.35zM208.17 266.17h1.35v5.89h-1.35zM209.63 266.21h1.35v5.84h-1.35zM211.09 266.62h1.35v5.88h-1.35zM212.54 267.6h1.35v4.71h-1.35zM223.9 271.7h1.45v1.7h-1.45zM225.46 271.7h1.45v1.7h-1.45zM228.57 261.1h1.45v11.8h-1.45zM230.12 271.6h1.45v2.5h-1.45zM231.68 272.2h1.45v1.2h-1.45zM233.23 272.2h1.45v1.2h-1.45zM234.79 268.5h1.45v4.8h-1.45zM236.34 268.5h1.45v4.8h-1.45zM241.4 260h1.42v11.93h-1.42zM242.93 264.66h1.42v7.46h-1.42zM244.47 266.41h1.42v5.6h-1.42zM246 254.17h1.42v17.36h-1.42zM247.53 254.17h1.42v18h-1.42zM249.07 258.83h1.42v12.6h-1.42zM250.6 260h1.42v11.57h-1.42zM252.13 260.58h1.42v10.91h-1.42zM253.67 261.75h1.42v10.27h-1.42zM255.2 262.33h1.42v9.26h-1.42zM256.73 261.16h1.42v10.9h-1.42zM258.27 265.24h1.42v6.22h-1.42zM259.8 265.24h1.42v6.65h-1.42zM261.33 264.08h1.42v7.69h-1.42zM262.87 264.66h1.42v7.3h-1.42zM264.4 263.49h1.42v8.55h-1.42zM265.93 255.92h1.42v16h-1.42zM267.47 268.74h1.42v2.94h-1.42zM269 265.82h1.42v6.28h-1.42zM270.53 251.84h1.42v20.11h-1.42zM272.07 251.84h1.42v20.31h-1.42zM273.6 268.16h1.42v3.98h-1.42zM275.13 265.24h1.42v6.82h-1.42zM276.67 264.66h1.42v7.29h-1.42zM286.6 268.2h1.49v3.5h-1.49zM293.2 269.32h1.37v2.14h-1.37zM294.68 268.74h1.37v2.94h-1.37zM296.16 265.82h1.37v6.05h-1.37zM297.64 266.99h1.37v5.08h-1.37zM299.12 266.99h1.37v4.71h-1.37zM300.61 271.07h1.37v0.9h-1.37zM302.09 266.41h1.37v5.66h-1.37zM303.57 266.99h1.37v4.78h-1.37zM305.05 270.49h1.37v1.55h-1.37zM306.53 270.49h1.37v1.2h-1.37zM308.01 270.49h1.37v1.11h-1.37zM309.49 271.07h1.37v1.12h-1.37zM310.97 271.07h1.37v0.62h-1.37zM312.46 271.07h1.37v0.98h-1.37zM313.94 269.32h1.37v2.61h-1.37zM315.42 269.9h1.37v1.72h-1.37zM322 270.93h1.42v0.5h-1.42zM323.53 271.1h1.42v0.5h-1.42zM325.05 268.95h1.42v2.5h-1.42zM326.58 269.17h1.42v2.5h-1.42zM328.11 267.25h1.42v4.5h-1.42zM329.63 266.97h1.42v4.5h-1.42zM331.16 271.26h1.42v0.5h-1.42zM332.68 271.2h1.42v0.5h-1.42zM334.21 271.21h1.42v0.5h-1.42zM335.74 271.1h1.42v0.5h-1.42zM337.26 271.2h1.42v0.5h-1.42zM338.79 270.11h1.42v1.5h-1.42zM340.32 270.06h1.42v1.5h-1.42zM341.84 269.54h1.42v2h-1.42zM343.37 269.48h1.42v2h-1.42zM344.89 270.15h1.42v1.5h-1.42zM346.42 270.47h1.42v1.5h-1.42zM347.95 270.29h1.42v1.2h-1.42zM349.47 270.83h1.42v1.2h-1.42zM351 256.5h1.29v5.8h-1.29zM367.72 255.4h1.42v1.7h-1.42zM369.25 255.4h1.42v1.7h-1.42zM376.91 250.1h1.42v6.4h-1.42zM394.7 259.6h1.42v13.06h-1.42zM396.23 265.05h1.42v8.08h-1.42zM397.76 268.32h1.42v4.73h-1.42zM399.29 259.05h1.42v14.02h-1.42zM400.82 266.68h1.42v6.22h-1.42zM402.35 265.05h1.42v7.92h-1.42zM403.88 260.69h1.42v12.39h-1.42zM405.42 260.69h1.42v12.4h-1.42zM406.95 264.5h1.42v8.31h-1.42zM408.48 263.96h1.42v8.81h-1.42zM410.01 261.78h1.42v11.05h-1.42zM411.54 267.23h1.42v5.73h-1.42zM413.07 271.59h1.42v1.08h-1.42zM414.6 272.9h1.59v1.2h-1.59zM420 269.8h1.49v3.5h-1.49zM421.6 269.8h1.49v3.5h-1.49z"/><path fill="#40A63A" d="M30.04 229.63h1.43v0.5h-1.43zM31.57 229.63h1.43v0.5h-1.43zM33.11 233.32h1.43v0.5h-1.43zM37.71 229.99h1.43v0.5h-1.43zM39.25 233.68h1.43v0.5h-1.43zM43.86 229.63h1.43v0.5h-1.43zM48.46 230.35h1.43v0.5h-1.43zM50 229.2h1.42v0.9h-1.42zM56.13 235.3h1.42v1h-1.42zM57.66 235.3h1.42v1h-1.42zM63.78 234.3h1.42v1.9h-1.42zM65.32 236.7h1.42v1.9h-1.42zM66.85 236.2h1.42v1.9h-1.42zM69.91 234.8h1.42v1.4h-1.42zM71.44 234.8h1.42v1.4h-1.42zM72.97 234.8h1.42v1.4h-1.42zM87.4 239.12h1.42v0.76h-1.42zM88.93 241.32h1.42v0.92h-1.42zM90.46 242.7h1.42v0.59h-1.42zM91.99 244.54h1.42v0.95h-1.42zM93.52 243.78h1.42v0.75h-1.42zM95.05 243.88h1.42v0.65h-1.42zM96.58 244.79h1.42v0.79h-1.42zM98.11 243.43h1.42v0.56h-1.42zM99.64 244.58h1.42v0.59h-1.42zM101.17 243.71h1.42v0.85h-1.42zM102.7 243.32h1.42v0.63h-1.42zM104.23 241.93h1.42v0.57h-1.42zM105.76 243.03h1.42v0.84h-1.42zM107.29 242.94h1.42v1.27h-1.42zM108.82 242.37h1.42v1.14h-1.42zM110.35 242.11h1.42v1.07h-1.42zM111.88 242.64h1.42v1.11h-1.42zM113.41 242.99h1.42v1.15h-1.42zM114.94 241.63h1.42v0.97h-1.42zM116.47 242.06h1.42v1.08h-1.42zM118 255.95h1.42v0.8h-1.42zM119.53 258.54h1.42v0.8h-1.42zM121.07 250.47h1.42v0.8h-1.42zM132.52 249.55h1.44v1.7h-1.44zM134.07 257.12h1.44v1.4h-1.44zM135.62 247.8h1.44v1.7h-1.44zM137.18 247.8h1.44v1.7h-1.44zM144.95 253.04h1.44v1.2h-1.44zM163.6 248.4h1.44v2.3h-1.44zM165.15 248.4h1.44v2.3h-1.44zM170 247.7h1.74v1.8h-1.74zM171.85 248.4h1.74v2.6h-1.74zM176.6 247.7h1.64v2h-1.64zM178.35 248.4h1.64v2h-1.64zM183.9 228.1h1.56v46h-1.56zM185.57 228.1h1.56v46h-1.56zM187.23 228.1h1.56v46h-1.56zM188.9 253.6h1.44v20.5h-1.44zM190.45 253.6h1.44v20.5h-1.44zM193.36 252.9h1.25v5.2h-1.25zM194.72 253.1h1.25v1.8h-1.25zM196.08 253.1h1.25v1.8h-1.25zM197.44 247.2h1.25v1.5h-1.25zM203.8 242.49h1.35v0.5h-1.35zM205.26 244.19h1.35v0.5h-1.35zM206.71 243.1h1.35v0.7h-1.35zM208.17 244.05h1.35v0.3h-1.35zM209.63 244.93h1.35v0.3h-1.35zM211.09 244.59h1.35v0.3h-1.35zM212.54 244.93h1.35v0.3h-1.35zM230.12 240.2h1.45v1.8h-1.45zM241.4 236.94h1.42v0.2h-1.42zM242.93 238.04h1.42v0.46h-1.42zM244.47 236.56h1.42v0.25h-1.42zM246 237.61h1.42v0.72h-1.42zM247.53 238.81h1.42v0.97h-1.42zM249.07 237.75h1.42v0.79h-1.42zM250.6 238.49h1.42v0.19h-1.42zM252.13 238.93h1.42v0.91h-1.42zM253.67 240.22h1.42v0.4h-1.42zM255.2 235.99h1.42v0.38h-1.42zM256.73 237.62h1.42v0.52h-1.42zM258.27 238.64h1.42v0.9h-1.42zM259.8 240.29h1.42v0.51h-1.42zM261.33 238.09h1.42v0.24h-1.42zM262.87 239.05h1.42v0.88h-1.42zM264.4 238.72h1.42v0.87h-1.42zM265.93 236.6h1.42v0.28h-1.42zM267.47 238.98h1.42v0.35h-1.42zM269 238.56h1.42v0.06h-1.42zM270.53 237.97h1.42v0.25h-1.42zM272.07 239.22h1.42v0.26h-1.42zM273.6 237.62h1.42v0.72h-1.42zM275.13 237.22h1.42v0.33h-1.42zM276.67 237.26h1.42v0.32h-1.42zM293.2 244.3h1.37v1.2h-1.37zM294.68 250.13h1.37v1.2h-1.37zM296.16 242.55h1.37v1.2h-1.37zM300.61 252.46h1.37v1.2h-1.37zM303.57 241.97h1.37v1.2h-1.37z"/><path fill="#2E81B9" d="M56.13 233.9h1.42v1.4h-1.42zM57.66 233.9h1.42v1.4h-1.42zM59.19 228.3h1.42v1.4h-1.42zM60.72 228.3h1.42v1.4h-1.42zM62.25 230.6h1.42v1.4h-1.42zM63.78 232.9h1.42v1.4h-1.42zM65.32 235.3h1.42v1.4h-1.42zM66.85 234.8h1.42v1.4h-1.42zM69.91 233.4h1.42v1.4h-1.42zM71.44 233.4h1.42v1.4h-1.42zM72.97 233.4h1.42v1.4h-1.42zM74.51 233.9h1.42v6h-1.42zM76.04 233.9h1.42v6h-1.42zM77.57 234.1h1.42v1h-1.42zM82.2 239.5h1.89v3.3h-1.89zM87.4 234.98h1.42v4.15h-1.42zM88.93 237.31h1.42v4.01h-1.42zM90.46 238.47h1.42v4.22h-1.42zM91.99 239.64h1.42v4.9h-1.42zM93.52 239.64h1.42v4.14h-1.42zM95.05 239.64h1.42v4.24h-1.42zM96.58 240.22h1.42v4.57h-1.42zM98.11 239.06h1.42v4.37h-1.42zM99.64 239.64h1.42v4.94h-1.42zM101.17 239.06h1.42v4.65h-1.42zM102.7 238.47h1.42v4.84h-1.42zM104.23 237.89h1.42v4.04h-1.42zM105.76 238.47h1.42v4.56h-1.42zM107.29 237.89h1.42v5.05h-1.42zM108.82 237.89h1.42v4.48h-1.42zM110.35 237.89h1.42v4.22h-1.42zM111.88 237.89h1.42v4.75h-1.42zM113.41 238.47h1.42v4.52h-1.42zM114.94 236.72h1.42v4.9h-1.42zM116.47 237.31h1.42v4.75h-1.42zM118 249.55h1.42v6.4h-1.42zM119.53 253.04h1.42v5.5h-1.42zM121.07 245.47h1.42v5h-1.42zM126.3 249.55h1.44v4.66h-1.44zM127.85 254.79h1.44v6.41h-1.44zM129.41 258.87h1.44v6.41h-1.44zM130.96 254.21h1.44v6.41h-1.44zM132.52 244.88h1.44v4.66h-1.44zM134.07 251.29h1.44v5.83h-1.44zM135.62 242.55h1.44v5.24h-1.44zM137.18 242.55h1.44v5.24h-1.44zM138.73 244.88h1.44v5.83h-1.44zM140.28 247.21h1.44v5.83h-1.44zM141.84 246.05h1.44v6.41h-1.44zM143.39 246.63h1.44v4.66h-1.44zM144.95 247.8h1.44v5.24h-1.44zM149.8 261.78h1.53v3.5h-1.53zM151.44 256.54h1.53v5.83h-1.53zM153.08 253.62h1.53v4.66h-1.53zM154.72 259.45h1.53v4.08h-1.53zM156.36 254.79h1.53v3.5h-1.53zM163.6 240.2h1.44v8.2h-1.44zM165.15 240.2h1.44v8.2h-1.44zM170 239.6h1.74v6.4h-1.74zM171.85 239.1h1.74v9.3h-1.74zM173.7 228.1h1.34v46h-1.34zM175.15 228.1h1.34v46h-1.34zM176.6 236.7h1.64v11h-1.64zM178.35 239.1h1.64v9.3h-1.64zM180.1 228.1h1.16v46h-1.16zM181.37 228.1h1.16v46h-1.16zM182.63 228.1h1.16v46h-1.16zM188.9 228.1h1.44v25.5h-1.44zM190.45 228.1h1.44v25.5h-1.44zM192 241.4h1.25v14h-1.25zM193.36 239.6h1.25v11.6h-1.25zM194.72 239.1h1.25v14h-1.25zM196.08 239.1h1.25v14h-1.25zM197.44 236.7h1.25v10.5h-1.25zM203.8 233.81h1.35v5.48h-1.35zM205.26 236.14h1.35v5.24h-1.35zM206.71 234.98h1.35v5.83h-1.35zM208.17 233.81h1.35v8.74h-1.35zM209.63 235.56h1.35v7.58h-1.35zM211.09 235.56h1.35v7.23h-1.35zM212.54 235.33h1.35v7.81h-1.35zM223.9 229.7h1.45v3h-1.45zM225.46 230.3h1.45v3.5h-1.45zM230.12 230.9h1.45v9.3h-1.45zM231.68 229.7h1.45v4.7h-1.45zM241.4 231.56h1.42v4.09h-1.42zM242.93 230.66h1.42v5.52h-1.42zM244.47 230.52h1.42v4.41h-1.42zM246 231.56h1.42v4.52h-1.42zM247.53 233.04h1.42v4.43h-1.42zM249.07 232.57h1.42v3.7h-1.42zM250.6 232.75h1.42v3.79h-1.42zM252.13 232.58h1.42v4.28h-1.42zM253.67 232.96h1.42v5.52h-1.42zM255.2 230.91h1.42v3.68h-1.42zM256.73 232.42h1.42v3.83h-1.42zM258.27 230.56h1.42v5.7h-1.42zM259.8 232.51h1.42v5.99h-1.42zM261.33 231.09h1.42v4.7h-1.42zM262.87 231.15h1.42v5.58h-1.42zM264.4 232.6h1.42v4.19h-1.42zM265.93 230.39h1.42v4.36h-1.42zM267.47 232.62h1.42v4.39h-1.42zM269 232.82h1.42v3.67h-1.42zM270.53 231.51h1.42v4.83h-1.42zM272.07 231.84h1.42v5.37h-1.42zM273.6 231.23h1.42v4.03h-1.42zM275.13 231.34h1.42v4.32h-1.42zM276.67 230.48h1.42v4.88h-1.42zM286.6 228.1h1.49v1.8h-1.49zM293.2 229.73h1.37v5.24h-1.37zM294.68 230.9h1.37v1.17h-1.37zM296.16 230.31h1.37v4.66h-1.37zM297.64 231.48h1.37v2.91h-1.37zM299.12 231.48h1.37v2.91h-1.37zM302.09 233.23h1.37v6.41h-1.37zM303.57 232.65h1.37v6.41h-1.37zM305.05 232.06h1.37v7.58h-1.37zM306.53 231.48h1.37v5.24h-1.37zM308.01 230.31h1.37v4.08h-1.37zM309.49 229.15h1.37v2.91h-1.37zM310.97 229.15h1.37v2.91h-1.37zM312.46 228.57h1.37v2.91h-1.37zM313.94 228.57h1.37v3.5h-1.37zM315.42 228.57h1.37v3.26h-1.37zM322 228.1h1.42v3.38h-1.42zM323.53 228.1h1.42v3.38h-1.42zM325.05 228.4h1.42v4.83h-1.42zM326.58 228.4h1.42v4.83h-1.42zM328.11 228.6h1.42v3.46h-1.42zM329.63 228.6h1.42v3.46h-1.42zM331.16 228.9h1.42v2.58h-1.42zM332.68 228.9h1.42v2.58h-1.42zM334.21 229.6h1.42v3.05h-1.42zM335.74 229.6h1.42v3.05h-1.42zM337.26 229.6h1.42v3.05h-1.42zM338.79 230.1h1.42v4.29h-1.42zM340.32 230.1h1.42v4.29h-1.42zM341.84 230.4h1.42v4.58h-1.42zM343.37 230.4h1.42v4.58h-1.42zM344.89 230.1h1.42v3.71h-1.42zM346.42 230.1h1.42v3.71h-1.42zM347.95 229.6h1.42v3.05h-1.42zM349.47 229.6h1.42v3.05h-1.42zM351 229.3h1.29v2.5h-1.29zM360.06 228.6h1.42v1.7h-1.42zM367.72 229.1h1.42v1.7h-1.42zM369.25 229.1h1.42v1.7h-1.42zM370.78 229.1h1.42v1.2h-1.42zM372.31 229.1h1.42v1.2h-1.42zM394.7 233.44h1.42v3.82h-1.42zM396.23 230.72h1.42v6h-1.42zM397.76 232.35h1.42v7.09h-1.42zM399.29 233.99h1.42v3.82h-1.42zM400.82 231.81h1.42v8.18h-1.42zM402.35 232.35h1.42v5.45h-1.42zM403.88 231.26h1.42v8.18h-1.42zM405.42 231.26h1.42v8.18h-1.42zM406.95 230.72h1.42v9.27h-1.42zM408.48 232.35h1.42v6h-1.42zM410.01 231.81h1.42v7.63h-1.42zM411.54 233.99h1.42v7.09h-1.42zM413.07 235.62h1.42v6.54h-1.42zM414.6 228.6h1.59v29h-1.59zM416.3 228.1h1.74v46h-1.74zM418.15 228.1h1.74v46h-1.74zM420 232.9h1.49v5.5h-1.49zM421.6 232.9h1.49v5.5h-1.49z"/><path fill="#FBA1A0" d="M62.25 232h1.42v1.4h-1.42zM203.8 242.99h1.35v4.7h-1.35zM205.26 244.69h1.35v5.2h-1.35zM206.71 243.8h1.35v1.8h-1.35zM208.17 244.35h1.35v2.3h-1.35zM209.63 245.23h1.35v3h-1.35zM211.09 244.89h1.35v3h-1.35zM212.54 245.23h1.35v3h-1.35zM214 228.1h1.3v46h-1.3zM215.41 228.1h1.3v46h-1.3zM216.83 228.1h1.3v46h-1.3zM218.24 228.1h1.3v46h-1.3zM219.66 228.1h1.3v46h-1.3zM221.07 228.1h1.3v46h-1.3zM222.49 228.1h1.3v46h-1.3zM223.9 236.2h1.45v21.74h-1.45zM225.46 236.2h1.45v22.2h-1.45zM227.01 228.1h1.45v46h-1.45zM228.57 228.1h1.45v28.21h-1.45zM230.12 242h1.45v18.03h-1.45zM231.68 236.8h1.45v22.07h-1.45zM233.23 228.1h1.45v28.44h-1.45zM234.79 228.1h1.45v28.44h-1.45zM236.34 228.1h1.45v28.44h-1.45zM237.9 228.1h1.64v46h-1.64zM239.65 228.1h1.64v46h-1.64zM241.4 237.15h1.42v4.24h-1.42zM242.93 238.5h1.42v8.13h-1.42zM244.47 236.82h1.42v4.57h-1.42zM246 238.34h1.42v1.88h-1.42zM247.53 239.78h1.42v0.44h-1.42zM249.07 238.55h1.42v0.51h-1.42zM250.6 238.68h1.42v0.96h-1.42zM252.13 239.84h1.42v0.96h-1.42zM253.67 240.62h1.42v2.52h-1.42zM255.2 236.37h1.42v7.35h-1.42zM256.73 238.14h1.42v6.16h-1.42zM258.27 239.54h1.42v5.34h-1.42zM259.8 240.8h1.42v4.08h-1.42zM261.33 238.33h1.42v7.72h-1.42zM262.87 239.92h1.42v7.29h-1.42zM264.4 239.59h1.42v2.96h-1.42zM265.93 236.88h1.42v11.5h-1.42zM267.47 239.33h1.42v11.96h-1.42zM269 238.62h1.42v6.85h-1.42zM270.53 238.22h1.42v0.84h-1.42zM273.6 238.33h1.42v6.55h-1.42zM275.13 237.55h1.42v8.5h-1.42zM276.67 237.58h1.42v9.05h-1.42zM286.6 256.5h1.49v7h-1.49zM288.2 264.6h1.69v3h-1.69zM293.2 245.5h1.37v7.54h-1.37zM294.68 251.33h1.37v2.3h-1.37zM296.16 243.75h1.37v2.3h-1.37zM297.64 251.88h1.37v1.17h-1.37zM299.12 251.88h1.37v1.17h-1.37zM300.61 253.66h1.37v2.88h-1.37zM302.09 247.8h1.37v2.33h-1.37zM303.57 243.17h1.37v3.46h-1.37zM305.05 247.21h1.37v2.91h-1.37zM306.53 242.55h1.37v5.24h-1.37zM308.01 239.06h1.37v5.24h-1.37zM309.49 236.14h1.37v6.41h-1.37zM310.97 236.14h1.37v6.41h-1.37zM312.46 234.98h1.37v6.41h-1.37zM313.94 234.98h1.37v4.08h-1.37zM315.42 234.98h1.37v5.24h-1.37zM322 234.39h1.42v6.99h-1.42zM323.53 234.39h1.42v6.99h-1.42zM325.05 236.14h1.42v6.99h-1.42zM326.58 236.14h1.42v6.99h-1.42zM328.11 234.98h1.42v6.99h-1.42zM329.63 234.98h1.42v6.99h-1.42zM331.16 234.98h1.42v7.58h-1.42zM332.68 234.98h1.42v7.58h-1.42zM334.21 236.14h1.42v6.99h-1.42zM335.74 236.14h1.42v6.99h-1.42zM337.26 236.14h1.42v6.99h-1.42zM338.79 237.89h1.42v7.58h-1.42zM340.32 237.89h1.42v7.58h-1.42zM341.84 239.06h1.42v6.99h-1.42zM343.37 239.06h1.42v6.99h-1.42zM344.89 239.06h1.42v7.58h-1.42zM346.42 239.06h1.42v7.58h-1.42zM347.95 240.8h1.42v6.41h-1.42zM349.47 240.8h1.42v6.41h-1.42zM351 233.8h1.29v7.5h-1.29zM360.06 230.3h1.42v3.5h-1.42zM367.72 230.8h1.42v3h-1.42zM369.25 230.8h1.42v3h-1.42zM376.91 230.6h1.42v2.3h-1.42zM381.5 230.6h1.42v3h-1.42zM384.57 228.1h1.42v2.5h-1.42zM394.7 238.73h1.42v5.62h-1.42zM396.23 238.46h1.42v4.8h-1.42zM397.76 241.37h1.42v4.61h-1.42zM399.29 239.54h1.42v4.81h-1.42zM400.82 241.84h1.42v5.24h-1.42zM402.35 239.52h1.42v4.28h-1.42zM403.88 241.02h1.42v2.24h-1.42zM405.42 240.94h1.42v2.32h-1.42zM406.95 241.62h1.42v2.73h-1.42zM408.48 240.3h1.42v6.23h-1.42zM410.01 240.82h1.42v4.08h-1.42zM411.54 242.58h1.42v5.58h-1.42zM413.07 243.65h1.42v6.16h-1.42zM420 240.6h1.49v6h-1.49zM421.6 240.6h1.49v6h-1.49z"/><path fill="#B7E192" d="M69.91 236.2h1.42v1h-1.42zM71.44 236.2h1.42v1h-1.42zM170 246h1.74v1.7h-1.74zM193.36 251.2h1.25v1.7h-1.25zM203.8 239.29h1.35v3.2h-1.35zM205.26 241.39h1.35v2.8h-1.35zM206.71 240.8h1.35v2.3h-1.35zM208.17 242.55h1.35v1.5h-1.35zM209.63 243.13h1.35v1.8h-1.35zM211.09 242.79h1.35v1.8h-1.35zM212.54 243.13h1.35v1.8h-1.35zM223.9 232.7h1.45v3.5h-1.45zM225.46 233.8h1.45v2.4h-1.45zM231.68 234.4h1.45v2.4h-1.45zM241.4 235.64h1.42v1.3h-1.42zM242.93 236.18h1.42v1.85h-1.42zM244.47 234.93h1.42v1.63h-1.42zM246 236.08h1.42v1.54h-1.42zM247.53 237.47h1.42v1.34h-1.42zM249.07 236.27h1.42v1.49h-1.42zM250.6 236.54h1.42v1.95h-1.42zM252.13 236.86h1.42v2.08h-1.42zM253.67 238.49h1.42v1.73h-1.42zM255.2 234.59h1.42v1.4h-1.42zM256.73 236.26h1.42v1.36h-1.42zM258.27 236.25h1.42v2.39h-1.42zM259.8 238.5h1.42v1.79h-1.42zM261.33 235.79h1.42v2.3h-1.42zM262.87 236.73h1.42v2.31h-1.42zM264.4 236.79h1.42v1.92h-1.42zM265.93 234.75h1.42v1.86h-1.42zM267.47 237h1.42v1.98h-1.42zM269 236.5h1.42v2.06h-1.42zM270.53 236.34h1.42v1.63h-1.42zM272.07 237.21h1.42v2h-1.42zM273.6 235.26h1.42v2.35h-1.42zM275.13 235.67h1.42v1.56h-1.42zM276.67 235.36h1.42v1.9h-1.42zM278.2 228.1h1.29v46h-1.29zM279.6 228.1h1.29v46h-1.29zM281 228.1h1.29v46h-1.29zM282.4 228.1h1.29v46h-1.29zM283.8 228.1h1.29v41.2h-1.29zM285.2 228.1h1.29v46h-1.29zM286.6 229.9h1.49v26.6h-1.49zM288.2 228.1h1.69v36.5h-1.69zM290 228.1h1.49v46h-1.49zM291.6 228.1h1.49v46h-1.49zM293.2 234.98h1.37v9.32h-1.37zM294.68 232.06h1.37v18.07h-1.37zM296.16 234.98h1.37v7.58h-1.37zM297.64 234.39h1.37v17.48h-1.37zM299.12 234.39h1.37v17.48h-1.37zM300.61 231.48h1.37v20.98h-1.37zM302.09 239.64h1.37v8.16h-1.37zM303.57 239.06h1.37v2.91h-1.37zM305.05 239.64h1.37v7.58h-1.37zM306.53 236.72h1.37v5.83h-1.37zM308.01 234.39h1.37v4.66h-1.37zM309.49 232.06h1.37v4.08h-1.37zM310.97 232.06h1.37v4.08h-1.37zM312.46 231.48h1.37v3.5h-1.37zM313.94 232.06h1.37v2.91h-1.37zM315.42 231.83h1.37v3.15h-1.37zM322 231.48h1.42v2.91h-1.42zM323.53 231.48h1.42v2.91h-1.42zM325.05 233.23h1.42v2.91h-1.42zM326.58 233.23h1.42v2.91h-1.42zM328.11 232.06h1.42v2.91h-1.42zM329.63 232.06h1.42v2.91h-1.42zM331.16 231.48h1.42v3.5h-1.42zM332.68 231.48h1.42v3.5h-1.42zM334.21 232.65h1.42v3.5h-1.42zM335.74 232.65h1.42v3.5h-1.42zM337.26 232.65h1.42v3.5h-1.42zM338.79 234.39h1.42v3.5h-1.42zM340.32 234.39h1.42v3.5h-1.42zM341.84 234.98h1.42v4.08h-1.42zM343.37 234.98h1.42v4.08h-1.42zM344.89 233.81h1.42v5.24h-1.42zM346.42 233.81h1.42v5.24h-1.42zM347.95 232.65h1.42v8.16h-1.42zM349.47 232.65h1.42v8.16h-1.42zM351 231.8h1.29v2h-1.29zM364.65 228.6h1.42v1.2h-1.42zM376.91 228.9h1.42v1.7h-1.42zM381.5 228.9h1.42v1.7h-1.42zM394.7 237.26h1.42v1.46h-1.42zM396.23 236.72h1.42v1.74h-1.42zM397.76 239.44h1.42v1.93h-1.42zM399.29 237.81h1.42v1.74h-1.42zM400.82 239.99h1.42v1.85h-1.42zM402.35 237.81h1.42v1.72h-1.42zM403.88 239.44h1.42v1.58h-1.42zM405.42 239.44h1.42v1.49h-1.42zM406.95 239.99h1.42v1.63h-1.42zM408.48 238.35h1.42v1.95h-1.42zM410.01 239.44h1.42v1.38h-1.42zM411.54 241.08h1.42v1.5h-1.42zM413.07 242.17h1.42v1.48h-1.42zM420 238.4h1.49v2.2h-1.49zM421.6 238.4h1.49v2.2h-1.49z"/><path fill="#FF8711" d="M163.6 261.7h1.44v1.2h-1.44zM165.15 261.7h1.44v1.2h-1.44zM170 267h1.74v1.2h-1.74zM171.85 265.2h1.74v0.4h-1.74zM176.6 265.2h1.64v1.2h-1.64zM178.35 264.4h1.64v0.5h-1.64zM198.8 228.1h1.56v46h-1.56zM200.47 228.1h1.56v46h-1.56zM202.13 228.1h1.56v46h-1.56zM203.8 267.64h1.35v0.22h-1.35zM205.26 265.88h1.35v0.38h-1.35zM206.71 266.51h1.35v0.84h-1.35zM208.17 265.19h1.35v0.97h-1.35zM209.63 266h1.35v0.21h-1.35zM211.09 265.92h1.35v0.69h-1.35zM212.54 267.13h1.35v0.47h-1.35zM230.12 270.9h1.45v0.7h-1.45zM231.68 271.7h1.45v0.5h-1.45zM241.4 259.6h1.42v0.4h-1.42zM242.93 264.33h1.42v0.33h-1.42zM247.53 254.04h1.42v0.13h-1.42zM249.07 258.57h1.42v0.27h-1.42zM250.6 259.69h1.42v0.31h-1.42zM252.13 260.24h1.42v0.34h-1.42zM253.67 261.21h1.42v0.53h-1.42zM255.2 262.2h1.42v0.13h-1.42zM256.73 260.82h1.42v0.34h-1.42zM258.27 264.79h1.42v0.46h-1.42zM259.8 264.77h1.42v0.47h-1.42zM261.33 263.64h1.42v0.43h-1.42zM262.87 263.97h1.42v0.69h-1.42zM264.4 263.13h1.42v0.36h-1.42zM265.93 255.82h1.42v0.1h-1.42zM267.47 268.24h1.42v0.5h-1.42zM269 265.19h1.42v0.63h-1.42zM270.53 251.12h1.42v0.72h-1.42zM273.6 267.81h1.42v0.35h-1.42zM275.13 264.59h1.42v0.65h-1.42zM276.67 264.19h1.42v0.47h-1.42z"/></g>
<path d="M28.5 274.1v9.5M65.4 274.1v9.5M90 274.1v9.5M117.4 274.1v9.5M163.6 274.1v9.5M204.1 274.1v9.5M244.4 274.1v9.5M274.6 274.1v9.5M316.9 274.1v9.5M360.3 274.1v9.5M422.8 274.1v9.5" stroke="#bdbdbd" stroke-width="0.5" fill="none"/>
<text font-size="6.3" stroke="#111" stroke-width="0.15" transform="translate(46.1 278.6) rotate(90)">Daan</text>
<text font-size="6.3" stroke="#111" stroke-width="0.15" textLength="44.6" lengthAdjust="spacingAndGlyphs" transform="translate(76.9 278.6) rotate(90)">Inner_Mongolian</text>
<text font-size="6.3" stroke="#111" stroke-width="0.15" transform="translate(103 278.6) rotate(90)">Kazakh</text>
<text font-size="6.3" stroke="#111" stroke-width="0.15" transform="translate(136.9 278.6) rotate(90)">Chakouyi</text>
<text font-size="6.3" stroke="#111" stroke-width="0.15" transform="translate(180.7 278.6) rotate(90)">Napu</text>
<text font-size="6.3" stroke="#111" stroke-width="0.15" transform="translate(222.6 278.6) rotate(90)">Jinjiang</text>
<text font-size="6.3" stroke="#111" stroke-width="0.15" transform="translate(256.9 278.6) rotate(90)">Lijiang</text>
<text font-size="6.3" stroke="#111" stroke-width="0.15" transform="translate(292.8 278.6) rotate(90)">Baise</text>
<text font-size="6.3" stroke="#111" stroke-width="0.15" transform="translate(335.9 278.6) rotate(90)">Zhaotong</text>
<text font-size="6.3" stroke="#111" stroke-width="0.15" transform="translate(386.6 278.6) rotate(90)">Tengchong</text>
<text font-size="10.5" x="3.4" y="256.6" textLength="22.3" lengthAdjust="spacingAndGlyphs">K=10</text>
<g filter="url(#soft)"><path fill="#FFFFA0" d="M28.5 384.47h1.43v0.43h-1.43zM30.04 384.78h1.43v0.12h-1.43zM31.57 384.01h1.43v0.89h-1.43zM33.11 384.54h1.43v0.36h-1.43zM34.64 384.74h1.43v0.16h-1.43zM36.18 384.02h1.43v0.88h-1.43zM37.71 384.65h1.43v0.25h-1.43zM39.25 384.15h1.43v0.75h-1.43zM40.79 384.28h1.43v0.62h-1.43zM42.32 384.37h1.43v0.53h-1.43zM43.86 384.52h1.43v0.38h-1.43zM45.39 384.62h1.43v0.28h-1.43zM46.93 384h1.43v0.9h-1.43zM48.46 384.13h1.43v0.77h-1.43zM50 384.3h1.42v0.6h-1.42zM51.53 384.29h1.42v0.61h-1.42zM53.07 384.57h1.42v0.33h-1.42zM54.6 384.79h1.42v0.11h-1.42zM56.13 384.3h1.42v0.6h-1.42zM57.67 384.14h1.42v0.76h-1.42zM59.2 384.59h1.42v0.31h-1.42zM60.73 384.11h1.42v0.79h-1.42zM62.27 384.41h1.42v0.49h-1.42zM63.8 384.48h1.42v0.42h-1.42zM65.33 384.74h1.42v0.16h-1.42zM66.87 384.27h1.42v0.63h-1.42zM68.4 384.28h1.42v0.62h-1.42zM69.93 384.08h1.42v0.82h-1.42zM71.47 384.37h1.42v0.53h-1.42zM73 384.24h1.42v0.66h-1.42zM74.53 384.58h1.42v0.32h-1.42zM76.07 384.04h1.42v0.86h-1.42zM77.6 384.32h1.42v0.58h-1.42zM79.13 384.54h1.42v0.36h-1.42zM80.67 384.74h1.42v0.16h-1.42zM91.2 384.49h1.43v0.41h-1.43zM92.74 384.63h1.43v0.27h-1.43zM94.28 384.58h1.43v0.32h-1.43zM95.82 384.67h1.43v0.23h-1.43zM97.36 384.52h1.43v0.38h-1.43zM98.91 384.51h1.43v0.39h-1.43zM101.99 384.33h1.43v0.57h-1.43zM103.53 384.74h1.43v0.16h-1.43zM105.07 384.63h1.43v0.27h-1.43zM106.61 384.6h1.43v0.3h-1.43zM108.15 384.4h1.43v0.5h-1.43zM109.69 384.64h1.43v0.26h-1.43zM111.24 384.42h1.43v0.48h-1.43zM112.78 384.47h1.43v0.43h-1.43zM114.32 384.72h1.43v0.18h-1.43zM115.86 384.8h1.43v0.1h-1.43zM126.3 384.8h1.44v0.1h-1.44zM127.85 384.69h1.44v0.21h-1.44zM129.41 384.44h1.44v0.46h-1.44zM130.96 384.33h1.44v0.57h-1.44zM132.52 384.58h1.44v0.32h-1.44zM134.07 384.46h1.44v0.44h-1.44zM135.62 384.43h1.44v0.47h-1.44zM137.18 384.48h1.44v0.42h-1.44zM138.73 384.5h1.44v0.4h-1.44zM140.28 384.83h1.44v0.07h-1.44zM141.84 384.75h1.44v0.15h-1.44zM143.39 384.58h1.44v0.32h-1.44zM203.8 380.2h1.35v4.7h-1.35zM205.26 380.2h1.35v4.7h-1.35zM206.71 383.1h1.35v1.8h-1.35zM208.17 382.6h1.35v2.3h-1.35zM209.63 382h1.35v2.9h-1.35zM211.09 382h1.35v2.9h-1.35zM212.54 382h1.35v2.9h-1.35zM214 338.9h1.3v46h-1.3zM215.41 338.9h1.3v46h-1.3zM216.83 338.9h1.3v46h-1.3zM218.24 338.9h1.3v46h-1.3zM219.66 338.9h1.3v46h-1.3zM221.07 338.9h1.3v46h-1.3zM222.49 338.9h1.3v46h-1.3zM223.9 360.5h1.45v24.4h-1.45zM225.46 363.9h1.45v21h-1.45zM227.01 338.9h1.45v46h-1.45zM228.57 364.7h1.45v20.2h-1.45zM230.12 374.3h1.45v10.6h-1.45zM231.68 374.3h1.45v10.6h-1.45zM233.23 356.5h1.45v28.4h-1.45zM234.79 361h1.45v23.9h-1.45zM236.34 363.9h1.45v21h-1.45zM237.9 338.9h1.64v46h-1.64zM239.65 338.9h1.64v46h-1.64zM241.4 380.86h1.42v4.04h-1.42zM242.93 382.6h1.42v2.3h-1.42zM244.47 380.86h1.42v4.04h-1.42zM246 383.19h1.42v1.71h-1.42zM247.53 383.19h1.42v1.71h-1.42zM249.07 380.27h1.42v4.63h-1.42zM250.6 379.69h1.42v5.21h-1.42zM252.13 381.44h1.42v3.46h-1.42zM253.67 380.27h1.42v4.63h-1.42zM255.2 382.02h1.42v2.88h-1.42zM256.73 380.86h1.42v4.04h-1.42zM258.27 381.44h1.42v3.46h-1.42zM259.8 381.44h1.42v3.46h-1.42zM261.33 382.02h1.42v2.88h-1.42zM262.87 381.44h1.42v3.46h-1.42zM264.4 382.02h1.42v2.88h-1.42zM265.93 379.69h1.42v5.21h-1.42zM267.47 380.86h1.42v4.04h-1.42zM269 379.11h1.42v5.79h-1.42zM270.53 383.19h1.42v1.71h-1.42zM272.07 383.19h1.42v1.71h-1.42zM273.6 381.44h1.42v3.46h-1.42zM275.13 380.86h1.42v4.04h-1.42zM276.67 380.27h1.42v4.63h-1.42zM286.6 383.2h1.49v1.7h-1.49zM293.2 382.57h1.37v2.33h-1.37zM294.68 382.57h1.37v2.33h-1.37zM296.16 381.99h1.37v2.91h-1.37zM297.64 381.99h1.37v2.91h-1.37zM299.12 382.57h1.37v2.33h-1.37zM300.61 381.4h1.37v3.5h-1.37zM302.09 380.82h1.37v4.08h-1.37zM303.57 381.4h1.37v3.5h-1.37zM305.05 381.4h1.37v3.5h-1.37zM306.53 383.15h1.37v1.75h-1.37zM308.01 380.24h1.37v4.66h-1.37zM309.49 379.66h1.37v5.24h-1.37zM310.97 379.66h1.37v5.24h-1.37zM312.46 379.66h1.37v5.24h-1.37zM313.94 381.99h1.37v2.91h-1.37zM315.42 380.82h1.37v4.08h-1.37zM322 382h1.43v2.9h-1.43zM323.54 382h1.43v2.9h-1.43zM325.08 381.6h1.43v3.3h-1.43zM326.63 381.6h1.43v3.3h-1.43zM328.17 381.6h1.43v3.3h-1.43zM329.71 381.6h1.43v3.3h-1.43zM331.25 381.6h1.43v3.3h-1.43zM332.79 381.6h1.43v3.3h-1.43zM334.34 381.6h1.43v3.3h-1.43zM335.88 381.6h1.43v3.3h-1.43zM337.42 381.6h1.43v3.3h-1.43zM338.96 382.2h1.43v2.7h-1.43zM340.51 382.4h1.43v2.5h-1.43zM342.05 382.4h1.43v2.5h-1.43zM343.59 382.4h1.43v2.5h-1.43zM345.13 382.4h1.43v2.5h-1.43zM346.67 382.4h1.43v2.5h-1.43zM348.22 382.4h1.43v2.5h-1.43zM349.76 382.4h1.43v2.5h-1.43zM357.35 382.9h1.4v2h-1.4zM367.94 383.9h1.4v1h-1.4zM369.46 383.9h1.4v1h-1.4zM375.51 384.3h1.4v0.6h-1.4zM377.02 384.3h1.4v0.6h-1.4zM380.05 384.3h1.4v0.6h-1.4zM383.07 384.3h1.4v0.6h-1.4zM386.1 384.51h1.32v0.39h-1.32zM387.53 384.05h1.32v0.85h-1.32zM388.97 384.65h1.32v0.25h-1.32zM390.4 384.21h1.32v0.69h-1.32zM391.83 384.49h1.32v0.41h-1.32zM393.27 384.46h1.32v0.44h-1.32zM394.7 382.89h1.42v2.01h-1.42zM396.23 382.57h1.42v2.33h-1.42zM397.76 382.79h1.42v2.11h-1.42zM399.29 382.92h1.42v1.98h-1.42zM400.82 382.93h1.42v1.97h-1.42zM402.35 383.06h1.42v1.84h-1.42zM403.88 382.82h1.42v2.08h-1.42zM405.42 382.55h1.42v2.35h-1.42zM406.95 382.89h1.42v2.01h-1.42zM408.48 383.02h1.42v1.88h-1.42zM410.01 382.87h1.42v2.03h-1.42zM411.54 382.87h1.42v2.03h-1.42zM413.07 382.96h1.42v1.94h-1.42zM420 381.6h1.49v3.3h-1.49zM421.6 381.6h1.49v3.3h-1.49z"/><path fill="#CDB7D9" d="M28.5 383.94h1.43v0.53h-1.43zM30.04 384.58h1.43v0.19h-1.43zM31.57 383.35h1.43v0.65h-1.43zM33.11 384.38h1.43v0.16h-1.43zM34.64 384.57h1.43v0.18h-1.43zM36.18 383.9h1.43v0.13h-1.43zM37.71 384.34h1.43v0.31h-1.43zM39.25 383.7h1.43v0.45h-1.43zM40.79 383.91h1.43v0.36h-1.43zM42.32 384.08h1.43v0.29h-1.43zM43.86 383.77h1.43v0.76h-1.43zM45.39 384.51h1.43v0.11h-1.43zM46.93 383.62h1.43v0.39h-1.43zM48.46 383.54h1.43v0.59h-1.43zM50 384h1.42v0.3h-1.42zM51.53 383.42h1.42v0.87h-1.42zM53.07 383.85h1.42v0.72h-1.42zM54.6 384.38h1.42v0.42h-1.42zM56.13 383.94h1.42v0.35h-1.42zM57.67 383.71h1.42v0.42h-1.42zM59.2 384.34h1.42v0.25h-1.42zM60.73 383.43h1.42v0.68h-1.42zM62.27 383.98h1.42v0.43h-1.42zM63.8 383.84h1.42v0.64h-1.42zM65.33 384.34h1.42v0.4h-1.42zM66.87 384.01h1.42v0.26h-1.42zM68.4 383.35h1.42v0.93h-1.42zM69.93 383.26h1.42v0.82h-1.42zM71.47 383.51h1.42v0.86h-1.42zM73 383.59h1.42v0.65h-1.42zM74.53 384.05h1.42v0.53h-1.42zM76.07 383.64h1.42v0.4h-1.42zM77.6 383.7h1.42v0.62h-1.42zM79.13 383.94h1.42v0.6h-1.42zM80.67 383.81h1.42v0.93h-1.42zM82.2 384.1h1.89v0.8h-1.89zM87.7 384.3h1.64v0.6h-1.64zM89.45 384.3h1.64v0.6h-1.64zM91.2 383.65h1.43v0.84h-1.43zM92.74 384.25h1.43v0.38h-1.43zM94.28 384.21h1.43v0.37h-1.43zM95.82 384.06h1.43v0.6h-1.43zM97.36 383.78h1.43v0.74h-1.43zM98.91 383.65h1.43v0.85h-1.43zM100.45 384.25h1.43v0.65h-1.43zM101.99 383.42h1.43v0.91h-1.43zM103.53 384.22h1.43v0.52h-1.43zM105.07 383.72h1.43v0.91h-1.43zM106.61 384.1h1.43v0.5h-1.43zM108.15 383.81h1.43v0.58h-1.43zM109.69 384.42h1.43v0.23h-1.43zM111.24 383.98h1.43v0.44h-1.43zM112.78 383.57h1.43v0.9h-1.43zM114.32 384h1.43v0.72h-1.43zM115.86 383.96h1.43v0.84h-1.43zM117.4 384.3h1.62v0.6h-1.62zM119.13 384.3h1.62v0.6h-1.62zM120.87 384.3h1.62v0.6h-1.62zM126.3 384.4h1.44v0.41h-1.44zM127.85 383.72h1.44v0.97h-1.44zM129.41 383.79h1.44v0.65h-1.44zM130.96 383.87h1.44v0.47h-1.44zM132.52 384.36h1.44v0.22h-1.44zM134.07 383.75h1.44v0.71h-1.44zM135.62 383.73h1.44v0.7h-1.44zM137.18 383.97h1.44v0.51h-1.44zM138.73 383.56h1.44v0.94h-1.44zM140.28 384.21h1.44v0.62h-1.44zM141.84 384.33h1.44v0.42h-1.44zM143.39 384.31h1.44v0.27h-1.44zM144.95 384.54h1.44v0.36h-1.44zM149.8 384.36h1.53v0.54h-1.53zM151.44 384.48h1.53v0.42h-1.53zM153.08 384.35h1.53v0.55h-1.53zM154.72 384.4h1.53v0.5h-1.53zM156.36 384.25h1.53v0.65h-1.53zM163.6 383.7h1.44v1.2h-1.44zM165.15 383.7h1.44v1.2h-1.44zM170 383.4h1.74v1.5h-1.74zM171.85 383.4h1.74v1.5h-1.74zM176.6 383.4h1.64v1.5h-1.64zM178.35 383.4h1.64v1.5h-1.64zM192 383.4h1.62v1.5h-1.62zM193.73 379.1h1.62v5.8h-1.62zM195.47 383.4h1.62v1.5h-1.62zM203.8 377.2h1.35v3h-1.35zM205.26 378.4h1.35v1.8h-1.35zM206.71 381.3h1.35v1.8h-1.35zM208.17 380.8h1.35v1.8h-1.35zM209.63 381.5h1.35v0.5h-1.35zM211.09 381.5h1.35v0.5h-1.35zM212.54 381.5h1.35v0.5h-1.35zM223.9 359.3h1.45v1.2h-1.45zM225.46 362.1h1.45v1.8h-1.45zM228.57 362.9h1.45v1.8h-1.45zM230.12 372h1.45v2.3h-1.45zM231.68 372h1.45v2.3h-1.45zM233.23 354.7h1.45v1.8h-1.45zM236.34 362.7h1.45v1.2h-1.45zM241.4 379.66h1.42v1.2h-1.42zM242.93 381.4h1.42v1.2h-1.42zM244.47 379.66h1.42v1.2h-1.42zM246 381.99h1.42v1.2h-1.42zM247.53 381.99h1.42v1.2h-1.42zM249.07 379.07h1.42v1.2h-1.42zM250.6 378.49h1.42v1.2h-1.42zM252.13 380.24h1.42v1.2h-1.42zM253.67 379.07h1.42v1.2h-1.42zM255.2 380.82h1.42v1.2h-1.42zM256.73 379.66h1.42v1.2h-1.42zM258.27 380.24h1.42v1.2h-1.42zM259.8 380.24h1.42v1.2h-1.42zM261.33 380.82h1.42v1.2h-1.42zM262.87 380.24h1.42v1.2h-1.42zM264.4 380.82h1.42v1.2h-1.42zM265.93 378.49h1.42v1.2h-1.42zM267.47 379.66h1.42v1.2h-1.42zM269 377.91h1.42v1.2h-1.42zM270.53 381.99h1.42v1.2h-1.42zM272.07 381.99h1.42v1.2h-1.42zM273.6 380.24h1.42v1.2h-1.42zM275.13 379.66h1.42v1.2h-1.42zM276.67 379.07h1.42v1.2h-1.42zM278.2 338.9h1.29v46h-1.29zM279.6 338.9h1.29v46h-1.29zM281 338.9h1.29v46h-1.29zM282.4 338.9h1.29v46h-1.29zM283.8 344.6h1.29v40.3h-1.29zM285.2 338.9h1.29v46h-1.29zM286.6 358.6h1.49v24.6h-1.49zM288.2 350.2h1.69v34.7h-1.69zM290 338.9h1.49v46h-1.49zM291.6 338.9h1.49v46h-1.49zM293.2 373.83h1.37v8.74h-1.37zM294.68 366.25h1.37v16.32h-1.37zM296.16 377.91h1.37v4.08h-1.37zM297.64 377.91h1.37v4.08h-1.37zM299.12 371.5h1.37v11.07h-1.37zM300.61 364.5h1.37v16.9h-1.37zM302.09 377.91h1.37v2.91h-1.37zM303.57 378.49h1.37v2.91h-1.37zM305.05 378.49h1.37v2.91h-1.37zM306.53 376.74h1.37v6.41h-1.37zM308.01 377.32h1.37v2.91h-1.37zM309.49 377.91h1.37v1.75h-1.37zM310.97 377.32h1.37v2.33h-1.37zM312.46 377.32h1.37v2.33h-1.37zM313.94 380.82h1.37v1.17h-1.37zM315.42 379.07h1.37v1.75h-1.37zM322 380.8h1.43v1.2h-1.43zM323.54 380.8h1.43v1.2h-1.43zM325.08 379.6h1.43v2h-1.43zM326.63 380.4h1.43v1.2h-1.43zM328.17 380.1h1.43v1.5h-1.43zM329.71 380.1h1.43v1.5h-1.43zM331.25 380.4h1.43v1.2h-1.43zM332.79 380.4h1.43v1.2h-1.43zM334.34 380.4h1.43v1.2h-1.43zM335.88 380.4h1.43v1.2h-1.43zM337.42 380.4h1.43v1.2h-1.43zM338.96 381h1.43v1.2h-1.43zM340.51 378.4h1.43v4h-1.43zM342.05 378.9h1.43v3.5h-1.43zM343.59 378.9h1.43v3.5h-1.43zM345.13 379.4h1.43v3h-1.43zM346.67 380.1h1.43v2.3h-1.43zM348.22 380.9h1.43v1.5h-1.43zM349.76 380.9h1.43v1.5h-1.43zM357.35 382.3h1.4v0.6h-1.4zM367.94 383.3h1.4v0.6h-1.4zM394.7 381.67h1.42v1.22h-1.42zM396.23 381.11h1.42v1.46h-1.42zM397.76 381.14h1.42v1.65h-1.42zM399.29 381.23h1.42v1.69h-1.42zM400.82 381.69h1.42v1.24h-1.42zM402.35 381.61h1.42v1.45h-1.42zM403.88 381.24h1.42v1.59h-1.42zM405.42 380.98h1.42v1.57h-1.42zM406.95 381.13h1.42v1.76h-1.42zM408.48 381.32h1.42v1.7h-1.42zM410.01 381.52h1.42v1.35h-1.42zM411.54 381.25h1.42v1.62h-1.42zM413.07 381.39h1.42v1.57h-1.42zM420 380h1.49v1.6h-1.49zM421.6 380h1.49v1.6h-1.49z"/><path fill="#FF8711" d="M28.5 382.8h1.43v1.14h-1.43zM30.04 381.81h1.43v2.77h-1.43zM31.57 379.76h1.43v3.59h-1.43zM33.11 379.98h1.43v4.4h-1.43zM34.64 383.43h1.43v1.14h-1.43zM36.18 383.57h1.43v0.33h-1.43zM37.71 375.86h1.43v8.48h-1.43zM39.25 381.74h1.43v1.96h-1.43zM40.79 380.33h1.43v3.59h-1.43zM42.32 381.31h1.43v2.77h-1.43zM43.86 376.92h1.43v6.85h-1.43zM45.39 380.11h1.43v4.4h-1.43zM46.93 378.4h1.43v5.22h-1.43zM48.46 379.14h1.43v4.4h-1.43zM50 379h1.42v5h-1.42zM51.53 383.12h1.42v0.3h-1.42zM53.07 381.85h1.42v2h-1.42zM54.6 382.38h1.42v2h-1.42zM56.13 374.74h1.42v9.2h-1.42zM57.67 374.51h1.42v9.2h-1.42zM59.2 379.34h1.42v5h-1.42zM60.73 379.43h1.42v4h-1.42zM62.27 376.58h1.42v7.4h-1.42zM63.8 373.84h1.42v10h-1.42zM65.33 372.84h1.42v11.5h-1.42zM66.87 376.01h1.42v8h-1.42zM68.4 380.85h1.42v2.5h-1.42zM69.93 375.46h1.42v7.8h-1.42zM71.47 374.71h1.42v8.8h-1.42zM73 375.29h1.42v8.3h-1.42zM74.53 374.05h1.42v10h-1.42zM76.07 373.64h1.42v10h-1.42zM77.6 375.9h1.42v7.8h-1.42zM82.2 371.1h1.89v13h-1.89zM87.7 375.21h1.64v9.09h-1.64zM89.45 372.88h1.64v11.42h-1.64zM91.2 372.31h1.43v11.34h-1.43zM92.74 371.15h1.43v13.11h-1.43zM94.28 370.56h1.43v13.64h-1.43zM95.82 371.73h1.43v12.33h-1.43zM97.36 371.73h1.43v12.05h-1.43zM98.91 372.9h1.43v10.76h-1.43zM100.45 372.36h1.43v11.89h-1.43zM101.99 371.73h1.43v11.7h-1.43zM103.53 372.31h1.43v11.91h-1.43zM105.07 372.9h1.43v10.82h-1.43zM106.61 373.48h1.43v10.62h-1.43zM108.15 372.31h1.43v11.5h-1.43zM109.69 372.9h1.43v11.52h-1.43zM111.24 372.9h1.43v11.08h-1.43zM112.78 373.48h1.43v10.1h-1.43zM114.32 374.06h1.43v9.94h-1.43zM115.86 373.48h1.43v10.48h-1.43zM117.4 360.66h1.62v23.64h-1.62zM119.13 358.33h1.62v25.97h-1.62zM120.87 366.49h1.62v17.81h-1.62zM122.6 338.9h1.74v46h-1.74zM124.45 338.9h1.74v46h-1.74zM126.3 361.24h1.44v23.16h-1.44zM127.85 357.74h1.44v25.97h-1.44zM129.41 354.83h1.44v28.96h-1.44zM130.96 357.74h1.44v26.12h-1.44zM132.52 364.74h1.44v19.62h-1.44zM134.07 357.16h1.44v26.59h-1.44zM135.62 367.65h1.44v16.08h-1.44zM137.18 367.65h1.44v16.32h-1.44zM138.73 365.9h1.44v17.65h-1.44zM140.28 366.49h1.44v17.73h-1.44zM141.84 364.74h1.44v19.59h-1.44zM143.39 365.32h1.44v18.99h-1.44zM144.95 364.75h1.44v19.79h-1.44zM146.5 338.9h1.54v46h-1.54zM148.15 338.9h1.54v46h-1.54zM149.8 350.17h1.53v34.19h-1.53zM151.44 355.41h1.53v29.07h-1.53zM153.08 357.74h1.53v26.6h-1.53zM154.72 354.25h1.53v30.16h-1.53zM156.36 353.66h1.53v30.58h-1.53zM158 338.9h1.29v46h-1.29zM159.4 338.9h1.29v46h-1.29zM160.8 338.9h1.29v46h-1.29zM162.2 338.9h1.29v46h-1.29zM163.6 370.3h1.44v12.8h-1.44zM165.15 370.3h1.44v12.8h-1.44zM170 370.9h1.74v12.5h-1.74zM171.85 370.9h1.74v12.5h-1.74zM176.6 370.9h1.64v12.5h-1.64zM178.35 370.9h1.64v12.5h-1.64zM192 370.9h1.62v12.5h-1.62zM193.73 369.7h1.62v9.4h-1.62zM195.47 370.9h1.62v12.5h-1.62zM203.8 370.2h1.35v7h-1.35zM205.26 372.4h1.35v6h-1.35zM206.71 373.1h1.35v8.2h-1.35zM208.17 373.2h1.35v7.6h-1.35zM209.63 372.2h1.35v9.3h-1.35zM211.09 372.2h1.35v9.3h-1.35zM212.54 372.2h1.35v9.3h-1.35zM223.9 358.1h1.45v1.2h-1.45zM225.46 359.2h1.45v2.9h-1.45zM228.57 360h1.45v2.9h-1.45zM230.12 363.3h1.45v8.7h-1.45zM231.68 363.3h1.45v8.7h-1.45zM233.23 351.8h1.45v2.9h-1.45zM234.79 358.1h1.45v2.9h-1.45zM236.34 358.7h1.45v4h-1.45zM241.4 374.99h1.42v4.66h-1.42zM242.93 376.16h1.42v5.24h-1.42zM244.47 374.41h1.42v5.24h-1.42zM246 375.58h1.42v6.41h-1.42zM247.53 375.58h1.42v6.41h-1.42zM249.07 374.41h1.42v4.66h-1.42zM250.6 372.66h1.42v5.83h-1.42zM252.13 374.99h1.42v5.24h-1.42zM253.67 374.41h1.42v4.66h-1.42zM255.2 373.24h1.42v7.58h-1.42zM256.73 373.83h1.42v5.83h-1.42zM258.27 374.41h1.42v5.83h-1.42zM259.8 374.41h1.42v5.83h-1.42zM261.33 373.24h1.42v7.58h-1.42zM262.87 373.83h1.42v6.41h-1.42zM264.4 374.99h1.42v5.83h-1.42zM265.93 371.5h1.42v6.99h-1.42zM267.47 373.24h1.42v6.41h-1.42zM269 374.99h1.42v2.91h-1.42zM270.53 376.16h1.42v5.83h-1.42zM272.07 376.16h1.42v5.83h-1.42zM273.6 374.99h1.42v5.24h-1.42zM275.13 373.83h1.42v5.83h-1.42zM276.67 373.24h1.42v5.83h-1.42zM283.8 339.9h1.29v4.7h-1.29zM286.6 357.4h1.49v1.2h-1.49zM293.2 370.33h1.37v3.5h-1.37zM294.68 364.55h1.37v1.7h-1.37zM296.16 375.61h1.37v2.3h-1.37zM297.64 375.61h1.37v2.3h-1.37zM299.12 369.8h1.37v1.7h-1.37zM300.61 362.2h1.37v2.3h-1.37zM302.09 372.11h1.37v5.8h-1.37zM303.57 370.89h1.37v7.6h-1.37zM305.05 370.89h1.37v7.6h-1.37zM306.53 371.54h1.37v5.2h-1.37zM308.01 373.82h1.37v3.5h-1.37zM309.49 376.71h1.37v1.2h-1.37zM310.97 373.82h1.37v3.5h-1.37zM312.46 373.82h1.37v3.5h-1.37zM315.42 376.77h1.37v2.3h-1.37zM322 379.1h1.43v1.7h-1.43zM323.54 379.1h1.43v1.7h-1.43zM325.08 376.6h1.43v3h-1.43zM326.63 378.7h1.43v1.7h-1.43zM328.17 376.1h1.43v4h-1.43zM329.71 376.1h1.43v4h-1.43zM331.25 379.2h1.43v1.2h-1.43zM332.79 379.2h1.43v1.2h-1.43zM334.34 379.2h1.43v1.2h-1.43zM335.88 379.2h1.43v1.2h-1.43zM337.42 379.2h1.43v1.2h-1.43zM338.96 377.5h1.43v3.5h-1.43zM340.51 374.4h1.43v4h-1.43zM342.05 375.4h1.43v3.5h-1.43zM343.59 375.4h1.43v3.5h-1.43zM345.13 375.9h1.43v3.5h-1.43zM346.67 378.3h1.43v1.8h-1.43zM348.22 377.9h1.43v3h-1.43zM349.76 377.9h1.43v3h-1.43zM357.35 381.1h1.4v1.2h-1.4zM358.87 383.7h1.4v1.2h-1.4zM360.38 383.7h1.4v1.2h-1.4zM367.94 382.1h1.4v1.2h-1.4zM375.51 383.5h1.4v0.8h-1.4zM377.02 383.5h1.4v0.8h-1.4zM381.56 384.1h1.4v0.8h-1.4zM384.59 384.1h1.4v0.8h-1.4zM394.7 377.16h1.42v4.51h-1.42zM396.23 377.7h1.42v3.41h-1.42zM397.76 374.98h1.42v6.16h-1.42zM399.29 373.34h1.42v7.89h-1.42zM400.82 376.07h1.42v5.62h-1.42zM402.35 379.34h1.42v2.27h-1.42zM403.88 377.7h1.42v3.53h-1.42zM405.42 377.7h1.42v3.27h-1.42zM406.95 375.52h1.42v5.61h-1.42zM408.48 378.25h1.42v3.07h-1.42zM410.01 379.34h1.42v2.19h-1.42zM411.54 376.61h1.42v4.64h-1.42zM413.07 370.61h1.42v10.78h-1.42zM420 375.2h1.49v4.8h-1.49zM421.6 375.2h1.49v4.8h-1.49z"/><path fill="#FBA1A0" d="M28.5 382.66h1.43v0.14h-1.43zM30.04 381.03h1.43v0.78h-1.43zM31.57 378.58h1.43v1.18h-1.43zM33.11 376.13h1.43v3.84h-1.43zM34.64 382.66h1.43v0.77h-1.43zM36.18 383.47h1.43v0.1h-1.43zM37.71 373.69h1.43v2.17h-1.43zM40.79 380.21h1.43v0.11h-1.43zM42.32 381.03h1.43v0.28h-1.43zM43.86 375.32h1.43v1.6h-1.43zM45.39 379.4h1.43v0.71h-1.43zM46.93 375.32h1.43v3.08h-1.43zM48.46 376.13h1.43v3.01h-1.43zM50 376.7h1.42v2.3h-1.42zM56.13 370.04h1.42v4.7h-1.42zM57.67 369.81h1.42v4.7h-1.42zM62.27 375.18h1.42v1.4h-1.42zM63.8 370.34h1.42v3.5h-1.42zM65.33 369.24h1.42v3h-1.42zM66.87 370.01h1.42v6h-1.42zM69.93 371.26h1.42v4.2h-1.42zM71.47 370.51h1.42v4.2h-1.42zM73 371.99h1.42v3.3h-1.42zM74.53 368.45h1.42v5.6h-1.42zM76.07 368.04h1.42v5.6h-1.42zM77.6 374.9h1.42v1h-1.42zM82.2 364.1h1.89v7h-1.89zM87.7 366.49h1.64v8.72h-1.64zM89.45 369.98h1.64v2.9h-1.64zM91.2 362.99h1.43v9.02h-1.43zM92.74 364.74h1.43v5.86h-1.43zM94.28 363.57h1.43v6.89h-1.43zM95.82 361.24h1.43v9.98h-1.43zM97.36 361.24h1.43v9.94h-1.43zM98.91 364.17h1.43v8.73h-1.43zM100.45 363.62h1.43v8.06h-1.43zM101.99 364.15h1.43v6.91h-1.43zM103.53 364.74h1.43v6.94h-1.43zM105.07 363.57h1.43v8.95h-1.43zM106.61 362.99h1.43v10.12h-1.43zM108.15 363.57h1.43v8.23h-1.43zM109.69 364.15h1.43v8.52h-1.43zM111.24 364.15h1.43v8.6h-1.43zM112.78 365.9h1.43v7.3h-1.43zM114.32 367.65h1.43v5.8h-1.43zM115.86 364.74h1.43v8.36h-1.43zM117.4 354.25h1.62v6.41h-1.62zM119.13 355.41h1.62v2.91h-1.62zM120.87 356.93h1.62v9.56h-1.62zM126.3 357.16h1.44v4.08h-1.44zM127.85 352.5h1.44v5.24h-1.44zM129.41 351.92h1.44v2.91h-1.44zM130.96 353.08h1.44v4.66h-1.44zM132.52 357.74h1.44v6.99h-1.44zM134.07 349h1.44v7.36h-1.44zM135.62 357.16h1.44v10.49h-1.44zM137.18 357.16h1.44v10.49h-1.44zM138.73 358.33h1.44v7.58h-1.44zM140.28 356.58h1.44v9.91h-1.44zM141.84 357.74h1.44v6.99h-1.44zM143.39 359.49h1.44v5.83h-1.44zM144.95 356.59h1.44v8.16h-1.44zM149.8 343.76h1.53v5.41h-1.53zM151.44 347.84h1.53v7.58h-1.53zM153.08 351.33h1.53v6.41h-1.53zM154.72 349h1.53v5.24h-1.53zM156.36 350.17h1.53v3.5h-1.53zM163.6 357.5h1.44v11h-1.44zM165.15 357.5h1.44v11h-1.44zM170 359.9h1.74v9.8h-1.74zM171.85 353.4h1.74v16.3h-1.74zM176.6 360.4h1.64v8.8h-1.64zM178.35 360.4h1.64v8.8h-1.64zM192 356.3h1.62v13.4h-1.62zM193.73 358.7h1.62v8.7h-1.62zM195.47 356.9h1.62v12.8h-1.62zM197.2 348.2h1.49v8.7h-1.49zM203.8 353.5h1.35v15.99h-1.35zM205.26 348.8h1.35v22.93h-1.35zM206.71 347.6h1.35v24.87h-1.35zM208.17 348.2h1.35v24.13h-1.35zM209.63 350h1.35v21.85h-1.35zM211.09 350h1.35v21.51h-1.35zM212.54 349.4h1.35v22.47h-1.35zM223.9 340.1h1.45v18h-1.45zM225.46 345.8h1.45v13.4h-1.45zM228.57 352.4h1.45v7.6h-1.45zM230.12 343.5h1.45v19.8h-1.45zM231.68 343.5h1.45v19.8h-1.45zM233.23 343.1h1.45v8.7h-1.45zM234.79 340.1h1.45v18h-1.45zM236.34 341.2h1.45v17.5h-1.45zM241.4 353.22h1.42v21.41h-1.42zM242.93 344.73h1.42v31.06h-1.42zM244.47 347.06h1.42v27.21h-1.42zM246 359.3h1.42v16.08h-1.42zM247.53 359.3h1.42v16.23h-1.42zM249.07 353.47h1.42v20.47h-1.42zM250.6 352.89h1.42v19.35h-1.42zM252.13 352.3h1.42v22.14h-1.42zM253.67 351.72h1.42v22.14h-1.42zM255.2 350.56h1.42v22.36h-1.42zM256.73 349.97h1.42v23.63h-1.42zM258.27 353.3h1.42v21.06h-1.42zM259.8 353.3h1.42v21.11h-1.42zM261.33 349.42h1.42v23.44h-1.42zM262.87 350.56h1.42v22.7h-1.42zM264.4 351.72h1.42v22.98h-1.42zM265.93 357h1.42v14.03h-1.42zM267.47 347.64h1.42v25.37h-1.42zM269 347.06h1.42v27.82h-1.42zM270.53 346.48h1.42v29.09h-1.42zM272.07 346.48h1.42v29.68h-1.42zM273.6 361.08h1.42v13.66h-1.42zM275.13 344.14h1.42v29.5h-1.42zM276.67 345.89h1.42v27.28h-1.42zM286.6 344.6h1.49v12.8h-1.49zM288.2 340.7h1.69v9.5h-1.69zM293.2 345.3h1.37v25.03h-1.37zM294.68 344.8h1.37v19.75h-1.37zM296.16 353.4h1.37v22.21h-1.37zM297.64 353.4h1.37v22.21h-1.37zM299.12 349.2h1.37v20.6h-1.37zM300.61 345.3h1.37v16.9h-1.37zM302.09 348.6h1.37v23.51h-1.37zM303.57 346.7h1.37v24.19h-1.37zM305.05 346.7h1.37v24.19h-1.37zM306.53 343h1.37v28.54h-1.37zM308.01 344.1h1.37v29.72h-1.37zM309.49 342.3h1.37v34.41h-1.37zM310.97 340.7h1.37v33.12h-1.37zM312.46 340.7h1.37v33.12h-1.37zM313.94 340.1h1.37v40.72h-1.37zM315.42 342.4h1.37v34.37h-1.37zM322 341.61h1.43v37.49h-1.43zM323.54 341.18h1.43v37.92h-1.43zM325.08 344.03h1.43v32.57h-1.43zM326.63 343.92h1.43v34.78h-1.43zM328.17 343.28h1.43v32.82h-1.43zM329.71 343.63h1.43v32.47h-1.43zM331.25 341.47h1.43v37.73h-1.43zM332.79 341.23h1.43v37.97h-1.43zM334.34 340.83h1.43v38.37h-1.43zM335.88 340.88h1.43v38.32h-1.43zM337.42 340.45h1.43v38.75h-1.43zM338.96 343.64h1.43v33.86h-1.43zM340.51 343.37h1.43v31.03h-1.43zM342.05 340.14h1.43v35.26h-1.43zM343.59 340.53h1.43v34.87h-1.43zM345.13 341.01h1.43v34.89h-1.43zM346.67 341.06h1.43v37.24h-1.43zM348.22 342.04h1.43v35.86h-1.43zM349.76 340.36h1.43v37.54h-1.43zM351.3 357.45h1.4v27.45h-1.4zM352.81 343.14h1.4v41.76h-1.4zM354.33 344.23h1.4v40.67h-1.4zM355.84 344.82h1.4v40.08h-1.4zM357.35 359.47h1.4v21.63h-1.4zM358.87 347.92h1.4v35.78h-1.4zM360.38 348.19h1.4v35.51h-1.4zM361.89 351.76h1.4v33.14h-1.4zM363.4 347.18h1.4v37.72h-1.4zM364.92 340.82h1.4v44.08h-1.4zM366.43 353.82h1.4v31.08h-1.4zM367.94 355.21h1.4v26.89h-1.4zM369.46 367.49h1.4v16.41h-1.4zM370.97 364.06h1.4v20.84h-1.4zM372.48 371.05h1.4v13.85h-1.4zM374 371.02h1.4v13.88h-1.4zM375.51 367.74h1.4v15.76h-1.4zM377.02 368.01h1.4v15.49h-1.4zM378.53 364.41h1.4v20.49h-1.4zM380.05 383.25h1.4v1.05h-1.4zM381.56 363.41h1.4v20.69h-1.4zM383.07 383.27h1.4v1.03h-1.4zM384.59 363.5h1.4v20.6h-1.4zM394.7 355.9h1.42v21.26h-1.42zM396.23 351.79h1.42v25.91h-1.42zM397.76 348.27h1.42v26.71h-1.42zM399.29 357.05h1.42v16.29h-1.42zM400.82 349.37h1.42v26.7h-1.42zM402.35 352.11h1.42v27.23h-1.42zM403.88 354.94h1.42v22.76h-1.42zM405.42 355.49h1.42v22.21h-1.42zM406.95 352.21h1.42v23.32h-1.42zM408.48 354.36h1.42v23.89h-1.42zM410.01 353.19h1.42v26.15h-1.42zM411.54 351.19h1.42v25.42h-1.42zM413.07 346.69h1.42v23.92h-1.42zM420 346h1.49v29.2h-1.49zM421.6 346h1.49v29.2h-1.49z"/><path fill="#40A63A" d="M28.5 382.14h1.43v0.52h-1.43zM31.57 378.35h1.43v0.23h-1.43zM33.11 375.63h1.43v0.5h-1.43zM34.64 382.08h1.43v0.58h-1.43zM36.18 383.24h1.43v0.23h-1.43zM37.71 373.54h1.43v0.15h-1.43zM40.79 379.71h1.43v0.5h-1.43zM42.32 380.75h1.43v0.27h-1.43zM43.86 374.81h1.43v0.5h-1.43zM45.39 378.94h1.43v0.45h-1.43zM46.93 375.2h1.43v0.12h-1.43zM50 376.2h1.42v0.5h-1.42zM71.47 369.91h1.42v0.6h-1.42zM82.2 363.5h1.89v0.6h-1.89zM84.2 383.7h1.64v1.2h-1.64zM85.95 383.7h1.64v1.2h-1.64zM87.7 365.69h1.64v0.8h-1.64zM89.45 369.18h1.64v0.8h-1.64zM91.2 362.22h1.43v0.77h-1.43zM92.74 364.15h1.43v0.59h-1.43zM94.28 363.42h1.43v0.15h-1.43zM95.82 360.99h1.43v0.25h-1.43zM97.36 360.98h1.43v0.26h-1.43zM98.91 363.53h1.43v0.64h-1.43zM100.45 362.88h1.43v0.74h-1.43zM101.99 363.96h1.43v0.2h-1.43zM103.53 364.21h1.43v0.53h-1.43zM105.07 362.94h1.43v0.63h-1.43zM106.61 362.35h1.43v0.64h-1.43zM108.15 363.43h1.43v0.14h-1.43zM109.69 363.4h1.43v0.75h-1.43zM111.24 363.64h1.43v0.51h-1.43zM112.78 365.5h1.43v0.4h-1.43zM114.32 367.38h1.43v0.27h-1.43zM115.86 363.98h1.43v0.75h-1.43zM117.4 353.45h1.62v0.8h-1.62zM119.13 354.61h1.62v0.8h-1.62zM120.87 356.13h1.62v0.8h-1.62zM126.3 356.36h1.44v0.8h-1.44zM127.85 351.5h1.44v1h-1.44zM129.41 350.92h1.44v1h-1.44zM135.62 356.36h1.44v0.8h-1.44zM137.18 356.36h1.44v0.8h-1.44zM140.28 355.78h1.44v0.8h-1.44zM151.44 347.04h1.53v0.8h-1.53zM203.8 352.3h1.35v1.2h-1.35zM209.63 348.8h1.35v1.2h-1.35zM211.09 348.8h1.35v1.2h-1.35zM212.54 348.8h1.35v0.6h-1.35zM241.4 351.72h1.42v1.5h-1.42zM258.27 352.3h1.42v1h-1.42zM259.8 352.3h1.42v1h-1.42zM261.33 348.22h1.42v1.2h-1.42zM265.93 355.8h1.42v1.2h-1.42zM273.6 359.88h1.42v1.2h-1.42zM288.2 340.1h1.69v0.6h-1.69zM299.12 348.2h1.37v1h-1.37zM302.09 347.6h1.37v1h-1.37zM303.57 345.2h1.37v1.5h-1.37zM305.05 345.2h1.37v1.5h-1.37zM351.3 339.45h1.4v18h-1.4zM352.81 339.14h1.4v4h-1.4zM354.33 339.53h1.4v4.7h-1.4zM355.84 339.02h1.4v5.8h-1.4zM357.35 339.07h1.4v20.4h-1.4zM358.87 339.22h1.4v8.7h-1.4zM360.38 339.49h1.4v8.7h-1.4zM361.89 339.56h1.4v12.2h-1.4zM363.4 339.58h1.4v7.6h-1.4zM364.92 339.12h1.4v1.7h-1.4zM366.43 339.22h1.4v14.6h-1.4zM367.94 339.51h1.4v15.7h-1.4zM369.46 339.49h1.4v28h-1.4zM370.97 339.56h1.4v24.5h-1.4zM372.48 339.05h1.4v32h-1.4zM374 339.02h1.4v32h-1.4zM375.51 343.74h1.4v24h-1.4zM377.02 344.01h1.4v24h-1.4zM378.53 339.41h1.4v25h-1.4zM380.05 339.25h1.4v44h-1.4zM381.56 339.41h1.4v24h-1.4zM383.07 339.27h1.4v44h-1.4zM384.59 339.5h1.4v24h-1.4zM386.1 338.9h1.32v45.61h-1.32zM387.53 338.9h1.32v45.15h-1.32zM388.97 338.9h1.32v45.75h-1.32zM390.4 338.9h1.32v45.31h-1.32zM391.83 338.9h1.32v45.59h-1.32zM393.27 338.9h1.32v45.56h-1.32zM394.7 355.37h1.42v0.53h-1.42zM396.23 351h1.42v0.79h-1.42zM397.76 347.73h1.42v0.54h-1.42zM399.29 356.46h1.42v0.6h-1.42zM402.35 351.55h1.42v0.56h-1.42zM403.88 354.82h1.42v0.12h-1.42zM405.42 354.82h1.42v0.67h-1.42zM406.95 352.1h1.42v0.11h-1.42zM408.48 354.28h1.42v0.08h-1.42zM411.54 351h1.42v0.19h-1.42zM413.07 346.1h1.42v0.59h-1.42z"/><path fill="#ACD1E5" d="M28.5 338.9h1.43v0.24h-1.43zM30.04 338.9h1.43v0.23h-1.43zM31.57 338.9h1.43v0.42h-1.43zM33.11 338.9h1.43v0.59h-1.43zM34.64 338.9h1.43v0.19h-1.43zM36.18 338.9h1.43v0.48h-1.43zM37.71 338.9h1.43v0.14h-1.43zM39.25 338.9h1.43v0.67h-1.43zM40.79 338.9h1.43v0.6h-1.43zM42.32 338.9h1.43v0.74h-1.43zM43.86 338.9h1.43v0.13h-1.43zM45.39 338.9h1.43v0.62h-1.43zM46.93 338.9h1.43v0.19h-1.43zM48.46 338.9h1.43v0.45h-1.43zM50 338.9h1.42v0.24h-1.42zM51.53 338.9h1.42v0.6h-1.42zM53.07 338.9h1.42v0.32h-1.42zM54.6 338.9h1.42v0.65h-1.42zM56.13 338.9h1.42v0.77h-1.42zM57.67 338.9h1.42v0.87h-1.42zM59.2 338.9h1.42v0.51h-1.42zM60.73 338.9h1.42v0.54h-1.42zM62.27 338.9h1.42v0.34h-1.42zM63.8 338.9h1.42v0.85h-1.42zM65.33 338.9h1.42v0.85h-1.42zM66.87 338.9h1.42v0.45h-1.42zM68.4 338.9h1.42v0.17h-1.42zM69.93 338.9h1.42v0.32h-1.42zM71.47 338.9h1.42v0.29h-1.42zM73 338.9h1.42v0.16h-1.42zM74.53 338.9h1.42v0.21h-1.42zM76.07 338.9h1.42v0.29h-1.42zM77.6 338.9h1.42v0.36h-1.42zM79.13 338.9h1.42v0.83h-1.42zM80.67 338.9h1.42v0.85h-1.42zM84.2 338.9h1.64v0.5h-1.64zM85.95 338.9h1.64v0.5h-1.64zM87.7 338.9h1.64v0.8h-1.64zM89.45 338.9h1.64v0.8h-1.64zM91.2 338.9h1.43v1.24h-1.43zM92.74 338.9h1.43v0.51h-1.43zM94.28 338.9h1.43v0.52h-1.43zM95.82 338.9h1.43v0.63h-1.43zM97.36 338.9h1.43v1.09h-1.43zM98.91 338.9h1.43v0.62h-1.43zM100.45 338.9h1.43v0.66h-1.43zM101.99 338.9h1.43v0.77h-1.43zM103.53 338.9h1.43v0.67h-1.43zM105.07 338.9h1.43v1.19h-1.43zM106.61 338.9h1.43v0.78h-1.43zM108.15 338.9h1.43v0.54h-1.43zM109.69 338.9h1.43v0.94h-1.43zM111.24 338.9h1.43v1.16h-1.43zM112.78 338.9h1.43v0.51h-1.43zM114.32 338.9h1.43v1.17h-1.43zM115.86 338.9h1.43v0.57h-1.43zM117.4 338.9h1.62v1.2h-1.62zM119.13 338.9h1.62v1.2h-1.62zM120.87 338.9h1.62v1.2h-1.62zM126.3 338.9h1.44v1.61h-1.44zM127.85 338.9h1.44v0.94h-1.44zM129.41 338.9h1.44v1.57h-1.44zM130.96 338.9h1.44v1.08h-1.44zM132.52 338.9h1.44v0.91h-1.44zM134.07 338.9h1.44v0.99h-1.44zM135.62 338.9h1.44v1.36h-1.44zM137.18 338.9h1.44v1.64h-1.44zM138.73 338.9h1.44v1.69h-1.44zM140.28 338.9h1.44v1.63h-1.44zM141.84 338.9h1.44v1.09h-1.44zM143.39 338.9h1.44v1.31h-1.44zM144.95 338.9h1.44v0.91h-1.44zM149.8 338.9h1.53v1.11h-1.53zM151.44 338.9h1.53v1.56h-1.53zM153.08 338.9h1.53v1.36h-1.53zM154.72 338.9h1.53v1.61h-1.53zM156.36 338.9h1.53v1.23h-1.53zM163.6 338.9h1.44v2.3h-1.44zM165.15 338.9h1.44v2.3h-1.44zM170 338.9h1.74v2.3h-1.74zM171.85 338.9h1.74v1.8h-1.74zM173.7 338.9h1.34v46h-1.34zM175.15 338.9h1.34v46h-1.34zM176.6 338.9h1.64v5.2h-1.64zM178.35 338.9h1.64v5.2h-1.64zM192 338.9h1.62v1.8h-1.62zM193.73 338.9h1.62v1.2h-1.62zM195.47 338.9h1.62v1.2h-1.62zM197.2 338.9h1.49v2.3h-1.49zM203.8 338.9h1.35v2.3h-1.35zM205.26 338.9h1.35v2.9h-1.35zM206.71 338.9h1.35v1.8h-1.35zM208.17 338.9h1.35v1.8h-1.35zM209.63 338.9h1.35v1.2h-1.35zM211.09 338.9h1.35v1.2h-1.35zM212.54 338.9h1.35v1.2h-1.35zM223.9 338.9h1.45v1.2h-1.45zM225.46 338.9h1.45v0.6h-1.45zM228.57 338.9h1.45v0.6h-1.45zM230.12 338.9h1.45v2.3h-1.45zM231.68 338.9h1.45v2.3h-1.45zM233.23 338.9h1.45v1.2h-1.45zM241.4 338.9h1.42v1.99h-1.42zM242.93 338.9h1.42v2.08h-1.42zM244.47 338.9h1.42v2.05h-1.42zM246 338.9h1.42v1.23h-1.42zM247.53 338.9h1.42v2.07h-1.42zM249.07 338.9h1.42v1.19h-1.42zM250.6 338.9h1.42v1.95h-1.42zM252.13 338.9h1.42v1.58h-1.42zM253.67 338.9h1.42v1.26h-1.42zM255.2 338.9h1.42v1.38h-1.42zM256.73 338.9h1.42v0.99h-1.42zM258.27 338.9h1.42v1.98h-1.42zM259.8 338.9h1.42v1.38h-1.42zM261.33 338.9h1.42v2h-1.42zM262.87 338.9h1.42v0.91h-1.42zM264.4 338.9h1.42v1.68h-1.42zM265.93 338.9h1.42v1.56h-1.42zM267.47 338.9h1.42v1.67h-1.42zM269 338.9h1.42v1.67h-1.42zM270.53 338.9h1.42v2.04h-1.42zM272.07 338.9h1.42v1.11h-1.42zM273.6 338.9h1.42v1.42h-1.42zM275.13 338.9h1.42v1.39h-1.42zM276.67 338.9h1.42v1.66h-1.42zM283.8 338.9h1.29v1h-1.29zM293.2 338.9h1.37v1.2h-1.37zM294.68 338.9h1.37v1.2h-1.37zM296.16 338.9h1.37v0.6h-1.37zM297.64 338.9h1.37v0.6h-1.37zM299.12 338.9h1.37v1.2h-1.37zM300.61 338.9h1.37v1.2h-1.37zM302.09 338.9h1.37v0.6h-1.37zM303.57 338.9h1.37v0.6h-1.37zM305.05 338.9h1.37v0.6h-1.37zM306.53 338.9h1.37v1.2h-1.37zM308.01 338.9h1.37v1.2h-1.37zM309.49 338.9h1.37v1.7h-1.37zM310.97 338.9h1.37v1.2h-1.37zM312.46 338.9h1.37v1.2h-1.37zM313.94 338.9h1.37v1.2h-1.37zM315.42 338.9h1.37v0.6h-1.37zM322 338.9h1.43v0.92h-1.43zM323.54 338.9h1.43v0.45h-1.43zM325.08 338.9h1.43v0.6h-1.43zM326.63 338.9h1.43v0.32h-1.43zM328.17 338.9h1.43v0.71h-1.43zM329.71 338.9h1.43v0.61h-1.43zM331.25 338.9h1.43v0.49h-1.43zM332.79 338.9h1.43v0.53h-1.43zM334.34 338.9h1.43v1.07h-1.43zM335.88 338.9h1.43v1h-1.43zM337.42 338.9h1.43v0.66h-1.43zM338.96 338.9h1.43v1.04h-1.43zM340.51 338.9h1.43v0.71h-1.43zM342.05 338.9h1.43v0.42h-1.43zM343.59 338.9h1.43v0.86h-1.43zM345.13 338.9h1.43v0.4h-1.43zM346.67 338.9h1.43v0.31h-1.43zM348.22 338.9h1.43v0.35h-1.43zM349.76 338.9h1.43v0.71h-1.43zM351.3 338.9h1.4v0.55h-1.4zM352.81 338.9h1.4v0.24h-1.4zM354.33 338.9h1.4v0.63h-1.4zM355.84 338.9h1.4v0.12h-1.4zM357.35 338.9h1.4v0.17h-1.4zM358.87 338.9h1.4v0.32h-1.4zM360.38 338.9h1.4v0.59h-1.4zM361.89 338.9h1.4v0.66h-1.4zM363.4 338.9h1.4v0.68h-1.4zM364.92 338.9h1.4v0.22h-1.4zM366.43 338.9h1.4v0.32h-1.4zM367.94 338.9h1.4v0.61h-1.4zM369.46 338.9h1.4v0.59h-1.4zM370.97 338.9h1.4v0.66h-1.4zM372.48 338.9h1.4v0.15h-1.4zM374 338.9h1.4v0.12h-1.4zM375.51 338.9h1.4v0.34h-1.4zM377.02 338.9h1.4v0.61h-1.4zM378.53 338.9h1.4v0.51h-1.4zM380.05 338.9h1.4v0.35h-1.4zM381.56 338.9h1.4v0.51h-1.4zM383.07 338.9h1.4v0.37h-1.4zM384.59 338.9h1.4v0.6h-1.4zM394.7 338.9h1.42v1.99h-1.42zM396.23 338.9h1.42v2.49h-1.42zM397.76 338.9h1.42v2.71h-1.42zM399.29 338.9h1.42v2.46h-1.42zM400.82 338.9h1.42v2.68h-1.42zM402.35 338.9h1.42v2.55h-1.42zM403.88 338.9h1.42v2.17h-1.42zM405.42 338.9h1.42v1.97h-1.42zM406.95 338.9h1.42v2.88h-1.42zM408.48 338.9h1.42v2.32h-1.42zM410.01 338.9h1.42v1.94h-1.42zM411.54 338.9h1.42v2.65h-1.42zM413.07 338.9h1.42v2.71h-1.42zM414.6 338.9h1.24v46h-1.24zM415.95 338.9h1.24v46h-1.24zM417.3 338.9h1.24v46h-1.24zM418.65 338.9h1.24v46h-1.24zM420 338.9h1.49v2.8h-1.49zM421.6 338.9h1.49v2.8h-1.49z"/><path fill="#2E81B9" d="M28.5 339.14h1.43v0.48h-1.43zM30.04 339.13h1.43v0.71h-1.43zM31.57 339.32h1.43v0.85h-1.43zM33.11 339.49h1.43v0.39h-1.43zM34.64 339.09h1.43v0.8h-1.43zM36.18 339.38h1.43v1.03h-1.43zM37.71 339.04h1.43v0.84h-1.43zM39.25 339.57h1.43v0.89h-1.43zM40.79 339.5h1.43v0.77h-1.43zM42.32 339.64h1.43v0.85h-1.43zM43.86 339.03h1.43v0.43h-1.43zM45.39 339.52h1.43v0.73h-1.43zM46.93 339.09h1.43v0.57h-1.43zM48.46 339.35h1.43v0.34h-1.43zM50 339.14h1.42v0.8h-1.42zM51.53 339.5h1.42v0.8h-1.42zM53.07 339.22h1.42v0.8h-1.42zM54.6 339.55h1.42v0.8h-1.42zM56.13 339.67h1.42v0.8h-1.42zM57.67 339.77h1.42v0.8h-1.42zM59.2 339.41h1.42v0.8h-1.42zM60.73 339.44h1.42v0.8h-1.42zM62.27 339.24h1.42v1.3h-1.42zM63.8 339.75h1.42v1.3h-1.42zM65.33 339.75h1.42v1.3h-1.42zM66.87 339.35h1.42v1.3h-1.42zM68.4 339.07h1.42v1.3h-1.42zM69.93 339.22h1.42v1.3h-1.42zM71.47 339.19h1.42v2h-1.42zM73 339.06h1.42v2h-1.42zM74.53 339.11h1.42v2h-1.42zM76.07 339.19h1.42v2h-1.42zM77.6 339.26h1.42v2h-1.42zM79.13 339.73h1.42v2h-1.42zM80.67 339.75h1.42v2h-1.42zM82.2 338.9h1.89v2.5h-1.89zM84.2 339.4h1.64v1.5h-1.64zM85.95 339.4h1.64v1.5h-1.64zM87.7 339.7h1.64v2.5h-1.64zM89.45 339.7h1.64v3.5h-1.64zM91.2 340.14h1.43v3.65h-1.43zM92.74 339.41h1.43v2.75h-1.43zM94.28 339.42h1.43v2.29h-1.43zM95.82 339.53h1.43v4.21h-1.43zM97.36 339.99h1.43v2.77h-1.43zM98.91 339.52h1.43v2.04h-1.43zM100.45 339.56h1.43v3.03h-1.43zM101.99 339.67h1.43v2.36h-1.43zM103.53 339.57h1.43v2.43h-1.43zM105.07 340.09h1.43v4.11h-1.43zM106.61 339.68h1.43v2.46h-1.43zM108.15 339.44h1.43v2.54h-1.43zM109.69 339.84h1.43v2.01h-1.43zM111.24 340.06h1.43v2.78h-1.43zM112.78 339.41h1.43v3.42h-1.43zM114.32 340.07h1.43v4.26h-1.43zM115.86 339.47h1.43v2.92h-1.43zM117.4 340.1h1.62v4.5h-1.62zM119.13 340.1h1.62v4.5h-1.62zM120.87 340.1h1.62v4.5h-1.62zM126.3 340.51h1.44v3.65h-1.44zM127.85 339.84h1.44v2.83h-1.44zM129.41 340.47h1.44v3.59h-1.44zM130.96 339.98h1.44v4.21h-1.44zM132.52 339.81h1.44v2.83h-1.44zM134.07 339.89h1.44v4.07h-1.44zM135.62 340.26h1.44v3.49h-1.44zM137.18 340.54h1.44v3.75h-1.44zM138.73 340.59h1.44v3.65h-1.44zM140.28 340.53h1.44v3.13h-1.44zM141.84 339.99h1.44v4.1h-1.44zM143.39 340.21h1.44v3.91h-1.44zM144.95 339.81h1.44v3.91h-1.44zM149.8 340.01h1.53v2h-1.53zM151.44 340.46h1.53v2.28h-1.53zM153.08 340.26h1.53v1.66h-1.53zM154.72 340.51h1.53v2.46h-1.53zM156.36 340.13h1.53v1.67h-1.53zM163.6 341.2h1.44v6.4h-1.44zM165.15 341.2h1.44v6.4h-1.44zM166.7 338.9h1.54v46h-1.54zM168.35 338.9h1.54v46h-1.54zM170 341.2h1.74v8.2h-1.74zM171.85 340.7h1.74v9.3h-1.74zM176.6 344.1h1.64v9.3h-1.64zM178.35 344.1h1.64v7h-1.64zM180.1 338.9h1.16v46h-1.16zM181.37 338.9h1.16v46h-1.16zM182.63 338.9h1.16v46h-1.16zM188.9 338.9h1.44v34.4h-1.44zM190.45 338.9h1.44v34.4h-1.44zM192 340.7h1.62v13.4h-1.62zM193.73 340.1h1.62v11h-1.62zM195.47 340.1h1.62v13.4h-1.62zM197.2 341.2h1.49v4h-1.49zM203.8 341.2h1.35v3.5h-1.35zM205.26 341.8h1.35v2.3h-1.35zM206.71 340.7h1.35v2.9h-1.35zM208.17 340.7h1.35v3.5h-1.35zM209.63 340.1h1.35v3.5h-1.35zM211.09 340.1h1.35v3.5h-1.35zM212.54 340.1h1.35v3.5h-1.35zM225.46 339.5h1.45v2.3h-1.45zM228.57 339.5h1.45v2.9h-1.45zM230.12 341.2h1.45v2.3h-1.45zM231.68 341.2h1.45v2.3h-1.45zM234.79 338.9h1.45v1.2h-1.45zM241.4 340.89h1.42v2.11h-1.42zM242.93 340.98h1.42v2.18h-1.42zM244.47 340.95h1.42v2.55h-1.42zM246 340.13h1.42v1.24h-1.42zM247.53 340.97h1.42v2.32h-1.42zM249.07 340.09h1.42v2.88h-1.42zM250.6 340.85h1.42v2.17h-1.42zM252.13 340.48h1.42v1.49h-1.42zM253.67 340.16h1.42v3.05h-1.42zM255.2 340.28h1.42v2.24h-1.42zM256.73 339.89h1.42v1.29h-1.42zM258.27 340.88h1.42v1.9h-1.42zM259.8 340.28h1.42v2.47h-1.42zM261.33 340.9h1.42v1.9h-1.42zM262.87 339.81h1.42v1.52h-1.42zM264.4 340.58h1.42v2.04h-1.42zM265.93 340.46h1.42v1.2h-1.42zM267.47 340.57h1.42v1.72h-1.42zM269 340.57h1.42v2.12h-1.42zM270.53 340.94h1.42v1.81h-1.42zM272.07 340.01h1.42v2.07h-1.42zM273.6 340.32h1.42v1.37h-1.42zM275.13 340.29h1.42v2.71h-1.42zM276.67 340.56h1.42v1.96h-1.42zM286.6 338.9h1.49v1.7h-1.49zM288.2 338.9h1.69v1.2h-1.69zM293.2 340.1h1.37v1.7h-1.37zM296.16 339.5h1.37v5.2h-1.37zM297.64 339.5h1.37v5.2h-1.37zM299.12 340.1h1.37v1.7h-1.37zM300.61 340.1h1.37v2.9h-1.37zM302.09 339.5h1.37v2.9h-1.37zM303.57 339.5h1.37v1.7h-1.37zM305.05 339.5h1.37v1.7h-1.37zM308.01 340.1h1.37v4h-1.37zM322 339.82h1.43v1.79h-1.43zM323.54 339.35h1.43v1.83h-1.43zM325.08 339.5h1.43v2.03h-1.43zM326.63 339.22h1.43v1.2h-1.43zM328.17 339.61h1.43v1.17h-1.43zM329.71 339.51h1.43v1.62h-1.43zM331.25 339.39h1.43v2.07h-1.43zM332.79 339.43h1.43v1.8h-1.43zM334.34 339.97h1.43v0.86h-1.43zM335.88 339.9h1.43v0.98h-1.43zM337.42 339.56h1.43v0.89h-1.43zM338.96 339.94h1.43v1.2h-1.43zM340.51 339.61h1.43v2.25h-1.43zM342.05 339.32h1.43v0.83h-1.43zM343.59 339.76h1.43v0.77h-1.43zM345.13 339.3h1.43v1.11h-1.43zM346.67 339.21h1.43v1.25h-1.43zM348.22 339.25h1.43v2.19h-1.43zM349.76 339.61h1.43v0.75h-1.43zM394.7 340.89h1.42v2.87h-1.42zM396.23 341.39h1.42v3.07h-1.42zM397.76 341.61h1.42v3.15h-1.42zM399.29 341.36h1.42v2.99h-1.42zM400.82 341.58h1.42v2.87h-1.42zM402.35 341.45h1.42v2h-1.42zM403.88 341.07h1.42v2.17h-1.42zM405.42 340.87h1.42v1.98h-1.42zM406.95 341.78h1.42v3.1h-1.42zM408.48 341.22h1.42v1.85h-1.42zM410.01 340.84h1.42v2.95h-1.42zM411.54 341.55h1.42v3.06h-1.42zM413.07 341.61h1.42v2.98h-1.42zM420 341.7h1.49v1.6h-1.49zM421.6 341.7h1.49v1.6h-1.49z"/><path fill="#B7E192" d="M28.5 339.62h1.43v42.52h-1.43zM30.04 339.84h1.43v41.19h-1.43zM31.57 340.18h1.43v38.18h-1.43zM33.11 339.88h1.43v35.74h-1.43zM34.64 339.89h1.43v42.2h-1.43zM36.18 340.42h1.43v42.83h-1.43zM37.71 339.88h1.43v33.66h-1.43zM39.25 340.46h1.43v41.28h-1.43zM40.79 340.28h1.43v39.44h-1.43zM42.32 340.48h1.43v40.27h-1.43zM43.86 339.46h1.43v35.35h-1.43zM45.39 340.25h1.43v38.69h-1.43zM46.93 339.66h1.43v35.54h-1.43zM48.46 339.68h1.43v36.45h-1.43zM50 339.94h1.42v36.26h-1.42zM51.53 340.3h1.42v42.82h-1.42zM53.07 340.02h1.42v41.83h-1.42zM54.6 340.35h1.42v42.02h-1.42zM56.13 340.47h1.42v29.57h-1.42zM57.67 340.57h1.42v29.24h-1.42zM59.2 340.21h1.42v38.63h-1.42zM60.73 340.24h1.42v38.69h-1.42zM62.27 340.54h1.42v34.64h-1.42zM63.8 341.05h1.42v29.29h-1.42zM65.33 341.05h1.42v28.19h-1.42zM66.87 340.65h1.42v29.36h-1.42zM68.4 340.37h1.42v40.48h-1.42zM69.93 340.52h1.42v30.74h-1.42zM71.47 341.19h1.42v28.72h-1.42zM73 341.06h1.42v30.93h-1.42zM74.53 341.11h1.42v27.34h-1.42zM76.07 341.19h1.42v26.86h-1.42zM77.6 341.26h1.42v33.64h-1.42zM79.13 341.73h1.42v42.22h-1.42zM80.67 341.75h1.42v42.06h-1.42zM82.2 341.4h1.89v22.1h-1.89zM84.2 340.9h1.64v42.8h-1.64zM85.95 340.9h1.64v42.8h-1.64zM87.7 342.2h1.64v23.49h-1.64zM89.45 343.2h1.64v25.98h-1.64zM91.2 343.79h1.43v18.43h-1.43zM92.74 342.15h1.43v22h-1.43zM94.28 341.71h1.43v21.72h-1.43zM95.82 343.74h1.43v17.26h-1.43zM97.36 342.76h1.43v18.22h-1.43zM98.91 341.56h1.43v21.97h-1.43zM100.45 342.59h1.43v20.29h-1.43zM101.99 342.03h1.43v21.92h-1.43zM103.53 342h1.43v22.21h-1.43zM105.07 344.2h1.43v18.74h-1.43zM106.61 342.14h1.43v20.2h-1.43zM108.15 341.98h1.43v21.45h-1.43zM109.69 341.85h1.43v21.55h-1.43zM111.24 342.84h1.43v20.8h-1.43zM112.78 342.82h1.43v22.68h-1.43zM114.32 344.33h1.43v23.05h-1.43zM115.86 342.39h1.43v21.59h-1.43zM117.4 344.6h1.62v8.85h-1.62zM119.13 344.6h1.62v10.01h-1.62zM120.87 344.6h1.62v11.53h-1.62zM126.3 344.16h1.44v12.2h-1.44zM127.85 342.67h1.44v8.83h-1.44zM129.41 344.06h1.44v6.86h-1.44zM130.96 344.2h1.44v8.88h-1.44zM132.52 342.63h1.44v15.11h-1.44zM134.07 343.96h1.44v5.04h-1.44zM135.62 343.76h1.44v12.6h-1.44zM137.18 344.29h1.44v12.07h-1.44zM138.73 344.24h1.44v14.09h-1.44zM140.28 343.67h1.44v12.11h-1.44zM141.84 344.09h1.44v13.66h-1.44zM143.39 344.12h1.44v15.37h-1.44zM144.95 343.73h1.44v12.87h-1.44zM149.8 342.01h1.53v1.75h-1.53zM151.44 342.74h1.53v4.3h-1.53zM153.08 341.93h1.53v9.41h-1.53zM154.72 342.97h1.53v6.04h-1.53zM156.36 341.79h1.53v8.37h-1.53zM163.6 347.6h1.44v9.9h-1.44zM165.15 347.6h1.44v9.9h-1.44zM170 349.4h1.74v10.5h-1.74zM171.85 350h1.74v3.4h-1.74zM176.6 353.4h1.64v7h-1.64zM178.35 351.1h1.64v9.3h-1.64zM192 354.1h1.62v2.2h-1.62zM193.73 351.1h1.62v7.6h-1.62zM195.47 353.5h1.62v3.4h-1.62zM197.2 345.2h1.49v3h-1.49zM203.8 344.7h1.35v7.6h-1.35zM205.26 344.1h1.35v4.7h-1.35zM206.71 343.6h1.35v4h-1.35zM208.17 344.2h1.35v4h-1.35zM209.63 343.6h1.35v5.2h-1.35zM211.09 343.6h1.35v5.2h-1.35zM212.54 343.6h1.35v5.2h-1.35zM225.46 341.8h1.45v4h-1.45zM228.57 342.4h1.45v10h-1.45zM233.23 340.1h1.45v3h-1.45zM236.34 338.9h1.45v2.3h-1.45zM241.4 343h1.42v8.72h-1.42zM242.93 343.16h1.42v1.56h-1.42zM244.47 343.49h1.42v3.56h-1.42zM246 341.37h1.42v17.92h-1.42zM247.53 343.29h1.42v16h-1.42zM249.07 342.97h1.42v10.5h-1.42zM250.6 343.02h1.42v9.87h-1.42zM252.13 341.97h1.42v10.33h-1.42zM253.67 343.21h1.42v8.51h-1.42zM255.2 342.52h1.42v8.04h-1.42zM256.73 341.19h1.42v8.79h-1.42zM258.27 342.78h1.42v9.52h-1.42zM259.8 342.75h1.42v9.55h-1.42zM261.33 342.8h1.42v5.43h-1.42zM262.87 341.33h1.42v9.22h-1.42zM264.4 342.61h1.42v9.11h-1.42zM265.93 341.66h1.42v14.14h-1.42zM267.47 342.29h1.42v5.36h-1.42zM269 342.69h1.42v4.37h-1.42zM270.53 342.76h1.42v3.72h-1.42zM272.07 342.08h1.42v4.4h-1.42zM273.6 341.69h1.42v18.19h-1.42zM275.13 343h1.42v1.14h-1.42zM276.67 342.52h1.42v3.37h-1.42zM286.6 340.6h1.49v4h-1.49zM293.2 341.8h1.37v3.5h-1.37zM294.68 340.1h1.37v4.7h-1.37zM296.16 344.7h1.37v8.7h-1.37zM297.64 344.7h1.37v8.7h-1.37zM299.12 341.8h1.37v6.4h-1.37zM300.61 343h1.37v2.3h-1.37zM302.09 342.4h1.37v5.2h-1.37zM303.57 341.2h1.37v4h-1.37zM305.05 341.2h1.37v4h-1.37zM306.53 340.1h1.37v2.9h-1.37zM309.49 340.6h1.37v1.7h-1.37zM310.97 340.1h1.37v0.6h-1.37zM312.46 340.1h1.37v0.6h-1.37zM315.42 339.5h1.37v2.9h-1.37zM325.08 341.53h1.43v2.5h-1.43zM326.63 340.42h1.43v3.5h-1.43zM328.17 340.78h1.43v2.5h-1.43zM329.71 341.13h1.43v2.5h-1.43zM338.96 341.14h1.43v2.5h-1.43zM340.51 341.87h1.43v1.5h-1.43zM345.13 340.41h1.43v0.6h-1.43zM346.67 340.46h1.43v0.6h-1.43zM348.22 341.44h1.43v0.6h-1.43zM375.51 339.24h1.4v4.5h-1.4zM377.02 339.51h1.4v4.5h-1.4zM394.7 343.77h1.42v11.6h-1.42zM396.23 344.46h1.42v6.54h-1.42zM397.76 344.76h1.42v2.97h-1.42zM399.29 344.35h1.42v12.11h-1.42zM400.82 344.45h1.42v4.92h-1.42zM402.35 343.45h1.42v8.1h-1.42zM403.88 343.25h1.42v11.57h-1.42zM405.42 342.85h1.42v11.97h-1.42zM406.95 344.87h1.42v7.22h-1.42zM408.48 343.07h1.42v11.21h-1.42zM410.01 343.78h1.42v9.4h-1.42zM411.54 344.61h1.42v6.39h-1.42zM413.07 344.59h1.42v1.51h-1.42zM420 343.3h1.49v2.7h-1.49zM421.6 343.3h1.49v2.7h-1.49z"/><path fill="#E5292B" d="M59.2 378.84h1.42v0.5h-1.42zM60.73 378.93h1.42v0.5h-1.42zM65.33 372.24h1.42v0.6h-1.42zM91.2 372.01h1.43v0.31h-1.43zM92.74 370.59h1.43v0.55h-1.43zM94.28 370.46h1.43v0.1h-1.43zM95.82 371.22h1.43v0.51h-1.43zM97.36 371.18h1.43v0.55h-1.43zM100.45 371.67h1.43v0.69h-1.43zM101.99 371.07h1.43v0.66h-1.43zM103.53 371.68h1.43v0.64h-1.43zM105.07 372.52h1.43v0.38h-1.43zM106.61 373.11h1.43v0.37h-1.43zM108.15 371.8h1.43v0.51h-1.43zM109.69 372.68h1.43v0.22h-1.43zM111.24 372.76h1.43v0.14h-1.43zM112.78 373.21h1.43v0.27h-1.43zM114.32 373.45h1.43v0.61h-1.43zM115.86 373.1h1.43v0.38h-1.43zM134.07 356.36h1.44v0.8h-1.44zM149.8 349.17h1.53v1h-1.53zM163.6 368.5h1.44v1.8h-1.44zM165.15 368.5h1.44v1.8h-1.44zM170 369.7h1.74v1.2h-1.74zM171.85 369.7h1.74v1.2h-1.74zM176.6 369.2h1.64v1.7h-1.64zM178.35 369.2h1.64v1.7h-1.64zM192 369.7h1.62v1.2h-1.62zM193.73 367.4h1.62v2.3h-1.62zM195.47 369.7h1.62v1.2h-1.62zM197.2 356.9h1.49v28h-1.49zM198.8 338.9h1.56v46h-1.56zM200.47 338.9h1.56v46h-1.56zM202.13 338.9h1.56v46h-1.56zM203.8 369.49h1.35v0.71h-1.35zM205.26 371.73h1.35v0.67h-1.35zM206.71 372.47h1.35v0.63h-1.35zM208.17 372.33h1.35v0.87h-1.35zM209.63 371.85h1.35v0.35h-1.35zM211.09 371.51h1.35v0.69h-1.35zM212.54 371.87h1.35v0.33h-1.35zM241.4 374.63h1.42v0.36h-1.42zM242.93 375.79h1.42v0.37h-1.42zM244.47 374.27h1.42v0.14h-1.42zM246 375.38h1.42v0.2h-1.42zM247.53 375.52h1.42v0.05h-1.42zM249.07 373.94h1.42v0.47h-1.42zM250.6 372.24h1.42v0.42h-1.42zM252.13 374.44h1.42v0.55h-1.42zM253.67 373.87h1.42v0.55h-1.42zM255.2 372.92h1.42v0.33h-1.42zM256.73 373.6h1.42v0.22h-1.42zM258.27 374.36h1.42v0.05h-1.42zM261.33 372.86h1.42v0.38h-1.42zM262.87 373.26h1.42v0.57h-1.42zM264.4 374.7h1.42v0.29h-1.42zM265.93 371.03h1.42v0.47h-1.42zM267.47 373.01h1.42v0.23h-1.42zM269 374.88h1.42v0.11h-1.42zM270.53 375.57h1.42v0.59h-1.42zM273.6 374.74h1.42v0.25h-1.42zM275.13 373.65h1.42v0.18h-1.42zM276.67 373.18h1.42v0.07h-1.42z"/><path fill="#744AA1" d="M163.6 383.1h1.44v0.6h-1.44zM165.15 383.1h1.44v0.6h-1.44zM183.9 338.9h1.56v46h-1.56zM185.57 338.9h1.56v46h-1.56zM187.23 338.9h1.56v46h-1.56zM188.9 373.3h1.44v11.6h-1.44zM190.45 373.3h1.44v11.6h-1.44z"/><path fill="#FDC378" d="M316.9 338.9h1.59v46h-1.59zM318.6 338.9h1.59v46h-1.59zM320.3 338.9h1.59v46h-1.59z"/></g>
<path d="M28.5 384.9v9.5M65.4 384.9v9.5M90 384.9v9.5M117.4 384.9v9.5M163.6 384.9v9.5M204.1 384.9v9.5M244.4 384.9v9.5M274.6 384.9v9.5M316.9 384.9v9.5M360.3 384.9v9.5M422.8 384.9v9.5" stroke="#bdbdbd" stroke-width="0.5" fill="none"/>
<text font-size="6.3" stroke="#111" stroke-width="0.15" transform="translate(46.1 389.4) rotate(90)">Daan</text>
<text font-size="6.3" stroke="#111" stroke-width="0.15" textLength="44.6" lengthAdjust="spacingAndGlyphs" transform="translate(76.9 389.4) rotate(90)">Inner_Mongolian</text>
<text font-size="6.3" stroke="#111" stroke-width="0.15" transform="translate(103 389.4) rotate(90)">Kazakh</text>
<text font-size="6.3" stroke="#111" stroke-width="0.15" transform="translate(136.9 389.4) rotate(90)">Chakouyi</text>
<text font-size="6.3" stroke="#111" stroke-width="0.15" transform="translate(180.7 389.4) rotate(90)">Napu</text>
<text font-size="6.3" stroke="#111" stroke-width="0.15" transform="translate(222.6 389.4) rotate(90)">Jinjiang</text>
<text font-size="6.3" stroke="#111" stroke-width="0.15" transform="translate(256.9 389.4) rotate(90)">Lijiang</text>
<text font-size="6.3" stroke="#111" stroke-width="0.15" transform="translate(292.8 389.4) rotate(90)">Baise</text>
<text font-size="6.3" stroke="#111" stroke-width="0.15" transform="translate(335.9 389.4) rotate(90)">Zhaotong</text>
<text font-size="6.3" stroke="#111" stroke-width="0.15" transform="translate(386.6 389.4) rotate(90)">Tengchong</text>
<text font-size="10.5" x="3.7" y="367.5" textLength="21.8" lengthAdjust="spacingAndGlyphs">K=11</text>
<g filter="url(#soft)"><path fill="#B66436" d="M28.5 495.51h1.43v0.29h-1.43zM30.04 494.65h1.43v1.15h-1.43zM31.57 495.45h1.43v0.35h-1.43zM33.11 494.86h1.43v0.94h-1.43zM34.64 494.76h1.43v1.04h-1.43zM36.18 494.85h1.43v0.95h-1.43zM37.71 495.3h1.43v0.5h-1.43zM39.25 495.25h1.43v0.55h-1.43zM40.79 494.88h1.43v0.92h-1.43zM42.32 494.63h1.43v1.17h-1.43zM43.86 494.94h1.43v0.86h-1.43zM45.39 495.06h1.43v0.74h-1.43zM46.93 495.21h1.43v0.59h-1.43zM48.46 495.19h1.43v0.61h-1.43zM50 494.88h1.44v0.92h-1.44zM51.55 495.17h1.44v0.63h-1.44zM53.09 495.07h1.44v0.73h-1.44zM54.64 494.97h1.44v0.83h-1.44zM56.19 494.97h1.44v0.83h-1.44zM57.74 495.56h1.44v0.24h-1.44zM59.28 495.37h1.44v0.43h-1.44zM60.83 494.89h1.44v0.91h-1.44zM62.38 495.03h1.44v0.77h-1.44zM63.93 494.76h1.44v1.04h-1.44zM65.47 495.55h1.44v0.25h-1.44zM67.02 495.37h1.44v0.43h-1.44zM68.57 495.1h1.44v0.7h-1.44zM70.12 494.85h1.44v0.95h-1.44zM71.66 495.4h1.44v0.4h-1.44zM73.21 494.84h1.44v0.96h-1.44zM74.76 495.19h1.44v0.61h-1.44zM76.31 495.29h1.44v0.51h-1.44zM77.85 494.77h1.44v1.03h-1.44zM79.4 449.8h1.29v46h-1.29zM80.8 449.8h1.29v46h-1.29zM82.2 495.3h1.89v0.5h-1.89zM84.2 495.5h1.49v0.3h-1.49zM85.8 495.5h1.49v0.3h-1.49zM87.4 495.69h1.42v0.11h-1.42zM88.93 495.58h1.42v0.22h-1.42zM90.46 495.33h1.42v0.47h-1.42zM91.99 495.1h1.42v0.7h-1.42zM93.52 495.32h1.42v0.48h-1.42zM95.05 495.52h1.42v0.28h-1.42zM96.58 495.24h1.42v0.56h-1.42zM98.11 494.85h1.42v0.95h-1.42zM99.64 495.12h1.42v0.68h-1.42zM101.17 495.2h1.42v0.6h-1.42zM102.7 494.93h1.42v0.87h-1.42zM104.23 494.85h1.42v0.95h-1.42zM105.76 495.41h1.42v0.39h-1.42zM107.29 495.05h1.42v0.75h-1.42zM108.82 494.94h1.42v0.86h-1.42zM110.35 495.72h1.42v0.08h-1.42zM111.88 495.54h1.42v0.26h-1.42zM113.41 495.15h1.42v0.65h-1.42zM114.94 495.2h1.42v0.6h-1.42zM116.47 494.93h1.42v0.87h-1.42zM118 495.5h1.42v0.3h-1.42zM119.53 495.5h1.42v0.3h-1.42zM121.07 495.5h1.42v0.3h-1.42zM126.3 495.26h1.44v0.54h-1.44zM127.85 495.75h1.44v0.05h-1.44zM129.41 495.36h1.44v0.44h-1.44zM130.96 495.16h1.44v0.64h-1.44zM132.52 495.48h1.44v0.32h-1.44zM134.07 495.53h1.44v0.27h-1.44zM135.62 495.47h1.44v0.33h-1.44zM137.18 495.71h1.44v0.09h-1.44zM140.28 495.35h1.44v0.45h-1.44zM141.84 495.15h1.44v0.65h-1.44zM143.39 495.01h1.44v0.79h-1.44zM144.95 495.72h1.44v0.08h-1.44zM149.8 495.62h1.53v0.18h-1.53zM151.44 495.31h1.53v0.49h-1.53zM153.08 495.62h1.53v0.18h-1.53zM154.72 495.34h1.53v0.46h-1.53zM156.36 495.24h1.53v0.56h-1.53zM203.8 495.28h1.35v0.52h-1.35zM205.26 495.6h1.35v0.2h-1.35zM206.71 495.37h1.35v0.43h-1.35zM209.63 495.64h1.35v0.16h-1.35zM211.09 495.29h1.35v0.51h-1.35zM212.54 495.53h1.35v0.27h-1.35zM241.4 495.16h1.42v0.64h-1.42zM242.93 495.39h1.42v0.41h-1.42zM244.47 495.21h1.42v0.59h-1.42zM246 495.42h1.42v0.38h-1.42zM247.53 495.2h1.42v0.6h-1.42zM249.07 495.55h1.42v0.25h-1.42zM250.6 495.3h1.42v0.5h-1.42zM252.13 495.52h1.42v0.28h-1.42zM253.67 495.69h1.42v0.11h-1.42zM255.2 495.62h1.42v0.18h-1.42zM256.73 495.11h1.42v0.69h-1.42zM258.27 495.71h1.42v0.09h-1.42zM259.8 495.33h1.42v0.47h-1.42zM261.33 495.02h1.42v0.78h-1.42zM262.87 495.52h1.42v0.28h-1.42zM264.4 495.07h1.42v0.73h-1.42zM265.93 495.58h1.42v0.22h-1.42zM267.47 495.16h1.42v0.64h-1.42zM269 495.21h1.42v0.59h-1.42zM270.53 495.12h1.42v0.68h-1.42zM272.07 495.7h1.42v0.1h-1.42zM273.6 495.24h1.42v0.56h-1.42zM275.13 495.37h1.42v0.43h-1.42zM276.67 495.24h1.42v0.56h-1.42zM394.7 495.34h1.42v0.46h-1.42zM396.23 495.21h1.42v0.59h-1.42zM397.76 495.29h1.42v0.51h-1.42zM399.29 495.61h1.42v0.19h-1.42zM400.82 495.68h1.42v0.12h-1.42zM402.35 495.71h1.42v0.09h-1.42zM405.42 495.39h1.42v0.41h-1.42zM406.95 495.64h1.42v0.16h-1.42zM408.48 495.75h1.42v0.05h-1.42zM410.01 495.74h1.42v0.06h-1.42zM411.54 495.31h1.42v0.49h-1.42zM413.07 495.35h1.42v0.45h-1.42z"/><path fill="#2E81B9" d="M28.5 449.8h1.43v0.59h-1.43zM30.04 449.8h1.43v1.69h-1.43zM31.57 449.8h1.43v1.69h-1.43zM33.11 449.8h1.43v2.42h-1.43zM34.64 449.8h1.43v0.59h-1.43zM36.18 449.8h1.43v0.59h-1.43zM37.71 449.8h1.43v1.69h-1.43zM39.25 449.8h1.43v2.06h-1.43zM40.79 449.8h1.43v0.59h-1.43zM42.32 449.8h1.43v0.59h-1.43zM43.86 449.8h1.43v1.32h-1.43zM45.39 449.8h1.43v1.69h-1.43zM46.93 449.8h1.43v1.69h-1.43zM48.46 449.8h1.43v0.95h-1.43zM50 449.8h1.44v2.8h-1.44zM51.55 449.8h1.44v0.5h-1.44zM53.09 449.8h1.44v0.5h-1.44zM54.64 449.8h1.44v0.5h-1.44zM56.19 449.8h1.44v3.7h-1.44zM57.74 449.8h1.44v3.7h-1.44zM59.28 449.8h1.44v1.4h-1.44zM60.83 449.8h1.44v1.4h-1.44zM62.38 449.8h1.44v3.7h-1.44zM63.93 449.8h1.44v3.3h-1.44zM65.47 449.8h1.44v3.3h-1.44zM67.02 449.8h1.44v3.3h-1.44zM68.57 449.8h1.44v1.4h-1.44zM70.12 449.8h1.44v4.7h-1.44zM71.66 449.8h1.44v4.7h-1.44zM73.21 449.8h1.44v4.7h-1.44zM74.76 449.8h1.44v3.7h-1.44zM76.31 449.8h1.44v3.7h-1.44zM77.85 449.8h1.44v1.9h-1.44zM82.2 449.8h1.89v2.8h-1.89zM84.2 449.8h1.49v0.6h-1.49zM85.8 449.8h1.49v0.6h-1.49zM87.4 449.8h1.42v5.36h-1.42zM88.93 449.8h1.42v6.53h-1.42zM90.46 449.8h1.42v7.11h-1.42zM91.99 449.8h1.42v8.28h-1.42zM93.52 449.8h1.42v8.28h-1.42zM95.05 449.8h1.42v8.28h-1.42zM96.58 449.8h1.42v8.86h-1.42zM98.11 449.8h1.42v8.28h-1.42zM99.64 449.8h1.42v8.28h-1.42zM101.17 449.8h1.42v7.69h-1.42zM102.7 449.8h1.42v7.11h-1.42zM104.23 449.8h1.42v7.11h-1.42zM105.76 449.8h1.42v7.11h-1.42zM107.29 449.8h1.42v7.11h-1.42zM108.82 449.8h1.42v6.53h-1.42zM110.35 449.8h1.42v6.53h-1.42zM111.88 449.8h1.42v7.11h-1.42zM113.41 449.8h1.42v7.69h-1.42zM114.94 449.8h1.42v6.53h-1.42zM116.47 449.8h1.42v5.94h-1.42zM118 449.8h1.42v8.28h-1.42zM119.53 449.8h1.42v8.86h-1.42zM121.07 449.8h1.42v5.36h-1.42zM126.3 449.8h1.44v4.2h-1.44zM127.85 449.8h1.44v2.45h-1.44zM129.41 449.8h1.44v0.7h-1.44zM130.96 449.8h1.44v4.2h-1.44zM132.52 449.8h1.44v5.94h-1.44zM134.07 449.8h1.44v8.28h-1.44zM135.62 449.8h1.44v7.69h-1.44zM137.18 449.8h1.44v7.69h-1.44zM138.73 449.8h1.44v8.86h-1.44zM140.28 449.8h1.44v9.44h-1.44zM141.84 449.8h1.44v7.69h-1.44zM143.39 449.8h1.44v8.28h-1.44zM144.95 449.8h1.44v8.86h-1.44zM149.8 449.8h1.53v1.86h-1.53zM151.44 449.8h1.53v7.11h-1.53zM153.08 449.8h1.53v5.94h-1.53zM154.72 449.8h1.53v4.78h-1.53zM156.36 449.8h1.53v5.36h-1.53zM163.6 449.8h1.44v10h-1.44zM165.15 449.8h1.44v10h-1.44zM170 449.8h1.74v8.9h-1.74zM171.85 449.8h1.74v10h-1.74zM176.6 449.8h1.64v8.9h-1.64zM178.35 449.8h1.64v10.6h-1.64zM192 449.8h1.22v12.4h-1.22zM193.32 449.8h1.22v9.5h-1.22zM194.65 449.8h1.22v9.5h-1.22zM195.98 449.8h1.22v8.9h-1.22zM197.3 449.8h1.51v7h-1.51zM203.8 449.8h1.35v17.02h-1.35zM205.26 449.8h1.35v19.35h-1.35zM206.71 449.8h1.35v20.51h-1.35zM208.17 449.8h1.35v18.76h-1.35zM209.63 449.8h1.35v19.93h-1.35zM211.09 449.8h1.35v19.93h-1.35zM212.54 449.8h1.35v19.93h-1.35zM223.9 449.8h1.45v14.1h-1.45zM225.46 449.8h1.45v12.35h-1.45zM228.57 449.8h1.45v5.94h-1.45zM230.12 449.8h1.45v17.02h-1.45zM231.68 449.8h1.45v17.02h-1.45zM233.23 449.8h1.45v11.19h-1.45zM234.79 449.8h1.45v12.35h-1.45zM236.34 449.8h1.45v14.69h-1.45zM241.4 449.8h1.42v21.1h-1.42zM242.93 449.8h1.42v18.18h-1.42zM244.47 449.8h1.42v24.59h-1.42zM246 449.8h1.42v14.69h-1.42zM247.53 449.8h1.42v14.69h-1.42zM249.07 449.8h1.42v20.28h-1.42zM250.6 449.8h1.42v17.6h-1.42zM252.13 449.8h1.42v19.35h-1.42zM253.67 449.8h1.42v21.1h-1.42zM255.2 449.8h1.42v20.51h-1.42zM256.73 449.8h1.42v18.76h-1.42zM258.27 449.8h1.42v21.68h-1.42zM259.8 449.8h1.42v21.68h-1.42zM261.33 449.8h1.42v22.84h-1.42zM262.87 449.8h1.42v20.51h-1.42zM264.4 449.8h1.42v17.6h-1.42zM265.93 449.8h1.42v22.26h-1.42zM267.47 449.8h1.42v24.01h-1.42zM269 449.8h1.42v24.59h-1.42zM270.53 449.8h1.42v14.69h-1.42zM272.07 449.8h1.42v14.69h-1.42zM273.6 449.8h1.42v28.67h-1.42zM275.13 449.8h1.42v25.17h-1.42zM276.67 449.8h1.42v22.26h-1.42zM283.8 449.8h1.29v1.8h-1.29zM286.6 449.8h1.49v8.3h-1.49zM288.2 449.8h1.69v3.8h-1.69zM293.2 449.8h1.37v22.84h-1.37zM294.68 449.8h1.37v17.02h-1.37zM296.16 449.8h1.37v22.26h-1.37zM297.64 449.8h1.37v22.26h-1.37zM299.12 449.8h1.37v18.76h-1.37zM300.61 449.8h1.37v15.27h-1.37zM302.09 449.8h1.37v20.51h-1.37zM303.57 449.8h1.37v23.43h-1.37zM305.05 449.8h1.37v23.43h-1.37zM306.53 449.8h1.37v25.17h-1.37zM308.01 449.8h1.37v27.51h-1.37zM309.49 449.8h1.37v28.09h-1.37zM310.97 449.8h1.37v32.17h-1.37zM312.46 449.8h1.37v32.17h-1.37zM313.94 449.8h1.37v34.5h-1.37zM315.42 449.8h1.37v31.59h-1.37zM322 449.8h1.42v33.33h-1.42zM323.53 449.8h1.42v31h-1.42zM325.05 449.8h1.42v27.51h-1.42zM326.58 449.8h1.42v29.25h-1.42zM328.11 449.8h1.42v26.92h-1.42zM329.63 449.8h1.42v26.92h-1.42zM331.16 449.8h1.42v32.75h-1.42zM332.68 449.8h1.42v34.5h-1.42zM334.21 449.8h1.42v35.66h-1.42zM335.74 449.8h1.42v34.5h-1.42zM337.26 449.8h1.42v33.92h-1.42zM338.79 449.8h1.42v28.09h-1.42zM340.32 449.8h1.42v26.34h-1.42zM341.84 449.8h1.42v26.92h-1.42zM343.37 449.8h1.42v26.92h-1.42zM344.89 449.8h1.42v28.67h-1.42zM346.42 449.8h1.42v31h-1.42zM347.95 449.8h1.42v28.09h-1.42zM349.47 449.8h1.42v26.92h-1.42zM351 449.8h1.29v20h-1.29zM352.4 449.8h1.42v41.5h-1.42zM353.93 449.8h1.42v39.7h-1.42zM355.46 449.8h1.42v37.4h-1.42zM357 449.8h1.42v36.2h-1.42zM358.53 449.8h1.42v24h-1.42zM360.06 449.8h1.42v29.2h-1.42zM361.59 449.8h1.42v31.5h-1.42zM363.12 449.8h1.42v35.6h-1.42zM364.65 449.8h1.42v40.2h-1.42zM366.19 449.8h1.42v30h-1.42zM367.72 449.8h1.42v21.4h-1.42zM369.25 449.8h1.42v21.4h-1.42zM370.78 449.8h1.42v14h-1.42zM372.31 449.8h1.42v19h-1.42zM373.85 449.8h1.42v13h-1.42zM375.38 449.8h1.42v13.5h-1.42zM376.91 449.8h1.42v17.6h-1.42zM378.44 449.8h1.42v17h-1.42zM381.5 449.8h1.42v15.2h-1.42zM384.57 449.8h1.42v15.8h-1.42zM394.7 449.8h1.42v19.3h-1.42zM396.23 449.8h1.42v25.3h-1.42zM397.76 449.8h1.42v26.39h-1.42zM399.29 449.8h1.42v15.49h-1.42zM400.82 449.8h1.42v25.85h-1.42zM402.35 449.8h1.42v25.3h-1.42zM403.88 449.8h1.42v23.12h-1.42zM405.42 449.8h1.42v23.12h-1.42zM406.95 449.8h1.42v23.66h-1.42zM408.48 449.8h1.42v24.21h-1.42zM410.01 449.8h1.42v26.39h-1.42zM411.54 449.8h1.42v28.03h-1.42zM413.07 449.8h1.42v24.75h-1.42zM414.6 449.8h1.24v46h-1.24zM415.95 449.8h1.24v46h-1.24zM417.3 449.8h1.24v46h-1.24zM418.65 449.8h1.24v46h-1.24zM420 449.8h1.49v24.7h-1.49zM421.6 449.8h1.49v24.7h-1.49z"/><path fill="#E5292B" d="M28.5 450.39h1.43v0.33h-1.43zM30.04 451.49h1.43v0.94h-1.43zM31.57 451.49h1.43v0.94h-1.43zM33.11 452.22h1.43v1.35h-1.43zM34.64 450.39h1.43v0.33h-1.43zM36.18 450.39h1.43v0.33h-1.43zM37.71 451.49h1.43v0.94h-1.43zM39.25 451.86h1.43v1.14h-1.43zM40.79 450.39h1.43v0.33h-1.43zM42.32 450.39h1.43v0.33h-1.43zM43.86 451.12h1.43v0.73h-1.43zM45.39 451.49h1.43v0.94h-1.43zM46.93 451.49h1.43v0.94h-1.43zM48.46 450.75h1.43v0.53h-1.43zM50 452.6h1.44v1h-1.44zM56.19 453.5h1.44v2h-1.44zM57.74 453.5h1.44v2h-1.44zM59.28 451.2h1.44v1.4h-1.44zM60.83 451.2h1.44v1.4h-1.44zM62.38 453.5h1.44v2h-1.44zM63.93 454h1.44v3.7h-1.44zM65.47 454h1.44v3h-1.44zM67.02 453.1h1.44v3.7h-1.44zM70.12 454.5h1.44v1.4h-1.44zM71.66 454.5h1.44v2h-1.44zM73.21 454.5h1.44v1.4h-1.44zM74.76 453.5h1.44v2.3h-1.44zM76.31 453.5h1.44v2.3h-1.44zM77.85 451.7h1.44v1h-1.44zM82.2 456.3h1.89v3.3h-1.89zM87.4 456.11h1.42v3.3h-1.42zM88.93 456.97h1.42v3.5h-1.42zM90.46 457.59h1.42v2.97h-1.42zM91.99 458.51h1.42v3.23h-1.42zM93.52 458.71h1.42v3h-1.42zM95.05 459.06h1.42v4.08h-1.42zM96.58 459.37h1.42v2.86h-1.42zM98.11 458.6h1.42v3.83h-1.42zM99.64 458.83h1.42v3.51h-1.42zM101.17 457.9h1.42v3.57h-1.42zM102.7 457.27h1.42v3.62h-1.42zM104.23 457.27h1.42v3.48h-1.42zM105.76 457.8h1.42v3.32h-1.42zM107.29 457.69h1.42v3.85h-1.42zM108.82 457.33h1.42v3.69h-1.42zM110.35 456.81h1.42v3.89h-1.42zM111.88 457.22h1.42v3.71h-1.42zM113.41 458.13h1.42v2.9h-1.42zM114.94 457.07h1.42v2.86h-1.42zM116.47 456.74h1.42v2.95h-1.42zM118 458.08h1.42v3h-1.42zM119.53 458.66h1.42v3h-1.42zM121.07 455.16h1.42v3.5h-1.42zM122.6 449.8h1.74v46h-1.74zM124.45 449.8h1.74v46h-1.74zM126.3 454h1.44v4.7h-1.44zM127.85 452.25h1.44v6h-1.44zM129.41 450.5h1.44v4.4h-1.44zM130.96 454h1.44v3.5h-1.44zM132.52 456.74h1.44v5h-1.44zM134.07 458.08h1.44v4.5h-1.44zM135.62 457.49h1.44v4.5h-1.44zM137.18 457.49h1.44v4.5h-1.44zM138.73 459.46h1.44v3.5h-1.44zM140.28 459.24h1.44v4h-1.44zM141.84 457.49h1.44v3.5h-1.44zM143.39 458.08h1.44v4h-1.44zM144.95 459.46h1.44v3.5h-1.44zM149.8 451.66h1.53v4.7h-1.53zM151.44 456.91h1.53v5.2h-1.53zM153.08 456.74h1.53v2.4h-1.53zM154.72 454.58h1.53v3.5h-1.53zM156.36 455.16h1.53v3h-1.53zM163.6 465.7h1.44v7h-1.44zM165.15 465.7h1.44v7h-1.44zM166.7 449.8h1.54v46h-1.54zM168.35 449.8h1.54v46h-1.54zM170 464.2h1.74v11.9h-1.74zM171.85 464.5h1.74v11.6h-1.74zM173.7 449.8h1.34v46h-1.34zM175.15 449.8h1.34v46h-1.34zM176.6 463h1.64v10.8h-1.64zM178.35 464.7h1.64v9.1h-1.64zM192 473.8h1.22v3.2h-1.22zM193.32 473.3h1.22v4.7h-1.22zM194.65 473.3h1.22v4.7h-1.22zM195.98 474.8h1.22v1.7h-1.22zM203.8 469.82h1.35v3.48h-1.35zM205.26 469.65h1.35v3.28h-1.35zM206.71 470.81h1.35v3.48h-1.35zM208.17 470.36h1.35v3.58h-1.35zM209.63 470.93h1.35v3.46h-1.35zM211.09 470.93h1.35v3.48h-1.35zM212.54 470.93h1.35v3.69h-1.35zM223.9 463.9h1.45v1.5h-1.45zM225.46 462.15h1.45v3h-1.45zM234.79 462.15h1.45v1.2h-1.45zM241.4 470.9h1.42v1.88h-1.42zM242.93 467.98h1.42v1.51h-1.42zM244.47 474.39h1.42v1.3h-1.42zM246 464.49h1.42v0.98h-1.42zM247.53 464.49h1.42v0.99h-1.42zM250.6 467.4h1.42v1.94h-1.42zM252.13 469.15h1.42v1.55h-1.42zM253.67 470.9h1.42v1.55h-1.42zM255.2 470.31h1.42v1.87h-1.42zM256.73 468.56h1.42v1.35h-1.42zM258.27 471.48h1.42v1.2h-1.42zM259.8 471.48h1.42v1.27h-1.42zM261.33 472.64h1.42v1.86h-1.42zM262.87 470.31h1.42v1.86h-1.42zM264.4 467.4h1.42v1.68h-1.42zM265.93 472.06h1.42v1.56h-1.42zM267.47 473.81h1.42v1.71h-1.42zM269 474.39h1.42v1.14h-1.42zM270.53 464.49h1.42v1.72h-1.42zM272.07 464.49h1.42v1.27h-1.42zM273.6 478.47h1.42v1.62h-1.42zM275.13 474.97h1.42v1.36h-1.42zM276.67 472.06h1.42v1.69h-1.42zM286.6 458.1h1.49v1.5h-1.49zM293.2 472.64h1.37v1.3h-1.37zM294.68 466.82h1.37v2.05h-1.37zM296.16 472.06h1.37v2.14h-1.37zM297.64 472.06h1.37v1.87h-1.37zM299.12 469.36h1.37v1.75h-1.37zM300.61 465.07h1.37v1.24h-1.37zM302.09 470.31h1.37v1.77h-1.37zM303.57 473.23h1.37v1.94h-1.37zM305.05 473.23h1.37v2.07h-1.37zM306.53 474.97h1.37v2.06h-1.37zM308.01 477.31h1.37v1.37h-1.37zM309.49 477.89h1.37v1.61h-1.37zM310.97 481.97h1.37v1.73h-1.37zM312.46 481.97h1.37v1.04h-1.37zM313.94 484.3h1.37v1.65h-1.37zM315.42 481.39h1.37v1.3h-1.37zM322 483.13h1.42v0.5h-1.42zM323.53 480.8h1.42v0.93h-1.42zM325.05 477.31h1.42v0.43h-1.42zM326.58 479.05h1.42v0.48h-1.42zM328.11 476.72h1.42v0.45h-1.42zM329.63 476.72h1.42v0.49h-1.42zM331.16 482.55h1.42v0.82h-1.42zM332.68 484.3h1.42v0.34h-1.42zM334.21 485.46h1.42v0.54h-1.42zM335.74 484.3h1.42v0.91h-1.42zM337.26 483.72h1.42v0.48h-1.42zM338.79 477.89h1.42v1.09h-1.42zM340.32 476.14h1.42v0.78h-1.42zM341.84 476.72h1.42v0.79h-1.42zM343.37 476.72h1.42v0.48h-1.42zM344.89 478.47h1.42v0.4h-1.42zM346.42 480.8h1.42v0.47h-1.42zM347.95 477.89h1.42v1.09h-1.42zM349.47 476.72h1.42v0.32h-1.42zM351 477.8h1.29v2h-1.29zM351 469.8h1.29v2h-1.29zM360.06 479h1.42v0.8h-1.42zM381.5 465h1.42v0.8h-1.42zM384.57 465.6h1.42v0.6h-1.42zM394.7 469.1h1.42v1.88h-1.42zM396.23 475.1h1.42v1.81h-1.42zM397.76 476.19h1.42v1.37h-1.42zM399.29 466.29h1.42v1.67h-1.42zM400.82 475.65h1.42v1.93h-1.42zM402.35 475.1h1.42v1.33h-1.42zM403.88 472.92h1.42v1.92h-1.42zM405.42 472.92h1.42v1.69h-1.42zM406.95 474.26h1.42v1.38h-1.42zM408.48 474.01h1.42v1.69h-1.42zM410.01 476.19h1.42v1.93h-1.42zM411.54 477.83h1.42v2h-1.42zM413.07 475.35h1.42v1.86h-1.42zM420 475.5h1.49v2.4h-1.49zM421.6 475.5h1.49v2.4h-1.49z"/><path fill="#FDC378" d="M28.5 450.71h1.43v0.26h-1.43zM30.04 452.43h1.43v0.75h-1.43zM31.57 452.43h1.43v0.75h-1.43zM33.11 453.57h1.43v1.08h-1.43zM34.64 450.71h1.43v0.26h-1.43zM36.18 450.71h1.43v0.26h-1.43zM37.71 452.43h1.43v0.75h-1.43zM39.25 453h1.43v0.91h-1.43zM40.79 450.71h1.43v0.26h-1.43zM42.32 450.71h1.43v0.26h-1.43zM43.86 451.86h1.43v0.59h-1.43zM45.39 452.43h1.43v0.75h-1.43zM46.93 452.43h1.43v0.75h-1.43zM48.46 451.28h1.43v0.42h-1.43zM50 453.6h1.44v3.3h-1.44zM53.09 450.3h1.44v0.8h-1.44zM56.19 455.5h1.44v1.5h-1.44zM57.74 455.5h1.44v1.5h-1.44zM62.38 455.5h1.44v1h-1.44zM63.93 457.7h1.44v1h-1.44zM65.47 457h1.44v1.5h-1.44zM67.02 456.8h1.44v1h-1.44zM70.12 455.9h1.44v1h-1.44zM71.66 456.5h1.44v1.5h-1.44zM73.21 455.9h1.44v1h-1.44zM74.76 455.8h1.44v2h-1.44zM76.31 455.8h1.44v2h-1.44zM77.85 452.7h1.44v1h-1.44zM82.2 452.6h1.89v3.7h-1.89zM82.2 459.6h1.89v2h-1.89zM87.4 460.37h1.42v0.77h-1.42zM88.93 461.31h1.42v1h-1.42zM90.46 462.67h1.42v0.55h-1.42zM91.99 462.64h1.42v0.75h-1.42zM93.52 462.9h1.42v0.77h-1.42zM95.05 464.62h1.42v0.72h-1.42zM96.58 463.54h1.42v0.63h-1.42zM98.11 463.98h1.42v0.55h-1.42zM99.64 463.4h1.42v1.29h-1.42zM101.17 462.92h1.42v0.42h-1.42zM102.7 462.23h1.42v1.11h-1.42zM104.23 461.79h1.42v0.73h-1.42zM105.76 462.33h1.42v0.73h-1.42zM107.29 463.03h1.42v1.14h-1.42zM108.82 462.57h1.42v1.02h-1.42zM110.35 461.52h1.42v1.22h-1.42zM111.88 462.23h1.42v0.82h-1.42zM113.41 461.92h1.42v1.26h-1.42zM114.94 461.86h1.42v0.37h-1.42zM116.47 461.78h1.42v0.55h-1.42zM203.8 476.38h1.35v1.87h-1.35zM205.26 475.95h1.35v2.87h-1.35zM206.71 477.43h1.35v1.82h-1.35zM208.17 476.87h1.35v2.25h-1.35zM209.63 477.58h1.35v2.49h-1.35zM211.09 476.88h1.35v2.09h-1.35zM212.54 477.53h1.35v1.83h-1.35zM225.46 467.65h1.45v1.2h-1.45zM241.4 476.75h1.42v1.72h-1.42zM242.93 473.15h1.42v1.05h-1.42zM244.47 484.09h1.42v0.89h-1.42zM246 465.47h1.42v0.68h-1.42zM247.53 465.47h1.42v0.9h-1.42zM249.07 470.08h1.42v1.08h-1.42zM250.6 469.94h1.42v0.77h-1.42zM252.13 476.9h1.42v0.63h-1.42zM253.67 476.79h1.42v1.51h-1.42zM255.2 475.24h1.42v1.78h-1.42zM256.73 473.73h1.42v1.11h-1.42zM258.27 476.41h1.42v0.91h-1.42zM259.8 475.45h1.42v1.64h-1.42zM261.33 480.95h1.42v0.88h-1.42zM262.87 475.79h1.42v1.52h-1.42zM264.4 471.74h1.42v1.59h-1.42zM265.93 479h1.42v1.56h-1.42zM267.47 481.02h1.42v1.58h-1.42zM269 478.99h1.42v1.1h-1.42zM270.53 466.7h1.42v1.29h-1.42zM272.07 468.31h1.42v1.37h-1.42zM273.6 483.2h1.42v1.78h-1.42zM275.13 481.25h1.42v1.22h-1.42zM276.67 478.9h1.42v0.72h-1.42zM286.6 459.6h1.49v2h-1.49zM293.2 473.94h1.37v0.63h-1.37zM294.68 468.87h1.37v1.09h-1.37zM296.16 474.21h1.37v0.88h-1.37zM297.64 473.93h1.37v0.55h-1.37zM299.12 471.11h1.37v0.85h-1.37zM300.61 466.31h1.37v0.94h-1.37zM302.09 472.08h1.37v0.48h-1.37zM303.57 475.16h1.37v0.58h-1.37zM305.05 475.29h1.37v0.58h-1.37zM306.53 477.04h1.37v1.05h-1.37zM308.01 478.68h1.37v0.46h-1.37zM309.49 479.5h1.37v0.67h-1.37zM310.97 483.7h1.37v0.79h-1.37zM312.46 483.01h1.37v0.59h-1.37zM313.94 485.95h1.37v0.99h-1.37zM315.42 482.68h1.37v0.85h-1.37zM322 483.63h1.42v1.25h-1.42zM323.53 481.73h1.42v0.8h-1.42zM325.05 477.74h1.42v1.48h-1.42zM326.58 479.53h1.42v1.07h-1.42zM328.11 477.18h1.42v0.78h-1.42zM329.63 477.21h1.42v1.37h-1.42zM331.16 483.37h1.42v0.61h-1.42zM332.68 484.64h1.42v1.1h-1.42zM334.21 486.01h1.42v1.27h-1.42zM335.74 485.21h1.42v1.17h-1.42zM337.26 484.19h1.42v0.72h-1.42zM338.79 478.98h1.42v1.49h-1.42zM340.32 476.92h1.42v0.97h-1.42zM341.84 477.51h1.42v0.61h-1.42zM343.37 477.2h1.42v0.59h-1.42zM344.89 478.87h1.42v0.85h-1.42zM346.42 481.27h1.42v1.46h-1.42zM347.95 478.97h1.42v1.47h-1.42zM349.47 477.05h1.42v1.32h-1.42zM351 471.8h1.29v6h-1.29zM352.4 491.3h1.42v4.5h-1.42zM353.93 489.5h1.42v6.3h-1.42zM355.46 487.2h1.42v8.6h-1.42zM357 486h1.42v9.8h-1.42zM358.53 473.8h1.42v22h-1.42zM360.06 479.8h1.42v12.5h-1.42zM361.59 481.3h1.42v14.5h-1.42zM363.12 485.4h1.42v10.4h-1.42zM364.65 490.8h1.42v5h-1.42zM366.19 479.8h1.42v16h-1.42zM367.72 472h1.42v20.8h-1.42zM369.25 472h1.42v20.8h-1.42zM370.78 463.8h1.42v32h-1.42zM372.31 468.8h1.42v27h-1.42zM373.85 462.8h1.42v33h-1.42zM375.38 463.3h1.42v32.5h-1.42zM376.91 467.4h1.42v18.9h-1.42zM378.44 466.8h1.42v26.7h-1.42zM379.97 449.8h1.42v46h-1.42zM381.5 465.8h1.42v24h-1.42zM383.04 449.8h1.42v46h-1.42zM384.57 466.2h1.42v28h-1.42zM386.1 449.8h1.32v46h-1.32zM387.53 449.8h1.32v46h-1.32zM388.97 449.8h1.32v46h-1.32zM390.4 449.8h1.32v46h-1.32zM391.83 449.8h1.32v46h-1.32zM393.27 449.8h1.32v46h-1.32zM394.7 470.98h1.42v2h-1.42zM399.29 467.95h1.42v6h-1.42z"/><path fill="#CDB7D9" d="M28.5 450.97h1.43v0.13h-1.43zM30.04 453.18h1.43v0.38h-1.43zM31.57 453.18h1.43v0.38h-1.43zM33.11 454.65h1.43v0.54h-1.43zM34.64 450.97h1.43v0.13h-1.43zM36.18 450.97h1.43v0.13h-1.43zM37.71 453.18h1.43v0.38h-1.43zM39.25 453.91h1.43v0.46h-1.43zM40.79 450.97h1.43v0.13h-1.43zM42.32 450.97h1.43v0.13h-1.43zM43.86 452.44h1.43v0.29h-1.43zM45.39 453.18h1.43v0.38h-1.43zM46.93 453.18h1.43v0.38h-1.43zM48.46 451.71h1.43v0.21h-1.43zM56.19 457h1.44v1.2h-1.44zM57.74 457h1.44v1.2h-1.44zM62.38 456.5h1.44v2.3h-1.44zM63.93 458.7h1.44v1.5h-1.44zM65.47 458.5h1.44v1.5h-1.44zM67.02 457.8h1.44v1.5h-1.44zM70.12 456.9h1.44v1.4h-1.44zM71.66 458h1.44v1.4h-1.44zM73.21 456.9h1.44v1.4h-1.44zM74.76 457.8h1.44v1.4h-1.44zM76.31 457.8h1.44v1.4h-1.44zM82.2 461.6h1.89v1.2h-1.89zM87.4 461.14h1.42v1.17h-1.42zM88.93 462.3h1.42v0.83h-1.42zM90.46 463.23h1.42v1.15h-1.42zM91.99 463.39h1.42v0.89h-1.42zM93.52 463.67h1.42v0.64h-1.42zM95.05 465.34h1.42v1.06h-1.42zM96.58 464.17h1.42v0.92h-1.42zM98.11 464.53h1.42v0.93h-1.42zM99.64 464.69h1.42v0.95h-1.42zM101.17 463.34h1.42v0.66h-1.42zM102.7 463.34h1.42v0.88h-1.42zM104.23 462.52h1.42v0.84h-1.42zM105.76 463.07h1.42v0.52h-1.42zM107.29 464.17h1.42v0.79h-1.42zM108.82 463.59h1.42v0.9h-1.42zM110.35 462.74h1.42v1.07h-1.42zM111.88 463.05h1.42v1.29h-1.42zM113.41 463.19h1.42v0.91h-1.42zM114.94 462.23h1.42v1.23h-1.42zM116.47 462.33h1.42v0.56h-1.42zM126.3 459.2h1.44v0.63h-1.44zM127.85 459.75h1.44v2.41h-1.44zM129.41 457.4h1.44v0.68h-1.44zM130.96 461.5h1.44v2.99h-1.44zM132.52 464.44h1.44v1.79h-1.44zM134.07 465.58h1.44v1.82h-1.44zM135.62 465.49h1.44v2.49h-1.44zM137.18 465.49h1.44v2.49h-1.44zM140.28 465.74h1.44v1.08h-1.44zM141.84 462.59h1.44v0.73h-1.44zM143.39 464.78h1.44v1.46h-1.44zM163.6 472.7h1.44v1.2h-1.44zM165.15 472.7h1.44v1.2h-1.44zM170 478.6h1.74v1h-1.74zM171.85 478.6h1.74v1h-1.74zM176.6 475.8h1.64v2h-1.64zM178.35 475.8h1.64v2h-1.64zM203.8 478.25h1.35v3.78h-1.35zM205.26 478.81h1.35v4.6h-1.35zM206.71 479.25h1.35v4.71h-1.35zM208.17 479.12h1.35v4.43h-1.35zM209.63 480.08h1.35v3.68h-1.35zM211.09 478.98h1.35v5.33h-1.35zM212.54 479.36h1.35v4.85h-1.35zM214 449.8h1.3v46h-1.3zM215.41 449.8h1.3v46h-1.3zM216.83 449.8h1.3v46h-1.3zM218.24 449.8h1.3v46h-1.3zM219.66 449.8h1.3v46h-1.3zM221.07 449.8h1.3v46h-1.3zM222.49 449.8h1.3v46h-1.3zM223.9 468.4h1.45v27.4h-1.45zM225.46 468.85h1.45v22.35h-1.45zM227.01 449.8h1.45v46h-1.45zM228.57 460.74h1.45v21.76h-1.45zM230.12 472.42h1.45v14.18h-1.45zM231.68 472.42h1.45v14.18h-1.45zM233.23 463.39h1.45v28.41h-1.45zM234.79 465.75h1.45v28.55h-1.45zM236.34 467.49h1.45v25.31h-1.45zM237.9 449.8h1.64v46h-1.64zM239.65 449.8h1.64v46h-1.64zM241.4 478.47h1.42v4.59h-1.42zM242.93 474.2h1.42v2.73h-1.42zM244.47 484.98h1.42v3.09h-1.42zM246 466.15h1.42v3.39h-1.42zM247.53 466.37h1.42v4.97h-1.42zM249.07 471.16h1.42v4.84h-1.42zM250.6 470.71h1.42v4.13h-1.42zM252.13 477.53h1.42v2.78h-1.42zM253.67 478.3h1.42v4.37h-1.42zM255.2 477.02h1.42v3.52h-1.42zM256.73 474.84h1.42v4.44h-1.42zM258.27 477.32h1.42v4.16h-1.42zM259.8 477.09h1.42v4.33h-1.42zM261.33 481.84h1.42v4.38h-1.42zM262.87 477.31h1.42v4.71h-1.42zM264.4 473.33h1.42v3.2h-1.42zM265.93 480.56h1.42v4.75h-1.42zM267.47 482.6h1.42v3.29h-1.42zM269 480.09h1.42v3.86h-1.42zM270.53 467.99h1.42v3.75h-1.42zM272.07 469.67h1.42v2.84h-1.42zM273.6 484.98h1.42v4.4h-1.42zM275.13 482.47h1.42v4.05h-1.42zM276.67 479.62h1.42v3.43h-1.42zM286.6 490.5h1.49v2.5h-1.49zM288.2 493h1.69v2.8h-1.69zM293.2 484.3h1.37v2.91h-1.37zM294.68 486.63h1.37v2.33h-1.37zM296.16 484.3h1.37v2.33h-1.37zM297.64 484.3h1.37v2.33h-1.37zM299.12 485.46h1.37v2.91h-1.37zM300.61 485.46h1.37v5.83h-1.37zM302.09 483.13h1.37v2.33h-1.37zM303.57 481.97h1.37v4.08h-1.37zM305.05 481.97h1.37v4.08h-1.37zM306.53 483.13h1.37v3.5h-1.37zM308.01 484.88h1.37v5.83h-1.37zM309.49 483.72h1.37v6.41h-1.37zM310.97 486.63h1.37v5.24h-1.37zM312.46 486.63h1.37v5.24h-1.37zM313.94 488.96h1.37v4.66h-1.37zM315.42 488.96h1.37v4.08h-1.37zM322 489.54h1.42v5.24h-1.42zM323.53 487.21h1.42v7.58h-1.42zM325.05 484.3h1.42v6.41h-1.42zM326.58 484.88h1.42v6.41h-1.42zM328.11 481.97h1.42v8.16h-1.42zM329.63 481.97h1.42v8.16h-1.42zM331.16 487.21h1.42v8.16h-1.42zM332.68 487.8h1.42v7.58h-1.42zM334.21 488.96h1.42v6.41h-1.42zM335.74 488.38h1.42v6.99h-1.42zM337.26 487.8h1.42v7.58h-1.42zM338.79 484.88h1.42v5.24h-1.42zM340.32 483.13h1.42v7.58h-1.42zM341.84 484.3h1.42v5.24h-1.42zM343.37 484.3h1.42v5.24h-1.42zM344.89 485.46h1.42v6.41h-1.42zM346.42 486.05h1.42v6.41h-1.42zM347.95 485.46h1.42v6.99h-1.42zM349.47 484.3h1.42v7.58h-1.42zM351 484.8h1.29v5.5h-1.29zM360.06 492.3h1.42v3.5h-1.42zM367.72 492.8h1.42v3h-1.42zM369.25 492.8h1.42v3h-1.42zM376.91 488h1.42v2.3h-1.42zM381.5 491.5h1.42v2.3h-1.42zM394.7 475.44h1.42v3.95h-1.42zM396.23 480.16h1.42v2.72h-1.42zM397.76 480.7h1.42v3.82h-1.42zM399.29 477.15h1.42v2.42h-1.42zM400.82 481.12h1.42v2.61h-1.42zM402.35 479.74h1.42v3.97h-1.42zM403.88 477.91h1.42v2.77h-1.42zM405.42 477.26h1.42v2.76h-1.42zM406.95 478.5h1.42v3.5h-1.42zM408.48 479.22h1.42v3.1h-1.42zM410.01 481.54h1.42v2.57h-1.42zM411.54 483.09h1.42v3.91h-1.42zM413.07 479.79h1.42v3.84h-1.42zM420 483.1h1.49v5.2h-1.49zM421.6 483.1h1.49v5.2h-1.49z"/><path fill="#FFFFA0" d="M28.5 451.11h1.43v44.4h-1.43zM30.04 453.55h1.43v41.1h-1.43zM31.57 453.55h1.43v41.9h-1.43zM33.11 459.26h1.43v35.6h-1.43zM34.64 451.11h1.43v43.65h-1.43zM36.18 451.11h1.43v43.75h-1.43zM37.71 453.55h1.43v41.75h-1.43zM39.25 460.89h1.43v34.36h-1.43zM40.79 451.11h1.43v43.77h-1.43zM42.32 451.11h1.43v43.53h-1.43zM43.86 452.74h1.43v42.2h-1.43zM45.39 457.63h1.43v37.43h-1.43zM46.93 457.63h1.43v37.58h-1.43zM48.46 451.92h1.43v43.27h-1.43zM50 456.9h1.44v37.98h-1.44zM51.55 450.3h1.44v44.87h-1.44zM53.09 451.1h1.44v43.97h-1.44zM54.64 450.3h1.44v44.67h-1.44zM56.19 463.8h1.44v31.17h-1.44zM57.74 463.4h1.44v32.16h-1.44zM59.28 452.6h1.44v42.77h-1.44zM60.83 452.6h1.44v42.29h-1.44zM62.38 460.8h1.44v34.23h-1.44zM63.93 465.8h1.44v28.96h-1.44zM65.47 465h1.44v30.55h-1.44zM67.02 465.1h1.44v30.27h-1.44zM68.57 451.2h1.44v43.9h-1.44zM70.12 463h1.44v31.85h-1.44zM71.66 463.4h1.44v32h-1.44zM73.21 463h1.44v31.84h-1.44zM74.76 469h1.44v26.19h-1.44zM76.31 469h1.44v26.29h-1.44zM77.85 453.7h1.44v41.07h-1.44zM82.2 473.5h1.89v21.8h-1.89zM84.2 450.4h1.49v45.1h-1.49zM85.8 450.4h1.49v45.1h-1.49zM87.4 473.23h1.42v22.47h-1.42zM88.93 469.73h1.42v25.85h-1.42zM90.46 477.89h1.42v17.44h-1.42zM91.99 476.14h1.42v18.96h-1.42zM93.52 478.47h1.42v16.85h-1.42zM95.05 478.47h1.42v17.05h-1.42zM96.58 476.72h1.42v18.52h-1.42zM98.11 474.97h1.42v19.88h-1.42zM99.64 475.56h1.42v19.56h-1.42zM101.17 475.56h1.42v19.65h-1.42zM102.7 475.56h1.42v19.37h-1.42zM104.23 474.97h1.42v19.88h-1.42zM105.76 474.97h1.42v20.43h-1.42zM107.29 474.39h1.42v20.65h-1.42zM108.82 474.39h1.42v20.55h-1.42zM110.35 474.39h1.42v21.33h-1.42zM111.88 474.97h1.42v20.56h-1.42zM113.41 475.56h1.42v19.59h-1.42zM114.94 477.31h1.42v17.89h-1.42zM116.47 480.8h1.42v14.13h-1.42zM118 489.54h1.42v5.96h-1.42zM119.53 491.87h1.42v3.63h-1.42zM121.07 486.63h1.42v8.87h-1.42zM129.41 494.21h1.44v1.16h-1.44zM130.96 495.02h1.44v0.13h-1.44zM132.52 484.3h1.44v11.18h-1.44zM134.07 491.29h1.44v4.24h-1.44zM135.62 483.13h1.44v12.33h-1.44zM137.18 483.13h1.44v12.58h-1.44zM138.73 482.55h1.44v13.25h-1.44zM140.28 486.63h1.44v8.72h-1.44zM141.84 482.55h1.44v12.59h-1.44zM143.39 484.3h1.44v10.71h-1.44zM144.95 485.46h1.44v10.25h-1.44zM153.08 489.54h1.53v6.08h-1.53zM154.72 494.21h1.53v1.13h-1.53zM156.36 491.29h1.53v3.94h-1.53zM163.6 487.2h1.44v8.6h-1.44zM165.15 487.2h1.44v8.6h-1.44zM170 490.8h1.74v5h-1.74zM171.85 492.4h1.74v3.4h-1.74zM176.6 491.3h1.64v4.5h-1.64zM178.35 487.2h1.64v8.6h-1.64zM192 491.3h1.22v4.5h-1.22zM193.32 493.6h1.22v2.2h-1.22zM194.65 493.6h1.22v2.2h-1.22zM195.98 492.4h1.22v3.4h-1.22zM203.8 488.98h1.35v6.3h-1.35zM205.26 490.5h1.35v5.1h-1.35zM206.71 490.87h1.35v4.5h-1.35zM208.17 490.7h1.35v5.1h-1.35zM209.63 491.14h1.35v4.5h-1.35zM211.09 490.79h1.35v4.5h-1.35zM212.54 491.03h1.35v4.5h-1.35zM225.46 493h1.45v2.8h-1.45zM228.57 484.3h1.45v11.5h-1.45zM230.12 492.4h1.45v3.4h-1.45zM231.68 492.4h1.45v3.4h-1.45zM241.4 488.34h1.42v6.82h-1.42zM242.93 481.93h1.42v13.46h-1.42zM244.47 491.25h1.42v3.96h-1.42zM246 475.52h1.42v19.9h-1.42zM247.53 475.52h1.42v19.68h-1.42zM249.07 481.93h1.42v13.62h-1.42zM250.6 479.6h1.42v15.7h-1.42zM252.13 484.26h1.42v11.26h-1.42zM253.67 486.59h1.42v9.1h-1.42zM255.2 485.43h1.42v10.19h-1.42zM256.73 483.1h1.42v12.02h-1.42zM258.27 486.01h1.42v9.7h-1.42zM259.8 486.01h1.42v9.32h-1.42zM261.33 490.09h1.42v4.93h-1.42zM262.87 486.59h1.42v8.93h-1.42zM264.4 480.77h1.42v14.3h-1.42zM265.93 491.25h1.42v4.33h-1.42zM267.47 490.09h1.42v5.07h-1.42zM269 487.18h1.42v8.03h-1.42zM270.53 476.1h1.42v19.02h-1.42zM272.07 476.1h1.42v19.6h-1.42zM273.6 494.75h1.42v0.49h-1.42zM275.13 491.25h1.42v4.11h-1.42zM276.67 488.34h1.42v6.9h-1.42zM286.6 493h1.49v2.8h-1.49zM293.2 491.87h1.37v3.93h-1.37zM294.68 491.06h1.37v4.74h-1.37zM296.16 490.13h1.37v5.67h-1.37zM297.64 490.13h1.37v5.67h-1.37zM299.12 490.36h1.37v5.44h-1.37zM300.61 493.62h1.37v2.18h-1.37zM302.09 493.62h1.37v2.18h-1.37zM303.57 493.04h1.37v2.76h-1.37zM305.05 493.04h1.37v2.76h-1.37zM306.53 493.62h1.37v2.18h-1.37zM308.01 493.62h1.37v2.18h-1.37zM309.49 493.04h1.37v2.76h-1.37zM310.97 493.62h1.37v2.18h-1.37zM312.46 493.62h1.37v2.18h-1.37zM313.94 493.86h1.37v1.94h-1.37zM315.42 493.39h1.37v2.41h-1.37zM322 495.02h1.42v0.78h-1.42zM323.53 495.02h1.42v0.78h-1.42zM325.05 493.04h1.42v2.76h-1.42zM326.58 492.69h1.42v3.11h-1.42zM328.11 492.22h1.42v3.58h-1.42zM329.63 492.22h1.42v3.58h-1.42zM331.16 495.6h1.42v0.2h-1.42zM332.68 495.6h1.42v0.2h-1.42zM334.21 495.6h1.42v0.2h-1.42zM335.74 495.6h1.42v0.2h-1.42zM337.26 495.6h1.42v0.2h-1.42zM338.79 493.27h1.42v2.53h-1.42zM340.32 494.79h1.42v1.01h-1.42zM341.84 493.04h1.42v2.76h-1.42zM343.37 493.04h1.42v2.76h-1.42zM344.89 494.21h1.42v1.59h-1.42zM346.42 493.39h1.42v2.41h-1.42zM347.95 493.39h1.42v2.41h-1.42zM349.47 493.62h1.42v2.18h-1.42zM351 491.8h1.29v4h-1.29zM376.91 490.3h1.42v5.5h-1.42zM381.5 493.8h1.42v2h-1.42zM394.7 482.71h1.42v12.63h-1.42zM396.23 487.08h1.42v8.13h-1.42zM397.76 490.35h1.42v4.95h-1.42zM399.29 485.44h1.42v10.17h-1.42zM400.82 489.8h1.42v5.88h-1.42zM402.35 486.53h1.42v9.18h-1.42zM403.88 485.46h1.42v10.34h-1.42zM405.42 485.44h1.42v9.95h-1.42zM406.95 487.62h1.42v8.02h-1.42zM408.48 487.08h1.42v8.67h-1.42zM410.01 485.99h1.42v9.75h-1.42zM411.54 491.98h1.42v3.33h-1.42zM413.07 493.62h1.42v1.73h-1.42zM420 492.5h1.49v3.3h-1.49zM421.6 492.5h1.49v3.3h-1.49z"/><path fill="#744AA1" d="M33.11 455.18h1.43v4.08h-1.43zM39.25 454.37h1.43v6.53h-1.43zM45.39 453.55h1.43v4.08h-1.43zM46.93 453.55h1.43v4.08h-1.43zM56.19 458.2h1.44v5.6h-1.44zM57.74 458.2h1.44v5.2h-1.44zM62.38 458.8h1.44v2h-1.44zM63.93 460.2h1.44v5.6h-1.44zM65.47 460h1.44v5h-1.44zM67.02 459.3h1.44v5.8h-1.44zM70.12 458.3h1.44v4.7h-1.44zM71.66 459.4h1.44v4h-1.44zM73.21 458.3h1.44v4.7h-1.44zM74.76 459.2h1.44v9.8h-1.44zM76.31 459.2h1.44v9.8h-1.44zM82.2 462.8h1.89v10.7h-1.89zM87.4 462.31h1.42v10.91h-1.42zM88.93 463.14h1.42v6.59h-1.42zM90.46 464.38h1.42v13.51h-1.42zM91.99 464.28h1.42v11.86h-1.42zM93.52 464.31h1.42v14.16h-1.42zM95.05 466.4h1.42v12.07h-1.42zM96.58 465.09h1.42v11.63h-1.42zM98.11 465.46h1.42v9.51h-1.42zM99.64 465.64h1.42v9.92h-1.42zM101.17 464h1.42v11.56h-1.42zM102.7 464.22h1.42v11.34h-1.42zM104.23 463.36h1.42v11.62h-1.42zM105.76 463.59h1.42v11.39h-1.42zM107.29 464.96h1.42v9.43h-1.42zM108.82 464.49h1.42v9.9h-1.42zM110.35 463.81h1.42v10.58h-1.42zM111.88 464.34h1.42v10.63h-1.42zM113.41 464.1h1.42v11.46h-1.42zM114.94 463.46h1.42v13.85h-1.42zM116.47 462.9h1.42v17.91h-1.42zM118 462.08h1.42v27.47h-1.42zM119.53 463.16h1.42v28.72h-1.42zM121.07 459.66h1.42v26.97h-1.42zM126.3 459.82h1.44v35.44h-1.44zM127.85 462.15h1.44v33.6h-1.44zM129.41 458.08h1.44v36.13h-1.44zM130.96 464.49h1.44v30.54h-1.44zM132.52 466.23h1.44v18.07h-1.44zM134.07 467.4h1.44v23.89h-1.44zM135.62 467.98h1.44v15.15h-1.44zM137.18 467.98h1.44v15.15h-1.44zM138.73 464.56h1.44v17.99h-1.44zM140.28 466.82h1.44v19.81h-1.44zM141.84 463.32h1.44v19.23h-1.44zM143.39 466.23h1.44v18.07h-1.44zM144.95 464.56h1.44v20.91h-1.44zM146.5 449.8h1.54v46h-1.54zM148.15 449.8h1.54v46h-1.54zM149.8 456.96h1.53v38.65h-1.53zM151.44 462.71h1.53v32.6h-1.53zM153.08 460.34h1.53v29.2h-1.53zM154.72 459.28h1.53v34.93h-1.53zM156.36 458.76h1.53v32.53h-1.53zM158 449.8h1.29v46h-1.29zM159.4 449.8h1.29v46h-1.29zM160.8 449.8h1.29v46h-1.29zM162.2 449.8h1.29v46h-1.29zM163.6 473.9h1.44v13.3h-1.44zM165.15 473.9h1.44v13.3h-1.44zM170 479.6h1.74v11.2h-1.74zM171.85 479.6h1.74v12.8h-1.74zM176.6 477.8h1.64v13.5h-1.64zM178.35 477.8h1.64v9.4h-1.64zM192 479.3h1.22v12h-1.22zM193.32 480.3h1.22v13.3h-1.22zM194.65 480.3h1.22v13.3h-1.22zM195.98 481.5h1.22v10.9h-1.22zM203.8 482.04h1.35v6.95h-1.35zM205.26 483.42h1.35v7.08h-1.35zM206.71 483.96h1.35v6.91h-1.35zM208.17 483.55h1.35v7.15h-1.35zM209.63 483.76h1.35v7.38h-1.35zM211.09 484.31h1.35v6.48h-1.35zM212.54 484.2h1.35v6.83h-1.35zM225.46 491.2h1.45v1.8h-1.45zM228.57 482.5h1.45v1.8h-1.45zM230.12 486.6h1.45v5.8h-1.45zM230.12 470.02h1.45v2.4h-1.45zM231.68 486.6h1.45v5.8h-1.45zM231.68 470.02h1.45v2.4h-1.45zM233.23 491.8h1.45v4h-1.45zM234.79 494.3h1.45v1.5h-1.45zM236.34 492.8h1.45v3h-1.45zM241.4 483.06h1.42v5.28h-1.42zM242.93 476.94h1.42v5h-1.42zM244.47 488.07h1.42v3.18h-1.42zM246 469.54h1.42v5.98h-1.42zM247.53 471.34h1.42v4.18h-1.42zM249.07 476h1.42v5.93h-1.42zM250.6 474.84h1.42v4.76h-1.42zM252.13 480.31h1.42v3.95h-1.42zM253.67 482.67h1.42v3.92h-1.42zM255.2 480.54h1.42v4.88h-1.42zM256.73 479.28h1.42v3.81h-1.42zM258.27 481.47h1.42v4.54h-1.42zM259.8 481.43h1.42v4.58h-1.42zM261.33 486.22h1.42v3.87h-1.42zM262.87 482.02h1.42v4.57h-1.42zM264.4 476.53h1.42v4.23h-1.42zM265.93 485.31h1.42v5.95h-1.42zM267.47 485.89h1.42v4.19h-1.42zM269 483.95h1.42v3.23h-1.42zM270.53 471.74h1.42v4.36h-1.42zM272.07 472.51h1.42v3.6h-1.42zM273.6 489.38h1.42v5.37h-1.42zM275.13 486.52h1.42v4.73h-1.42zM276.67 483.05h1.42v5.29h-1.42zM283.8 491.8h1.29v4h-1.29zM293.2 487.21h1.37v4.66h-1.37zM294.68 488.96h1.37v2.1h-1.37zM296.16 486.63h1.37v3.5h-1.37zM297.64 486.63h1.37v3.5h-1.37zM299.12 488.38h1.37v1.98h-1.37zM300.61 491.29h1.37v2.33h-1.37zM302.09 485.46h1.37v8.16h-1.37zM303.57 486.05h1.37v6.99h-1.37zM305.05 486.05h1.37v6.99h-1.37zM306.53 486.63h1.37v6.99h-1.37zM308.01 490.71h1.37v2.91h-1.37zM309.49 490.13h1.37v2.91h-1.37zM310.97 491.87h1.37v1.75h-1.37zM312.46 491.87h1.37v1.75h-1.37zM313.94 493.62h1.37v0.23h-1.37zM315.42 493.04h1.37v0.35h-1.37zM322 494.79h1.42v0.23h-1.42zM323.53 494.79h1.42v0.23h-1.42zM325.05 490.71h1.42v2.33h-1.42zM326.58 491.29h1.42v1.4h-1.42zM328.11 490.13h1.42v2.1h-1.42zM329.63 490.13h1.42v2.1h-1.42zM331.16 495.37h1.42v0.23h-1.42zM332.68 495.37h1.42v0.23h-1.42zM334.21 495.37h1.42v0.23h-1.42zM335.74 495.37h1.42v0.23h-1.42zM337.26 495.37h1.42v0.23h-1.42zM338.79 490.13h1.42v3.15h-1.42zM340.32 490.71h1.42v4.08h-1.42zM341.84 489.54h1.42v3.5h-1.42zM343.37 489.54h1.42v3.5h-1.42zM344.89 491.87h1.42v2.33h-1.42zM346.42 492.46h1.42v0.93h-1.42zM347.95 492.46h1.42v0.93h-1.42zM349.47 491.87h1.42v1.75h-1.42zM351 490.3h1.29v1.5h-1.29zM384.57 494.2h1.42v1.6h-1.42zM394.7 479.39h1.42v3.32h-1.42zM396.23 482.88h1.42v4.2h-1.42zM397.76 484.52h1.42v5.83h-1.42zM399.29 479.57h1.42v5.87h-1.42zM400.82 483.74h1.42v6.06h-1.42zM402.35 483.71h1.42v2.83h-1.42zM403.88 480.67h1.42v4.79h-1.42zM405.42 480.03h1.42v5.41h-1.42zM406.95 482h1.42v5.62h-1.42zM408.48 482.33h1.42v4.75h-1.42zM410.01 484.11h1.42v1.88h-1.42zM411.54 487h1.42v4.98h-1.42zM413.07 483.63h1.42v9.99h-1.42zM420 488.3h1.49v4.2h-1.49zM421.6 488.3h1.49v4.2h-1.49z"/><path fill="#40A63A" d="M63.93 453.1h1.44v0.9h-1.44zM65.47 453.1h1.44v0.9h-1.44zM87.4 455.16h1.42v0.95h-1.42zM88.93 456.33h1.42v0.64h-1.42zM90.46 456.91h1.42v0.68h-1.42zM91.99 458.08h1.42v0.44h-1.42zM93.52 458.08h1.42v0.64h-1.42zM95.05 458.08h1.42v0.98h-1.42zM96.58 458.66h1.42v0.71h-1.42zM98.11 458.08h1.42v0.52h-1.42zM99.64 458.08h1.42v0.76h-1.42zM101.17 457.49h1.42v0.4h-1.42zM102.7 456.91h1.42v0.36h-1.42zM104.23 456.91h1.42v0.36h-1.42zM105.76 456.91h1.42v0.89h-1.42zM107.29 456.91h1.42v0.78h-1.42zM108.82 456.33h1.42v1h-1.42zM110.35 456.33h1.42v0.48h-1.42zM111.88 456.91h1.42v0.31h-1.42zM113.41 457.49h1.42v0.63h-1.42zM114.94 456.33h1.42v0.74h-1.42zM116.47 455.74h1.42v0.99h-1.42zM132.52 455.74h1.44v1h-1.44zM138.73 458.66h1.44v0.8h-1.44zM144.95 458.66h1.44v0.8h-1.44zM153.08 455.74h1.53v1h-1.53zM163.6 459.8h1.44v2.4h-1.44zM165.15 459.8h1.44v2.4h-1.44zM170 458.7h1.74v2h-1.74zM171.85 459.8h1.74v1.7h-1.74zM176.6 458.7h1.64v1.8h-1.64zM178.35 460.4h1.64v1.8h-1.64zM183.9 449.8h1.56v46h-1.56zM185.57 449.8h1.56v46h-1.56zM187.23 449.8h1.56v46h-1.56zM192 464.5h1.22v1.2h-1.22zM193.32 463.1h1.22v4.5h-1.22zM194.65 463.1h1.22v4.5h-1.22zM195.98 463.4h1.22v1.7h-1.22zM230.12 466.82h1.45v1.2h-1.45zM231.68 466.82h1.45v1.2h-1.45zM299.12 468.56h1.37v0.8h-1.37zM364.65 490h1.42v0.8h-1.42zM367.72 471.2h1.42v0.8h-1.42zM369.25 471.2h1.42v0.8h-1.42zM399.29 465.29h1.42v1h-1.42zM406.95 473.46h1.42v0.8h-1.42zM413.07 474.55h1.42v0.8h-1.42zM420 474.5h1.49v1h-1.49zM421.6 474.5h1.49v1h-1.49z"/><path fill="#FBA1A0" d="M87.4 459.41h1.42v0.46h-1.42zM88.93 460.47h1.42v0.4h-1.42zM90.46 460.56h1.42v0.92h-1.42zM91.99 461.75h1.42v0.18h-1.42zM93.52 461.71h1.42v0.32h-1.42zM95.05 463.14h1.42v0.83h-1.42zM96.58 462.23h1.42v0.81h-1.42zM98.11 462.43h1.42v0.31h-1.42zM99.64 462.35h1.42v0.75h-1.42zM101.17 461.46h1.42v0.74h-1.42zM102.7 460.9h1.42v0.81h-1.42zM104.23 460.75h1.42v0.46h-1.42zM105.76 461.12h1.42v0.16h-1.42zM107.29 461.54h1.42v0.92h-1.42zM108.82 461.01h1.42v0.52h-1.42zM110.35 460.7h1.42v0.11h-1.42zM111.88 460.93h1.42v0.72h-1.42zM113.41 461.03h1.42v0.57h-1.42zM114.94 459.94h1.42v0.92h-1.42zM116.47 459.68h1.42v1.02h-1.42zM118 461.08h1.42v1h-1.42zM119.53 461.66h1.42v1.5h-1.42zM121.07 458.66h1.42v1h-1.42zM126.3 458.7h1.44v0.5h-1.44zM127.85 458.25h1.44v1.5h-1.44zM129.41 454.9h1.44v2.5h-1.44zM130.96 457.5h1.44v3h-1.44zM132.52 461.74h1.44v1h-1.44zM134.07 462.58h1.44v1.5h-1.44zM135.62 461.99h1.44v2h-1.44zM137.18 461.99h1.44v2h-1.44zM138.73 462.96h1.44v1h-1.44zM140.28 463.24h1.44v1.5h-1.44zM141.84 460.99h1.44v1h-1.44zM143.39 462.08h1.44v1.5h-1.44zM144.95 462.96h1.44v1h-1.44zM149.8 456.36h1.53v0.6h-1.53zM151.44 462.11h1.53v0.6h-1.53zM153.08 459.14h1.53v1.2h-1.53zM154.72 458.08h1.53v1.2h-1.53zM156.36 458.16h1.53v0.6h-1.53zM163.6 462.2h1.44v3.5h-1.44zM165.15 462.2h1.44v3.5h-1.44zM170 460.7h1.74v3.5h-1.74zM171.85 461.5h1.74v3h-1.74zM176.6 460.5h1.64v2.5h-1.64zM178.35 462.2h1.64v2.5h-1.64zM180.1 449.8h1.16v46h-1.16zM181.37 449.8h1.16v46h-1.16zM182.63 449.8h1.16v46h-1.16zM188.9 449.8h1.44v46h-1.44zM190.45 449.8h1.44v46h-1.44zM192 465.7h1.22v8.1h-1.22zM193.32 467.6h1.22v5.7h-1.22zM194.65 467.6h1.22v5.7h-1.22zM195.98 465.1h1.22v9.7h-1.22zM203.8 466.82h1.35v3h-1.35zM205.26 469.15h1.35v0.5h-1.35zM206.71 470.31h1.35v0.5h-1.35zM208.17 468.56h1.35v1.8h-1.35zM209.63 469.73h1.35v1.2h-1.35zM211.09 469.73h1.35v1.2h-1.35zM212.54 469.73h1.35v1.2h-1.35zM228.57 455.74h1.45v2.5h-1.45z"/><path fill="#FF8711" d="M87.4 459.87h1.42v0.5h-1.42zM88.93 460.88h1.42v0.43h-1.42zM90.46 461.48h1.42v1.19h-1.42zM91.99 461.93h1.42v0.71h-1.42zM93.52 462.04h1.42v0.86h-1.42zM95.05 463.96h1.42v0.66h-1.42zM96.58 463.04h1.42v0.5h-1.42zM98.11 462.74h1.42v1.24h-1.42zM99.64 463.09h1.42v0.31h-1.42zM101.17 462.21h1.42v0.71h-1.42zM102.7 461.71h1.42v0.52h-1.42zM104.23 461.22h1.42v0.57h-1.42zM105.76 461.28h1.42v1.05h-1.42zM107.29 462.46h1.42v0.57h-1.42zM108.82 461.53h1.42v1.03h-1.42zM110.35 460.81h1.42v0.71h-1.42zM111.88 461.65h1.42v0.59h-1.42zM113.41 461.6h1.42v0.32h-1.42zM114.94 460.86h1.42v1h-1.42zM116.47 460.7h1.42v1.08h-1.42zM130.96 460.5h1.44v1h-1.44zM132.52 462.74h1.44v1.7h-1.44zM134.07 464.08h1.44v1.5h-1.44zM135.62 463.99h1.44v1.5h-1.44zM137.18 463.99h1.44v1.5h-1.44zM138.73 463.96h1.44v0.6h-1.44zM140.28 464.74h1.44v1h-1.44zM141.84 461.99h1.44v0.6h-1.44zM143.39 463.58h1.44v1.2h-1.44zM144.95 463.96h1.44v0.6h-1.44zM170 476.1h1.74v2.5h-1.74zM171.85 476.1h1.74v2.5h-1.74zM176.6 473.8h1.64v2h-1.64zM178.35 473.8h1.64v2h-1.64zM192 477h1.22v2.3h-1.22zM193.32 478h1.22v2.3h-1.22zM194.65 478h1.22v2.3h-1.22zM195.98 476.5h1.22v5h-1.22zM203.8 473.3h1.35v3.09h-1.35zM205.26 472.93h1.35v3.02h-1.35zM206.71 474.29h1.35v3.14h-1.35zM208.17 473.95h1.35v2.93h-1.35zM209.63 474.39h1.35v3.19h-1.35zM211.09 474.41h1.35v2.48h-1.35zM212.54 474.62h1.35v2.9h-1.35zM223.9 465.4h1.45v3h-1.45zM225.46 465.15h1.45v2.5h-1.45zM228.57 458.24h1.45v2.5h-1.45zM230.12 468.02h1.45v2h-1.45zM231.68 468.02h1.45v2h-1.45zM233.23 460.99h1.45v2.4h-1.45zM234.79 463.35h1.45v2.4h-1.45zM236.34 464.49h1.45v3h-1.45zM241.4 472.78h1.42v3.97h-1.42zM242.93 469.49h1.42v3.66h-1.42zM244.47 475.69h1.42v8.39h-1.42zM250.6 469.34h1.42v0.61h-1.42zM252.13 470.7h1.42v6.21h-1.42zM253.67 472.44h1.42v4.35h-1.42zM255.2 472.18h1.42v3.06h-1.42zM256.73 469.92h1.42v3.82h-1.42zM258.27 472.67h1.42v3.74h-1.42zM259.8 472.74h1.42v2.71h-1.42zM261.33 474.5h1.42v6.45h-1.42zM262.87 472.17h1.42v3.62h-1.42zM264.4 469.08h1.42v2.66h-1.42zM265.93 473.62h1.42v5.38h-1.42zM267.47 475.52h1.42v5.51h-1.42zM269 475.53h1.42v3.46h-1.42zM270.53 466.21h1.42v0.49h-1.42zM272.07 465.76h1.42v2.55h-1.42zM273.6 480.09h1.42v3.11h-1.42zM275.13 476.33h1.42v4.91h-1.42zM276.67 473.75h1.42v5.15h-1.42zM278.2 449.8h1.29v46h-1.29zM279.6 449.8h1.29v46h-1.29zM281 449.8h1.29v46h-1.29zM282.4 449.8h1.29v46h-1.29zM283.8 451.6h1.29v40.2h-1.29zM285.2 449.8h1.29v46h-1.29zM286.6 461.6h1.49v28.9h-1.49zM288.2 453.6h1.69v39.4h-1.69zM290 449.8h1.49v46h-1.49zM291.6 449.8h1.49v46h-1.49zM293.2 474.57h1.37v9.73h-1.37zM294.68 469.96h1.37v16.67h-1.37zM296.16 475.09h1.37v9.21h-1.37zM297.64 474.48h1.37v9.82h-1.37zM299.12 471.96h1.37v13.5h-1.37zM300.61 467.25h1.37v18.22h-1.37zM302.09 472.56h1.37v10.57h-1.37zM303.57 475.74h1.37v6.23h-1.37zM305.05 475.87h1.37v6.1h-1.37zM306.53 478.09h1.37v5.05h-1.37zM308.01 479.13h1.37v5.75h-1.37zM309.49 480.17h1.37v3.55h-1.37zM310.97 484.49h1.37v2.14h-1.37zM312.46 483.6h1.37v3.03h-1.37zM313.94 486.94h1.37v2.02h-1.37zM315.42 483.53h1.37v5.43h-1.37zM322 484.88h1.42v4.66h-1.42zM323.53 482.54h1.42v4.68h-1.42zM325.05 479.23h1.42v5.07h-1.42zM326.58 480.6h1.42v4.29h-1.42zM328.11 477.95h1.42v4.01h-1.42zM329.63 478.58h1.42v3.39h-1.42zM331.16 483.97h1.42v3.24h-1.42zM332.68 485.74h1.42v2.06h-1.42zM334.21 487.28h1.42v1.68h-1.42zM335.74 486.38h1.42v2h-1.42zM337.26 484.91h1.42v2.88h-1.42zM338.79 480.46h1.42v4.42h-1.42zM340.32 477.88h1.42v5.25h-1.42zM341.84 478.12h1.42v6.18h-1.42zM343.37 477.79h1.42v6.51h-1.42zM344.89 479.72h1.42v5.74h-1.42zM346.42 482.73h1.42v3.32h-1.42zM347.95 480.44h1.42v5.02h-1.42zM349.47 478.36h1.42v5.94h-1.42zM351 479.8h1.29v5h-1.29zM376.91 486.3h1.42v1.7h-1.42zM378.44 493.5h1.42v2.3h-1.42zM381.5 489.8h1.42v1.7h-1.42zM394.7 472.98h1.42v2.46h-1.42zM396.23 476.91h1.42v3.25h-1.42zM397.76 477.56h1.42v3.13h-1.42zM399.29 473.95h1.42v3.2h-1.42zM400.82 477.58h1.42v3.55h-1.42zM402.35 476.43h1.42v3.3h-1.42zM403.88 474.83h1.42v3.07h-1.42zM405.42 474.61h1.42v2.66h-1.42zM406.95 475.65h1.42v2.85h-1.42zM408.48 475.7h1.42v3.52h-1.42zM410.01 478.12h1.42v3.42h-1.42zM411.54 479.83h1.42v3.26h-1.42zM413.07 477.22h1.42v2.57h-1.42zM420 477.9h1.49v5.2h-1.49zM421.6 477.9h1.49v5.2h-1.49z"/><path fill="#B7E192" d="M192 462.2h1.22v2.3h-1.22zM193.32 459.3h1.22v3.8h-1.22zM194.65 459.3h1.22v3.8h-1.22zM195.98 458.7h1.22v4.7h-1.22zM197.3 456.8h1.51v39h-1.51zM198.93 449.8h1.51v46h-1.51zM200.55 449.8h1.51v46h-1.51zM202.18 449.8h1.51v46h-1.51z"/><path fill="#ACD1E5" d="M316.9 449.8h1.59v46h-1.59zM318.6 449.8h1.59v46h-1.59zM320.3 449.8h1.59v46h-1.59z"/></g>
<path d="M28.5 495.8v9.5M65.4 495.8v9.5M90 495.8v9.5M117.4 495.8v9.5M163.6 495.8v9.5M204.1 495.8v9.5M244.4 495.8v9.5M274.6 495.8v9.5M316.9 495.8v9.5M360.3 495.8v9.5M422.8 495.8v9.5" stroke="#bdbdbd" stroke-width="0.5" fill="none"/>
<text font-size="6.3" stroke="#111" stroke-width="0.15" transform="translate(46.1 500.3) rotate(90)">Daan</text>
<text font-size="6.3" stroke="#111" stroke-width="0.15" textLength="44.6" lengthAdjust="spacingAndGlyphs" transform="translate(76.9 500.3) rotate(90)">Inner_Mongolian</text>
<text font-size="6.3" stroke="#111" stroke-width="0.15" transform="translate(103 500.3) rotate(90)">Kazakh</text>
<text font-size="6.3" stroke="#111" stroke-width="0.15" transform="translate(136.9 500.3) rotate(90)">Chakouyi</text>
<text font-size="6.3" stroke="#111" stroke-width="0.15" transform="translate(180.7 500.3) rotate(90)">Napu</text>
<text font-size="6.3" stroke="#111" stroke-width="0.15" transform="translate(222.6 500.3) rotate(90)">Jinjiang</text>
<text font-size="6.3" stroke="#111" stroke-width="0.15" transform="translate(256.9 500.3) rotate(90)">Lijiang</text>
<text font-size="6.3" stroke="#111" stroke-width="0.15" transform="translate(292.8 500.3) rotate(90)">Baise</text>
<text font-size="6.3" stroke="#111" stroke-width="0.15" transform="translate(335.9 500.3) rotate(90)">Zhaotong</text>
<text font-size="6.3" stroke="#111" stroke-width="0.15" transform="translate(386.6 500.3) rotate(90)">Tengchong</text>
<text font-size="10.5" x="3.4" y="478.2" textLength="22.3" lengthAdjust="spacingAndGlyphs">K=12</text>
</svg></body></html>
